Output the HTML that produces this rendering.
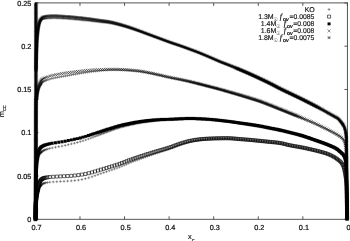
<!DOCTYPE html>
<html><head><meta charset="utf-8"><title>m_cc vs x_c</title>
<style>html,body{margin:0;padding:0;background:#fff}svg{display:block}</style></head>
<body>
<svg width="350" height="241" viewBox="0 0 350 241">
<rect width="350" height="241" fill="#fff"/>
<g stroke="#444" stroke-width="0.9" fill="none">
<rect x="35.4" y="2.9" width="312.00" height="216.40"/>
<path d="M35.40 219.3v-3M35.40 2.9v3M79.97 219.3v-3M79.97 2.9v3M124.54 219.3v-3M124.54 2.9v3M169.11 219.3v-3M169.11 2.9v3M213.69 219.3v-3M213.69 2.9v3M258.26 219.3v-3M258.26 2.9v3M302.83 219.3v-3M302.83 2.9v3M347.40 219.3v-3M347.40 2.9v3M35.4 219.30h3M347.4 219.30h-3M35.4 176.02h3M347.4 176.02h-3M35.4 132.74h3M347.4 132.74h-3M35.4 89.46h3M347.4 89.46h-3M35.4 46.18h3M347.4 46.18h-3M35.4 2.90h3M347.4 2.90h-3"/>
</g>
<path d="M35.15 70.5H37.85M36.5 69.15V71.85M35.16 69.8H37.86M36.51 68.45V71.15M35.18 69.1H37.88M36.53 67.75V70.45M35.19 68.4H37.89M36.54 67.05V69.75M35.2 67.7H37.9M36.55 66.35V69.05M35.22 67H37.92M36.57 65.65V68.35M35.23 66.3H37.93M36.58 64.95V67.65M35.24 65.6H37.94M36.59 64.25V66.95M35.26 64.9H37.96M36.61 63.55V66.25M35.27 64.2H37.97M36.62 62.85V65.55M35.28 63.51H37.98M36.63 62.16V64.86M35.3 62.81H38M36.65 61.46V64.16M35.31 62.11H38.01M36.66 60.76V63.46M35.32 61.41H38.02M36.67 60.06V62.76M35.34 60.71H38.04M36.69 59.36V62.06M35.35 60.01H38.05M36.7 58.66V61.36M35.37 59.32H38.07M36.72 57.97V60.67M35.38 58.62H38.08M36.73 57.27V59.97M35.4 57.92H38.1M36.75 56.57V59.27M35.41 57.22H38.11M36.76 55.87V58.57M35.43 56.52H38.13M36.78 55.17V57.87M35.44 55.82H38.14M36.79 54.47V57.17M35.46 55.12H38.16M36.81 53.77V56.47M35.48 54.42H38.18M36.83 53.07V55.77M35.5 53.72H38.2M36.85 52.37V55.07M35.52 53.02H38.22M36.87 51.67V54.37M35.54 52.32H38.24M36.89 50.97V53.67M35.56 51.62H38.26M36.91 50.27V52.97M35.58 50.92H38.28M36.93 49.57V52.27M35.61 50.21H38.31M36.96 48.86V51.56M35.63 49.51H38.33M36.98 48.16V50.86M35.66 48.81H38.36M37.01 47.46V50.16M35.69 48.11H38.39M37.04 46.76V49.46M35.71 47.41H38.41M37.06 46.06V48.76M35.74 46.71H38.44M37.09 45.36V48.06M35.78 46.01H38.48M37.13 44.66V47.36M35.81 45.3H38.51M37.16 43.95V46.65M35.85 44.6H38.55M37.2 43.25V45.95M35.88 43.9H38.58M37.23 42.55V45.25M35.92 43.2H38.62M37.27 41.85V44.55M35.96 42.49H38.66M37.31 41.14V43.84M36.01 41.79H38.71M37.36 40.44V43.14M36.05 41.09H38.75M37.4 39.74V42.44M36.1 40.39H38.8M37.45 39.04V41.74M36.15 39.68H38.85M37.5 38.33V41.03M36.2 38.98H38.9M37.55 37.63V40.33M36.25 38.27H38.95M37.6 36.92V39.62M36.31 37.57H39.01M37.66 36.22V38.92M36.36 36.86H39.06M37.71 35.51V38.21M36.42 36.16H39.12M37.77 34.81V37.51M36.49 35.45H39.19M37.84 34.1V36.8M36.55 34.75H39.25M37.9 33.4V36.1M36.62 34.04H39.32M37.97 32.69V35.39M36.69 33.33H39.39M38.04 31.98V34.68M36.77 32.63H39.47M38.12 31.28V33.98M36.85 31.92H39.55M38.2 30.57V33.27M36.93 31.21H39.63M38.28 29.86V32.56M37.02 30.51H39.72M38.37 29.16V31.86M37.12 29.8H39.82M38.47 28.45V31.15M37.22 29.09H39.92M38.57 27.74V30.44M37.32 28.39H40.02M38.67 27.04V29.74M37.44 27.68H40.14M38.79 26.33V29.03M37.58 26.98H40.28M38.93 25.63V28.33M37.73 26.29H40.43M39.08 24.94V27.64M37.89 25.59H40.59M39.24 24.24V26.94M38.05 24.9H40.75M39.4 23.55V26.25M38.22 24.2H40.92M39.57 22.85V25.55M38.4 23.5H41.1M39.75 22.15V24.85M38.6 22.81H41.3M39.95 21.46V24.16M38.84 22.14H41.54M40.19 20.79V23.49M39.11 21.47H41.81M40.46 20.12V22.82M39.48 20.87H42.18M40.83 19.52V22.22M39.95 20.35H42.65M41.3 19V21.7M39.88 19.88H42.58M41.23 18.53V21.23M40.45 19.44H43.15M41.8 18.09V20.79M41.07 19.05H43.77M42.42 17.7V20.4M41.78 18.75H44.48M43.13 17.4V20.1M42.62 18.65H45.32M43.97 17.3V20M43.54 18.65H46.24M44.89 17.3V20M44.5 18.45H47.2M45.85 17.1V19.8M45.55 18.29H48.25M46.9 16.94V19.64M46.67 18.19H49.37M48.02 16.84V19.54M47.87 18.11H50.57M49.22 16.76V19.46M49.07 18.03H51.77M50.42 16.68V19.38M50.27 17.97H52.97M51.62 16.62V19.32M51.46 17.94H54.16M52.81 16.59V19.29M52.66 17.92H55.36M54.01 16.57V19.27M53.86 17.94H56.56M55.21 16.59V19.29M55.06 17.98H57.76M56.41 16.63V19.33M56.26 18.04H58.96M57.61 16.69V19.39M57.46 18.1H60.16M58.81 16.75V19.45M58.66 18.16H61.36M60.01 16.81V19.51M59.86 18.23H62.56M61.21 16.88V19.58M61.05 18.3H63.75M62.4 16.95V19.65M62.25 18.37H64.95M63.6 17.02V19.72M63.45 18.45H66.15M64.8 17.1V19.8M64.65 18.53H67.35M66 17.18V19.88M65.84 18.61H68.54M67.19 17.26V19.96M67.04 18.7H69.74M68.39 17.35V20.05M68.24 18.79H70.94M69.59 17.44V20.14M69.43 18.88H72.13M70.78 17.53V20.23M70.62 18.98H73.32M71.97 17.63V20.33M71.81 19.09H74.51M73.16 17.74V20.44M72.99 19.19H75.69M74.34 17.84V20.54M74.17 19.3H76.87M75.52 17.95V20.65M75.34 19.42H78.04M76.69 18.07V20.77M76.51 19.53H79.21M77.86 18.18V20.88M77.67 19.65H80.37M79.02 18.3V21M78.83 19.77H81.53M80.18 18.42V21.12M79.98 19.86H82.68M81.33 18.51V21.21M81.13 19.97H83.83M82.48 18.62V21.32M82.27 20.07H84.97M83.62 18.72V21.42M83.41 20.18H86.11M84.76 18.83V21.53M84.54 20.29H87.24M85.89 18.94V21.64M85.67 20.4H88.37M87.02 19.05V21.75M86.79 20.52H89.49M88.14 19.17V21.87M87.91 20.64H90.61M89.26 19.29V21.99M89.02 20.76H91.72M90.37 19.41V22.11M90.13 20.88H92.83M91.48 19.53V22.23M91.24 21.01H93.94M92.59 19.66V22.36M92.33 21.15H95.03M93.68 19.8V22.5M93.43 21.28H96.13M94.78 19.93V22.63M94.52 21.42H97.22M95.87 20.07V22.77M95.6 21.56H98.3M96.95 20.21V22.91M96.68 21.69H99.38M98.03 20.34V23.04M97.76 21.83H100.46M99.11 20.48V23.18M98.83 21.95H101.53M100.18 20.6V23.3M99.9 22.07H102.6M101.25 20.72V23.42M100.97 22.18H103.67M102.32 20.83V23.53M102.03 22.29H104.73M103.38 20.94V23.64M103.09 22.39H105.79M104.44 21.04V23.74M104.14 22.5H106.84M105.49 21.15V23.85M105.19 22.62H107.89M106.54 21.27V23.97M106.23 22.74H108.93M107.58 21.39V24.09M107.27 22.88H109.97M108.62 21.53V24.23M108.3 23.04H111M109.65 21.69V24.39M109.32 23.22H112.02M110.67 21.87V24.57M110.34 23.41H113.04M111.69 22.06V24.76M111.34 23.61H114.04M112.69 22.26V24.96M112.35 23.83H115.05M113.7 22.48V25.18M113.34 24.05H116.04M114.69 22.7V25.4M114.33 24.28H117.03M115.68 22.93V25.63M115.31 24.51H118.01M116.66 23.16V25.86M116.29 24.75H118.99M117.64 23.4V26.1M117.26 25H119.96M118.61 23.65V26.35M118.23 25.24H120.93M119.58 23.89V26.59M119.2 25.49H121.9M120.55 24.14V26.84M120.16 25.74H122.86M121.51 24.39V27.09M121.12 26H123.82M122.47 24.65V27.35M122.08 26.26H124.78M123.43 24.91V27.61M123.03 26.53H125.73M124.38 25.18V27.88M123.99 26.8H126.69M125.34 25.45V28.15M124.94 27.08H127.64M126.29 25.73V28.43M125.89 27.36H128.59M127.24 26.01V28.71M126.84 27.65H129.54M128.19 26.3V29M127.79 27.94H130.49M129.14 26.59V29.29M128.74 28.23H131.44M130.09 26.88V29.58M129.69 28.53H132.39M131.04 27.18V29.88M130.63 28.83H133.33M131.98 27.48V30.18M131.58 29.14H134.28M132.93 27.79V30.49M132.52 29.45H135.22M133.87 28.1V30.8M133.46 29.77H136.16M134.81 28.42V31.12M134.4 30.09H137.1M135.75 28.74V31.44M135.34 30.41H138.04M136.69 29.06V31.76M136.28 30.73H138.98M137.63 29.38V32.08M137.21 31.05H139.91M138.56 29.7V32.4M138.15 31.38H140.85M139.5 30.03V32.73M139.09 31.7H141.79M140.44 30.35V33.05M140.03 32.03H142.73M141.38 30.68V33.38M140.96 32.36H143.66M142.31 31.01V33.71M141.9 32.69H144.6M143.25 31.34V34.04M142.83 33.03H145.53M144.18 31.68V34.38M143.76 33.36H146.46M145.11 32.01V34.71M144.7 33.69H147.4M146.05 32.34V35.04M145.63 34.03H148.33M146.98 32.68V35.38M146.57 34.36H149.27M147.92 33.01V35.71M147.5 34.69H150.2M148.85 33.34V36.04M148.44 35.02H151.14M149.79 33.67V36.37M149.37 35.37H152.07M150.72 34.02V36.72M150.31 35.72H153.01M151.66 34.37V37.07M151.25 36.07H153.95M152.6 34.72V37.42M152.18 36.41H154.88M153.53 35.06V37.76M153.12 36.76H155.82M154.47 35.41V38.11M154.06 37.11H156.76M155.41 35.76V38.46M155 37.45H157.7M156.35 36.1V38.8M155.94 37.8H158.64M157.29 36.45V39.15M156.88 38.14H159.58M158.23 36.79V39.49M157.81 38.49H160.51M159.16 37.14V39.84M158.75 38.84H161.45M160.1 37.49V40.19M159.69 39.19H162.39M161.04 37.84V40.54M160.63 39.54H163.33M161.98 38.19V40.89M161.56 39.89H164.26M162.91 38.54V41.24M162.5 40.24H165.2M163.85 38.89V41.59M163.44 40.59H166.14M164.79 39.24V41.94M164.37 40.94H167.07M165.72 39.59V42.29M165.31 41.29H168.01M166.66 39.94V42.64M166.25 41.63H168.95M167.6 40.28V42.98M167.19 41.97H169.89M168.54 40.62V43.32M168.13 42.31H170.83M169.48 40.96V43.66M169.07 42.65H171.77M170.42 41.3V44M170.01 42.98H172.71M171.36 41.63V44.33M170.96 43.3H173.66M172.31 41.95V44.65M171.91 43.62H174.61M173.26 42.27V44.97M172.86 43.94H175.56M174.21 42.59V45.29M173.8 44.26H176.5M175.15 42.91V45.61M174.75 44.57H177.45M176.1 43.22V45.92M175.7 44.89H178.4M177.05 43.54V46.24M176.65 45.21H179.35M178 43.86V46.56M177.59 45.53H180.29M178.94 44.18V46.88M178.54 45.86H181.24M179.89 44.51V47.21M179.48 46.19H182.18M180.83 44.84V47.54M180.43 46.53H183.13M181.78 45.18V47.88M181.37 46.86H184.07M182.72 45.51V48.21M182.31 47.19H185.01M183.66 45.84V48.54M183.25 47.53H185.95M184.6 46.18V48.88M184.19 47.87H186.89M185.54 46.52V49.22M185.13 48.21H187.83M186.48 46.86V49.56M186.07 48.55H188.77M187.42 47.2V49.9M187.01 48.9H189.71M188.36 47.55V50.25M187.95 49.24H190.65M189.3 47.89V50.59M188.89 49.59H191.59M190.24 48.24V50.94M189.83 49.94H192.53M191.18 48.59V51.29M190.76 50.28H193.46M192.11 48.93V51.63M191.7 50.63H194.4M193.05 49.28V51.98M192.64 50.98H195.34M193.99 49.63V52.33M193.57 51.33H196.27M194.92 49.98V52.68M194.51 51.69H197.21M195.86 50.34V53.04M195.44 52.05H198.14M196.79 50.7V53.4M196.38 52.41H199.08M197.73 51.06V53.76M197.31 52.77H200.01M198.66 51.42V54.12M198.24 53.14H200.94M199.59 51.79V54.49M199.17 53.51H201.87M200.52 52.16V54.86M200.09 53.88H202.79M201.44 52.53V55.23M201.02 54.27H203.72M202.37 52.92V55.62M201.94 54.65H204.64M203.29 53.3V56M202.86 55.04H205.56M204.21 53.69V56.39M203.78 55.43H206.48M205.13 54.08V56.78M204.7 55.82H207.4M206.05 54.47V57.17M205.62 56.21H208.32M206.97 54.86V57.56M206.54 56.6H209.24M207.89 55.25V57.95M207.46 56.99H210.16M208.81 55.64V58.34M208.38 57.39H211.08M209.73 56.04V58.74M209.3 57.78H212M210.65 56.43V59.13M210.22 58.18H212.92M211.57 56.83V59.53M211.14 58.57H213.84M212.49 57.22V59.92M212.05 58.98H214.75M213.4 57.63V60.33M212.97 59.38H215.67M214.32 58.03V60.73M213.89 59.78H216.59M215.24 58.43V61.13M214.8 60.21H217.5M216.15 58.86V61.56M215.72 60.63H218.42M217.07 59.28V61.98M216.64 61.05H219.34M217.99 59.7V62.4M217.56 61.46H220.26M218.91 60.11V62.81M218.49 61.86H221.19M219.84 60.51V63.21M219.42 62.26H222.12M220.77 60.91V63.61M220.35 62.65H223.05M221.7 61.3V64M221.28 63.03H223.98M222.63 61.68V64.38M222.22 63.41H224.92M223.57 62.06V64.76M223.15 63.79H225.85M224.5 62.44V65.14M224.09 64.16H226.79M225.44 62.81V65.51M225.03 64.53H227.73M226.38 63.18V65.88M225.96 64.91H228.66M227.31 63.56V66.26M226.9 65.28H229.6M228.25 63.93V66.63M227.84 65.66H230.54M229.19 64.31V67.01M228.77 66.05H231.47M230.12 64.7V67.4M229.7 66.44H232.4M231.05 65.09V67.79M230.63 66.83H233.33M231.98 65.48V68.18M231.56 67.22H234.26M232.91 65.87V68.57M232.49 67.61H235.19M233.84 66.26V68.96M233.42 68H236.12M234.77 66.65V69.35M234.35 68.4H237.05M235.7 67.05V69.75M235.28 68.8H237.98M236.63 67.45V70.15M236.2 69.2H238.9M237.55 67.85V70.55M237.13 69.6H239.83M238.48 68.25V70.95M238.05 70.01H240.75M239.4 68.66V71.36M238.98 70.41H241.68M240.33 69.06V71.76M239.9 70.82H242.6M241.25 69.47V72.17M240.82 71.23H243.52M242.17 69.88V72.58M241.74 71.65H244.44M243.09 70.3V73M242.66 72.06H245.36M244.01 70.71V73.41M243.58 72.48H246.28M244.93 71.13V73.83M244.5 72.88H247.2M245.85 71.53V74.23M245.42 73.28H248.12M246.77 71.93V74.63M246.34 73.68H249.04M247.69 72.33V75.03M247.25 74.08H249.95M248.6 72.73V75.43M248.17 74.49H250.87M249.52 73.14V75.84M249.08 74.89H251.78M250.43 73.54V76.24M249.99 75.3H252.69M251.34 73.95V76.65M250.9 75.71H253.6M252.25 74.36V77.06M251.81 76.13H254.51M253.16 74.78V77.48M252.72 76.54H255.42M254.07 75.19V77.89M253.63 76.96H256.33M254.98 75.61V78.31M254.54 77.38H257.24M255.89 76.03V78.73M255.45 77.8H258.15M256.8 76.45V79.15M256.35 78.22H259.05M257.7 76.87V79.57M257.26 78.65H259.96M258.61 77.3V80M258.16 79.07H260.86M259.51 77.72V80.42M259.07 79.5H261.77M260.42 78.15V80.85M259.97 79.92H262.67M261.32 78.57V81.27M260.88 80.35H263.58M262.23 79V81.7M261.78 80.78H264.48M263.13 79.43V82.13M262.69 81.2H265.39M264.04 79.85V82.55M263.59 81.63H266.29M264.94 80.28V82.98M264.49 82.07H267.19M265.84 80.72V83.42M265.39 82.5H268.09M266.74 81.15V83.85M266.29 82.94H268.99M267.64 81.59V84.29M267.19 83.38H269.89M268.54 82.03V84.73M268.09 83.82H270.79M269.44 82.47V85.17M268.98 84.27H271.68M270.33 82.92V85.62M269.87 84.72H272.57M271.22 83.37V86.07M270.76 85.18H273.46M272.11 83.83V86.53M271.65 85.64H274.35M273 84.29V86.99M272.53 86.11H275.23M273.88 84.76V87.46M273.42 86.58H276.12M274.77 85.23V87.93M274.3 87.04H277M275.65 85.69V88.39M275.18 87.51H277.88M276.53 86.16V88.86M276.07 87.98H278.77M277.42 86.63V89.33M276.96 88.44H279.66M278.31 87.09V89.79M277.85 88.89H280.55M279.2 87.54V90.24M278.74 89.34H281.44M280.09 87.99V90.69M279.63 89.79H282.33M280.98 88.44V91.14M280.53 90.23H283.23M281.88 88.88V91.58M281.43 90.66H284.13M282.78 89.31V92.01M282.33 91.1H285.03M283.68 89.75V92.45M283.24 91.53H285.94M284.59 90.18V92.88M284.14 91.96H286.84M285.49 90.61V93.31M285.04 92.39H287.74M286.39 91.04V93.74M285.95 92.81H288.65M287.3 91.46V94.16M286.85 93.24H289.55M288.2 91.89V94.59M287.75 93.67H290.45M289.1 92.32V95.02M288.66 94.1H291.36M290.01 92.75V95.45M289.56 94.53H292.26M290.91 93.18V95.88M290.46 94.97H293.16M291.81 93.62V96.32M291.36 95.4H294.06M292.71 94.05V96.75M292.27 95.83H294.97M293.62 94.48V97.18M293.17 96.26H295.87M294.52 94.91V97.61M294.07 96.69H296.77M295.42 95.34V98.04M294.97 97.12H297.67M296.32 95.77V98.47M295.87 97.55H298.57M297.22 96.2V98.9M296.77 97.99H299.47M298.12 96.64V99.34M297.67 98.42H300.37M299.02 97.07V99.77M298.57 98.86H301.27M299.92 97.51V100.21M299.47 99.3H302.17M300.82 97.95V100.65M300.37 99.74H303.07M301.72 98.39V101.09M301.26 100.19H303.96M302.61 98.84V101.54M302.16 100.63H304.86M303.51 99.28V101.98M303.06 101.08H305.76M304.41 99.73V102.43M303.95 101.53H306.65M305.3 100.18V102.88M304.84 101.97H307.54M306.19 100.62V103.32M305.74 102.42H308.44M307.09 101.07V103.77M306.63 102.87H309.33M307.98 101.52V104.22M307.52 103.33H310.22M308.87 101.98V104.68M308.41 103.78H311.11M309.76 102.43V105.13M309.3 104.23H312M310.65 102.88V105.58M310.19 104.69H312.89M311.54 103.34V106.04M311.08 105.14H313.78M312.43 103.79V106.49M311.97 105.6H314.67M313.32 104.25V106.95M312.86 106.06H315.56M314.21 104.71V107.41M313.75 106.52H316.45M315.1 105.17V107.87M314.65 106.98H317.35M316 105.63V108.33M315.62 107.49H318.32M316.97 106.14V108.84M316.68 108.05H319.38M318.03 106.7V109.4M317.83 108.66H320.53M319.18 107.31V110.01M319.08 109.34H321.78M320.43 107.99V110.69M320.43 110.08H323.13M321.78 108.73V111.43M321.9 110.89H324.6M323.25 109.54V112.24M323.37 111.72H326.07M324.72 110.37V113.07M324.82 112.54H327.52M326.17 111.19V113.89M326.26 113.35H328.96M327.61 112V114.7M327.67 114.15H330.37M329.02 112.8V115.5M329.08 114.94H331.78M330.43 113.59V116.29M330.47 115.72H333.17M331.82 114.37V117.07M331.85 116.48H334.55M333.2 115.13V117.83M333.21 117.25H335.91M334.56 115.9V118.6M334.57 117.99H337.27M335.92 116.64V119.34M335.91 118.71H338.61M337.26 117.36V120.06M337.05 119.69H339.75M338.4 118.34V121.04M338.02 120.77H340.72M339.37 119.42V122.12M338.87 121.79H341.57M340.22 120.44V123.14M339.64 122.7H342.34M340.99 121.35V124.05M340.35 123.55H343.05M341.7 122.2V124.9M340.98 124.36H343.68M342.33 123.01V125.71M341.53 125.15H344.23M342.88 123.8V126.5M342.01 125.9H344.71M343.36 124.55V127.25M342.44 126.63H345.14M343.79 125.28V127.98M342.8 127.34H345.5M344.15 125.99V128.69M343.09 128.07H345.79M344.44 126.72V129.42M343.36 128.8H346.06M344.71 127.45V130.15M343.6 129.54H346.3M344.95 128.19V130.89M343.82 130.3H346.52M345.17 128.95V131.65M344.01 131.06H346.71M345.36 129.71V132.41M344.18 131.82H346.88M345.53 130.47V133.17M344.32 132.6H347.02M345.67 131.25V133.95M344.44 133.38H347.14M345.79 132.03V134.73M344.54 134.17H347.24M345.89 132.82V135.52M344.63 134.95H347.33M345.98 133.6V136.3M344.72 135.74H347.42M346.07 134.39V137.09M344.84 136.52H347.54M346.19 135.17V137.87M344.98 137.29H347.68M346.33 135.94V138.64M345.01 138.09H347.71M346.36 136.74V139.44M345.03 138.89H347.73M346.38 137.54V140.24M345.05 139.69H347.75M346.4 138.34V141.04M345.07 140.49H347.77M346.42 139.14V141.84M345.08 141.28H347.78M346.43 139.93V142.63M345.09 142.08H347.79M346.44 140.73V143.43M345.1 142.88H347.8M346.45 141.53V144.23M345.11 143.68H347.81M346.46 142.33V145.03M345.12 144.48H347.82M346.47 143.13V145.83M345.12 145.28H347.82M346.47 143.93V146.63M345.13 146.08H347.83M346.48 144.73V147.43M345.14 146.88H347.84M346.49 145.53V148.23M345.14 147.68H347.84M346.49 146.33V149.03M345.15 148.48H347.85M346.5 147.13V149.83M345.16 149.28H347.86M346.51 147.93V150.63M345.16 150.08H347.86M346.51 148.73V151.43M345.17 150.88H347.87M346.52 149.53V152.23M345.18 151.68H347.88M346.53 150.33V153.03M345.18 152.48H347.88M346.53 151.13V153.83M345.19 153.28H347.89M346.54 151.93V154.63M345.19 154.07H347.89M346.54 152.72V155.42M345.2 154.87H347.9M346.55 153.52V156.22M345.21 155.67H347.91M346.56 154.32V157.02M345.21 156.47H347.91M346.56 155.12V157.82M345.22 157.27H347.92M346.57 155.92V158.62M345.23 158.07H347.93M346.58 156.72V159.42M345.23 158.87H347.93M346.58 157.52V160.22M345.24 159.67H347.94M346.59 158.32V161.02M345.25 160.47H347.95M346.6 159.12V161.82M345.26 161.27H347.96M346.61 159.92V162.62M345.27 162.07H347.97M346.62 160.72V163.42M345.27 162.87H347.97M346.62 161.52V164.22M345.28 163.67H347.98M346.63 162.32V165.02M345.29 164.47H347.99M346.64 163.12V165.82M345.3 165.27H348M346.65 163.92V166.62M345.31 166.07H348.01M346.66 164.72V167.42M345.31 166.86H348.01M346.66 165.51V168.21M345.32 167.66H348.02M346.67 166.31V169.01M345.33 168.46H348.03M346.68 167.11V169.81M345.34 169.26H348.04M346.69 167.91V170.61M345.35 170.06H348.05M346.7 168.71V171.41M345.36 170.86H348.06M346.71 169.51V172.21M345.36 171.66H348.06M346.71 170.31V173.01M345.37 172.46H348.07M346.72 171.11V173.81M345.38 173.26H348.08M346.73 171.91V174.61M345.39 174.06H348.09M346.74 172.71V175.41M345.4 174.86H348.1M346.75 173.51V176.21M345.41 175.66H348.11M346.76 174.31V177.01M345.41 176.46H348.11M346.76 175.11V177.81M345.42 177.26H348.12M346.77 175.91V178.61M345.43 178.05H348.13M346.78 176.7V179.4M345.44 178.85H348.14M346.79 177.5V180.2M345.45 179.65H348.15M346.8 178.3V181M345.46 180.45H348.16M346.81 179.1V181.8M345.46 181.25H348.16M346.81 179.9V182.6M345.47 182.05H348.17M346.82 180.7V183.4M345.48 182.85H348.18M346.83 181.5V184.2M345.49 183.65H348.19M346.84 182.3V185M345.49 184.45H348.19M346.84 183.1V185.8M345.5 185.25H348.2M346.85 183.9V186.6M345.51 186.05H348.21M346.86 184.7V187.4M345.52 186.85H348.22M346.87 185.5V188.2M345.52 187.65H348.22M346.87 186.3V189M345.53 188.45H348.23M346.88 187.1V189.8M345.54 189.25H348.24M346.89 187.9V190.6M345.55 190.05H348.25M346.9 188.7V191.4M345.55 190.84H348.25M346.9 189.49V192.19M345.56 191.64H348.26M346.91 190.29V192.99M345.57 192.44H348.27M346.92 191.09V193.79M345.57 193.24H348.27M346.92 191.89V194.59M345.58 194.04H348.28M346.93 192.69V195.39M345.58 194.84H348.28M346.93 193.49V196.19M345.59 195.64H348.29M346.94 194.29V196.99M345.6 196.44H348.3M346.95 195.09V197.79M345.6 197.24H348.3M346.95 195.89V198.59M345.61 198.04H348.31M346.96 196.69V199.39M345.61 198.84H348.31M346.96 197.49V200.19M345.62 199.64H348.32M346.97 198.29V200.99M345.62 200.44H348.32M346.97 199.09V201.79M345.63 201.24H348.33M346.98 199.89V202.59M345.64 202.04H348.34M346.99 200.69V203.39M345.64 202.84H348.34M346.99 201.49V204.19M345.65 203.64H348.35M347 202.29V204.99M345.65 204.44H348.35M347 203.09V205.79M345.66 205.24H348.36M347.01 203.89V206.59M345.66 206.04H348.36M347.01 204.69V207.39M345.67 206.83H348.37M347.02 205.48V208.18M345.67 207.63H348.37M347.02 206.28V208.98M345.68 208.43H348.38M347.03 207.08V209.78M345.68 209.23H348.38M347.03 207.88V210.58M345.69 210.03H348.39M347.04 208.68V211.38M345.69 210.83H348.39M347.04 209.48V212.18M345.7 211.63H348.4M347.05 210.28V212.98M345.7 212.43H348.4M347.05 211.08V213.78M345.71 213.23H348.41M347.06 211.88V214.58M345.71 214.03H348.41M347.06 212.68V215.38M345.72 214.83H348.42M347.07 213.48V216.18M345.72 215.63H348.42M347.07 214.28V216.98M345.73 216.43H348.43M347.08 215.08V217.78M345.73 217.23H348.43M347.08 215.88V218.58M345.74 218.03H348.44M347.09 216.68V219.38M345.75 218.83H348.45M347.1 217.48V220.18M34.75 219.3H37.45M36.1 217.95V220.65M34.75 219.3H37.45M36.1 217.95V220.65M34.75 218.6H37.45M36.1 217.25V219.95M34.75 217.9H37.45M36.1 216.55V219.25M34.76 217.2H37.46M36.11 215.85V218.55M34.76 216.5H37.46M36.11 215.15V217.85M34.76 215.8H37.46M36.11 214.45V217.15M34.76 215.1H37.46M36.11 213.75V216.45M34.76 214.4H37.46M36.11 213.05V215.75M34.76 213.7H37.46M36.11 212.35V215.05M34.77 213H37.47M36.12 211.65V214.35M34.77 212.3H37.47M36.12 210.95V213.65M34.77 211.6H37.47M36.12 210.25V212.95M34.77 210.9H37.47M36.12 209.55V212.25M34.77 210.2H37.47M36.12 208.85V211.55M34.77 209.5H37.47M36.12 208.15V210.85M34.77 208.8H37.47M36.12 207.45V210.15M34.78 208.1H37.48M36.13 206.75V209.45M34.78 207.4H37.48M36.13 206.05V208.75M34.78 206.7H37.48M36.13 205.35V208.05M34.78 206H37.48M36.13 204.65V207.35M34.78 205.3H37.48M36.13 203.95V206.65M34.78 204.6H37.48M36.13 203.25V205.95M34.78 203.9H37.48M36.13 202.55V205.25M34.78 203.2H37.48M36.13 201.85V204.55M34.79 202.5H37.49M36.14 201.15V203.85M34.79 201.8H37.49M36.14 200.45V203.15M34.79 201.1H37.49M36.14 199.75V202.45M34.79 200.4H37.49M36.14 199.05V201.75M34.79 199.7H37.49M36.14 198.35V201.05M34.79 199H37.49M36.14 197.65V200.35M34.79 198.3H37.49M36.14 196.95V199.65M34.8 197.6H37.5M36.15 196.25V198.95M34.8 196.9H37.5M36.15 195.55V198.25M34.8 196.2H37.5M36.15 194.85V197.55M34.8 195.5H37.5M36.15 194.15V196.85M34.8 194.8H37.5M36.15 193.45V196.15M34.8 194.1H37.5M36.15 192.75V195.45M34.8 193.4H37.5M36.15 192.05V194.75M34.8 192.7H37.5M36.15 191.35V194.05M34.81 192H37.51M36.16 190.65V193.35M34.81 191.3H37.51M36.16 189.95V192.65M34.81 190.6H37.51M36.16 189.25V191.95M34.81 189.9H37.51M36.16 188.55V191.25M34.81 189.2H37.51M36.16 187.85V190.55M34.81 188.5H37.51M36.16 187.15V189.85M34.81 187.8H37.51M36.16 186.45V189.15M34.82 187.1H37.52M36.17 185.75V188.45M34.82 186.4H37.52M36.17 185.05V187.75M34.82 185.7H37.52M36.17 184.35V187.05M34.82 185H37.52M36.17 183.65V186.35M34.82 184.3H37.52M36.17 182.95V185.65M34.82 183.6H37.52M36.17 182.25V184.95M34.82 182.9H37.52M36.17 181.55V184.25M34.82 182.2H37.52M36.17 180.85V183.55M34.83 181.5H37.53M36.18 180.15V182.85M34.83 180.8H37.53M36.18 179.45V182.15M34.83 180.1H37.53M36.18 178.75V181.45M34.83 179.4H37.53M36.18 178.05V180.75M34.83 178.7H37.53M36.18 177.35V180.05M34.83 178H37.53M36.18 176.65V179.35M34.83 177.3H37.53M36.18 175.95V178.65M34.84 176.6H37.54M36.19 175.25V177.95M34.84 175.9H37.54M36.19 174.55V177.25M34.84 175.2H37.54M36.19 173.85V176.55M34.84 174.5H37.54M36.19 173.15V175.85M34.84 173.8H37.54M36.19 172.45V175.15M34.84 173.1H37.54M36.19 171.75V174.45M34.84 172.4H37.54M36.19 171.05V173.75M34.85 171.7H37.55M36.2 170.35V173.05M34.85 171H37.55M36.2 169.65V172.35M34.85 170.3H37.55M36.2 168.95V171.65M34.85 169.6H37.55M36.2 168.25V170.95M34.85 168.9H37.55M36.2 167.55V170.25M34.85 168.2H37.55M36.2 166.85V169.55M34.85 167.5H37.55M36.2 166.15V168.85M34.86 166.8H37.56M36.21 165.45V168.15M34.86 166.1H37.56M36.21 164.75V167.45M34.86 165.4H37.56M36.21 164.05V166.75M34.86 164.7H37.56M36.21 163.35V166.05M34.86 164H37.56M36.21 162.65V165.35M34.86 163.3H37.56M36.21 161.95V164.65M34.86 162.6H37.56M36.21 161.25V163.95M34.87 161.9H37.57M36.22 160.55V163.25M34.87 161.2H37.57M36.22 159.85V162.55M34.87 160.5H37.57M36.22 159.15V161.85M34.87 159.8H37.57M36.22 158.45V161.15M34.87 159.1H37.57M36.22 157.75V160.45M34.87 158.4H37.57M36.22 157.05V159.75M34.88 157.7H37.58M36.23 156.35V159.05M34.88 157H37.58M36.23 155.65V158.35M34.88 156.3H37.58M36.23 154.95V157.65M34.88 155.6H37.58M36.23 154.25V156.95M34.88 154.9H37.58M36.23 153.55V156.25M34.88 154.2H37.58M36.23 152.85V155.55M34.89 153.5H37.59M36.24 152.15V154.85M34.89 152.8H37.59M36.24 151.45V154.15M34.89 152.1H37.59M36.24 150.75V153.45M34.89 151.4H37.59M36.24 150.05V152.75M34.89 150.7H37.59M36.24 149.35V152.05M34.89 150H37.59M36.24 148.65V151.35M34.9 149.3H37.6M36.25 147.95V150.65M34.9 148.6H37.6M36.25 147.25V149.95M34.9 147.9H37.6M36.25 146.55V149.25M34.9 147.2H37.6M36.25 145.85V148.55M34.9 146.5H37.6M36.25 145.15V147.85M34.91 145.8H37.61M36.26 144.45V147.15M34.91 145.1H37.61M36.26 143.75V146.45M34.91 144.4H37.61M36.26 143.05V145.75M34.91 143.7H37.61M36.26 142.35V145.05M34.91 143H37.61M36.26 141.65V144.35M34.92 142.3H37.62M36.27 140.95V143.65M34.92 141.6H37.62M36.27 140.25V142.95M34.92 140.9H37.62M36.27 139.55V142.25M34.92 140.2H37.62M36.27 138.85V141.55M34.92 139.5H37.62M36.27 138.15V140.85M34.93 138.8H37.63M36.28 137.45V140.15M34.93 138.1H37.63M36.28 136.75V139.45M34.93 137.4H37.63M36.28 136.05V138.75M34.93 136.7H37.63M36.28 135.35V138.05M34.93 136H37.63M36.28 134.65V137.35M34.94 135.3H37.64M36.29 133.95V136.65M34.94 134.6H37.64M36.29 133.25V135.95M34.94 133.9H37.64M36.29 132.55V135.25M34.94 133.2H37.64M36.29 131.85V134.55M34.95 132.5H37.65M36.3 131.15V133.85M34.95 131.8H37.65M36.3 130.45V133.15M34.95 131.1H37.65M36.3 129.75V132.45M34.95 130.4H37.65M36.3 129.05V131.75M34.96 129.7H37.66M36.31 128.35V131.05M34.96 129H37.66M36.31 127.65V130.35M34.96 128.3H37.66M36.31 126.95V129.65M34.96 127.6H37.66M36.31 126.25V128.95M34.97 126.9H37.67M36.32 125.55V128.25M34.97 126.2H37.67M36.32 124.85V127.55M34.97 125.5H37.67M36.32 124.15V126.85M34.98 124.8H37.68M36.33 123.45V126.15M34.98 124.1H37.68M36.33 122.75V125.45M34.98 123.4H37.68M36.33 122.05V124.75M34.98 122.7H37.68M36.33 121.35V124.05M34.99 122H37.69M36.34 120.65V123.35M34.99 121.3H37.69M36.34 119.95V122.65M34.99 120.6H37.69M36.34 119.25V121.95M35 119.9H37.7M36.35 118.55V121.25M35 119.2H37.7M36.35 117.85V120.55M35 118.5H37.7M36.35 117.15V119.85M35.01 117.8H37.71M36.36 116.45V119.15M35.01 117.1H37.71M36.36 115.75V118.45M35.02 116.4H37.72M36.37 115.05V117.75M35.02 115.7H37.72M36.37 114.35V117.05M35.03 115H37.73M36.38 113.65V116.35M35.03 114.3H37.73M36.38 112.95V115.65M35.03 113.6H37.73M36.38 112.25V114.95M35.04 112.9H37.74M36.39 111.55V114.25M35.04 112.2H37.74M36.39 110.85V113.55M35.05 111.5H37.75M36.4 110.15V112.85M35.05 110.8H37.75M36.4 109.45V112.15M35.06 110.1H37.76M36.41 108.75V111.45M35.07 109.4H37.77M36.42 108.05V110.75M35.08 108.7H37.78M36.43 107.35V110.05M35.08 108H37.78M36.43 106.65V109.35M35.09 107.3H37.79M36.44 105.95V108.65M35.1 106.6H37.8M36.45 105.25V107.95M35.11 105.9H37.81M36.46 104.55V107.25M35.11 105.2H37.81M36.46 103.85V106.55M35.12 104.5H37.82M36.47 103.15V105.85M35.14 103.8H37.84M36.49 102.45V105.15M35.15 103.1H37.85M36.5 101.75V104.45M35.17 102.4H37.87M36.52 101.05V103.75M35.18 101.7H37.88M36.53 100.35V103.05M35.2 101H37.9M36.55 99.65V102.35M35.23 100.3H37.93M36.58 98.95V101.65M35.26 99.61H37.96M36.61 98.26V100.96M35.32 98.94H38.02M36.67 97.59V100.29M35.49 99.12H38.19M36.84 97.77V100.47M35.67 99.67H38.37M37.02 98.32V101.02M35.77 99H38.47M37.12 97.65V100.35M35.83 98.32H38.53M37.18 96.97V99.67M35.89 97.64H38.59M37.24 96.29V98.99M35.96 96.96H38.66M37.31 95.61V98.31M36.03 96.28H38.73M37.38 94.93V97.63M36.11 95.6H38.81M37.46 94.25V96.95M36.19 94.93H38.89M37.54 93.58V96.28M36.28 94.26H38.98M37.63 92.91V95.61M36.38 93.58H39.08M37.73 92.23V94.93M36.49 92.91H39.19M37.84 91.56V94.26M36.6 92.25H39.3M37.95 90.9V93.6M36.72 91.59H39.42M38.07 90.24V92.94M36.87 90.93H39.57M38.22 89.58V92.28M37.03 90.29H39.73M38.38 88.94V91.64M37.21 89.66H39.91M38.56 88.31V91.01M37.4 89.03H40.1M38.75 87.68V90.38M37.6 88.4H40.3M38.95 87.05V89.75M37.81 87.77H40.51M39.16 86.42V89.12M38.05 87.16H40.75M39.4 85.81V88.51M38.31 86.57H41.01M39.66 85.22V87.92M38.6 85.99H41.3M39.95 84.64V87.34M38.92 85.44H41.62M40.27 84.09V86.79M39.28 84.91H41.98M40.63 83.56V86.26M39.67 84.4H42.37M41.02 83.05V85.75M40.07 83.9H42.77M41.42 82.55V85.25M39.89 83.32H42.59M41.24 81.97V84.67M40.4 82.72H43.1M41.75 81.37V84.07M41.02 82.21H43.72M42.37 80.86V83.56M41.74 81.72H44.44M43.09 80.37V83.07M42.64 81.24H45.34M43.99 79.89V82.59M43.73 80.77H46.43M45.08 79.42V82.12M45.06 80.27H47.76M46.41 78.92V81.62M46.65 79.73H49.35M48 78.38V81.08M48.56 79.12H51.26M49.91 77.77V80.47M50.48 78.55H53.18M51.83 77.2V79.9M52.43 78.13H55.13M53.78 76.78V79.48M54.39 77.75H57.09M55.74 76.4V79.1M56.36 77.36H59.06M57.71 76.01V78.71M58.32 76.98H61.02M59.67 75.63V78.33M60.29 76.62H62.99M61.64 75.27V77.97M62.26 76.28H64.96M63.61 74.93V77.63M64.23 75.95H66.93M65.58 74.6V77.3M66.22 75.58H68.92M67.57 74.23V76.93M68.2 75.22H70.9M69.55 73.87V76.57M70.18 74.86H72.88M71.53 73.51V76.21M72.17 74.5H74.87M73.52 73.15V75.85M74.15 74.16H76.85M75.5 72.81V75.51M76.14 73.82H78.84M77.49 72.47V75.17M78.13 73.49H80.83M79.48 72.14V74.84M80.12 73.16H82.82M81.47 71.81V74.51M82.1 72.84H84.8M83.45 71.49V74.19M84.09 72.53H86.79M85.44 71.18V73.88M86.08 72.23H88.78M87.43 70.88V73.58M88.08 71.95H90.78M89.43 70.6V73.3M90.07 71.68H92.77M91.42 70.33V73.03M92.07 71.44H94.77M93.42 70.09V72.79M94.06 71.21H96.76M95.41 69.86V72.56M96.06 71H98.76M97.41 69.65V72.35M98.06 70.79H100.76M99.41 69.44V72.14M100.05 70.6H102.75M101.4 69.25V71.95M102.04 70.41H104.74M103.39 69.06V71.76M104.02 70.24H106.72M105.37 68.89V71.59M105.98 70.09H108.68M107.33 68.74V71.44M107.93 69.95H110.63M109.28 68.6V71.3M109.86 69.89H112.56M111.21 68.54V71.24M111.78 69.88H114.48M113.13 68.53V71.23M113.69 69.88H116.39M115.04 68.53V71.23M115.58 69.9H118.28M116.93 68.55V71.25M117.46 69.94H120.16M118.81 68.59V71.29M119.32 70H122.02M120.67 68.65V71.35M121.17 70.07H123.87M122.52 68.72V71.42M123.01 70.17H125.71M124.36 68.82V71.52M124.83 70.27H127.53M126.18 68.92V71.62M126.64 70.39H129.34M127.99 69.04V71.74M128.43 70.53H131.13M129.78 69.18V71.88M130.22 70.66H132.92M131.57 69.31V72.01M131.98 70.81H134.68M133.33 69.46V72.16M133.74 70.96H136.44M135.09 69.61V72.31M135.48 71.13H138.18M136.83 69.78V72.48M137.2 71.33H139.9M138.55 69.98V72.68M138.91 71.55H141.61M140.26 70.2V72.9M140.61 71.81H143.31M141.96 70.46V73.16M142.28 72.08H144.98M143.63 70.73V73.43M143.94 72.38H146.64M145.29 71.03V73.73M145.59 72.69H148.29M146.94 71.34V74.04M147.22 73.01H149.92M148.57 71.66V74.36M148.85 73.33H151.55M150.2 71.98V74.68M150.45 73.65H153.15M151.8 72.3V75M152.05 73.99H154.75M153.4 72.64V75.34M153.63 74.34H156.33M154.98 72.99V75.69M155.2 74.68H157.9M156.55 73.33V76.03M156.75 75.03H159.45M158.1 73.68V76.38M158.3 75.38H161M159.65 74.03V76.73M159.83 75.72H162.53M161.18 74.37V77.07M161.35 76.07H164.05M162.7 74.72V77.42M162.87 76.42H165.57M164.22 75.07V77.77M164.37 76.77H167.07M165.72 75.42V78.12M165.86 77.11H168.56M167.21 75.76V78.46M167.34 77.44H170.04M168.69 76.09V78.79M168.81 77.76H171.51M170.16 76.41V79.11M170.28 78.06H172.98M171.63 76.71V79.41M171.72 78.35H174.42M173.07 77V79.7M173.13 78.62H175.83M174.48 77.27V79.97M174.51 78.89H177.21M175.86 77.54V80.24M175.87 79.15H178.57M177.22 77.8V80.5M177.2 79.41H179.9M178.55 78.06V80.76M178.5 79.67H181.2M179.85 78.32V81.02M179.78 79.93H182.48M181.13 78.58V81.28M181.03 80.2H183.73M182.38 78.85V81.55M182.25 80.46H184.95M183.6 79.11V81.81M183.45 80.71H186.15M184.8 79.36V82.06M184.63 80.97H187.33M185.98 79.62V82.32M185.78 81.22H188.48M187.13 79.87V82.57M186.91 81.47H189.61M188.26 80.12V82.82M188.01 81.73H190.71M189.36 80.38V83.08M189.1 81.98H191.8M190.45 80.63V83.33M190.16 82.23H192.86M191.51 80.88V83.58M191.2 82.48H193.9M192.55 81.13V83.83M192.22 82.73H194.92M193.57 81.38V84.08M193.21 82.97H195.91M194.56 81.62V84.32M194.19 83.22H196.89M195.54 81.87V84.57M195.15 83.46H197.85M196.5 82.11V84.81M196.09 83.7H198.79M197.44 82.35V85.05M197.01 83.93H199.71M198.36 82.58V85.28M197.92 84.16H200.62M199.27 82.81V85.51M198.8 84.38H201.5M200.15 83.03V85.73M199.67 84.6H202.37M201.02 83.25V85.95M200.55 84.82H203.25M201.9 83.47V86.17M201.42 85.05H204.12M202.77 83.7V86.4M202.29 85.27H204.99M203.64 83.92V86.62M203.16 85.5H205.86M204.51 84.15V86.85M204.03 85.72H206.73M205.38 84.37V87.07M204.9 85.95H207.6M206.25 84.6V87.3M205.77 86.17H208.47M207.12 84.82V87.52M206.64 86.4H209.34M207.99 85.05V87.75M207.51 86.62H210.21M208.86 85.27V87.97M208.38 86.85H211.08M209.73 85.5V88.2M209.26 87.07H211.96M210.61 85.72V88.42M210.13 87.29H212.83M211.48 85.94V88.64M211 87.51H213.7M212.35 86.16V88.86M211.87 87.74H214.57M213.22 86.39V89.09M212.74 87.96H215.44M214.09 86.61V89.31M213.61 88.18H216.31M214.96 86.83V89.53M214.48 88.42H217.18M215.83 87.07V89.77M215.36 88.66H218.06M216.71 87.31V90.01M216.23 88.91H218.93M217.58 87.56V90.26M217.1 89.15H219.8M218.45 87.8V90.5M217.97 89.4H220.67M219.32 88.05V90.75M218.84 89.65H221.54M220.19 88.3V91M219.7 89.91H222.4M221.05 88.56V91.26M220.57 90.16H223.27M221.92 88.81V91.51M221.44 90.42H224.14M222.79 89.07V91.77M222.31 90.68H225.01M223.66 89.33V92.03M223.17 90.94H225.87M224.52 89.59V92.29M224.04 91.21H226.74M225.39 89.86V92.56M224.9 91.47H227.6M226.25 90.12V92.82M225.77 91.73H228.47M227.12 90.38V93.08M226.64 91.99H229.34M227.99 90.64V93.34M227.5 92.25H230.2M228.85 90.9V93.6M228.37 92.52H231.07M229.72 91.17V93.87M229.24 92.78H231.94M230.59 91.43V94.13M230.1 93.03H232.8M231.45 91.68V94.38M230.97 93.29H233.67M232.32 91.94V94.64M231.84 93.55H234.54M233.19 92.2V94.9M232.7 93.81H235.4M234.05 92.46V95.16M233.57 94.06H236.27M234.92 92.71V95.41M234.44 94.32H237.14M235.79 92.97V95.67M235.31 94.58H238.01M236.66 93.23V95.93M236.17 94.84H238.87M237.52 93.49V96.19M237.04 95.11H239.74M238.39 93.76V96.46M237.9 95.37H240.6M239.25 94.02V96.72M238.77 95.64H241.47M240.12 94.29V96.99M239.63 95.91H242.33M240.98 94.56V97.26M240.5 96.18H243.2M241.85 94.83V97.53M241.36 96.45H244.06M242.71 95.1V97.8M242.22 96.72H244.92M243.57 95.37V98.07M243.08 96.99H245.78M244.43 95.64V98.34M243.95 97.26H246.65M245.3 95.91V98.61M244.81 97.52H247.51M246.16 96.17V98.87M245.67 97.79H248.37M247.02 96.44V99.14M246.53 98.05H249.23M247.88 96.7V99.4M247.39 98.31H250.09M248.74 96.96V99.66M248.25 98.58H250.95M249.6 97.23V99.93M249.11 98.84H251.81M250.46 97.49V100.19M249.97 99.11H252.67M251.32 97.76V100.46M250.83 99.37H253.53M252.18 98.02V100.72M251.69 99.64H254.39M253.04 98.29V100.99M252.55 99.91H255.25M253.9 98.56V101.26M253.41 100.17H256.11M254.76 98.82V101.52M254.27 100.45H256.97M255.62 99.1V101.8M255.12 100.72H257.82M256.47 99.37V102.07M255.98 101H258.68M257.33 99.65V102.35M256.84 101.28H259.54M258.19 99.93V102.63M257.69 101.57H260.39M259.04 100.22V102.92M258.54 101.86H261.24M259.89 100.51V103.21M259.39 102.16H262.09M260.74 100.81V103.51M260.23 102.47H262.93M261.58 101.12V103.82M261.08 102.78H263.78M262.43 101.43V104.13M261.92 103.09H264.62M263.27 101.74V104.44M262.76 103.41H265.46M264.11 102.06V104.76M263.6 103.73H266.3M264.95 102.38V105.08M264.44 104.06H267.14M265.79 102.71V105.41M265.28 104.38H267.98M266.63 103.03V105.73M266.12 104.71H268.82M267.47 103.36V106.06M266.96 105.04H269.66M268.31 103.69V106.39M267.8 105.37H270.5M269.15 104.02V106.72M268.64 105.69H271.34M269.99 104.34V107.04M269.47 106.02H272.17M270.82 104.67V107.37M270.31 106.35H273.01M271.66 105V107.7M271.15 106.68H273.85M272.5 105.33V108.03M271.98 107.02H274.68M273.33 105.67V108.37M272.82 107.35H275.52M274.17 106V108.7M273.65 107.69H276.35M275 106.34V109.04M274.49 108.03H277.19M275.84 106.68V109.38M275.32 108.36H278.02M276.67 107.01V109.71M276.16 108.7H278.86M277.51 107.35V110.05M276.99 109.03H279.69M278.34 107.68V110.38M277.83 109.37H280.53M279.18 108.02V110.72M278.66 109.71H281.36M280.01 108.36V111.06M279.5 110.04H282.2M280.85 108.69V111.39M280.33 110.37H283.03M281.68 109.02V111.72M281.17 110.71H283.87M282.52 109.36V112.06M282.01 111.04H284.71M283.36 109.69V112.39M282.84 111.38H285.54M284.19 110.03V112.73M283.68 111.71H286.38M285.03 110.36V113.06M284.51 112.04H287.21M285.86 110.69V113.39M285.35 112.38H288.05M286.7 111.03V113.73M286.18 112.71H288.88M287.53 111.36V114.06M287.02 113.05H289.72M288.37 111.7V114.4M287.85 113.38H290.55M289.2 112.03V114.73M288.69 113.72H291.39M290.04 112.37V115.07M289.53 114.05H292.23M290.88 112.7V115.4M290.36 114.38H293.06M291.71 113.03V115.73M291.2 114.72H293.9M292.55 113.37V116.07M292.03 115.05H294.73M293.38 113.7V116.4M292.87 115.38H295.57M294.22 114.03V116.73M293.71 115.72H296.41M295.06 114.37V117.07M294.55 116.05H297.25M295.9 114.7V117.4M295.47 116.42H298.17M296.82 115.07V117.77M296.47 116.82H299.17M297.82 115.47V118.17M297.57 117.26H300.27M298.92 115.91V118.61M298.77 117.75H301.47M300.12 116.4V119.1M300.07 118.28H302.77M301.42 116.93V119.63M301.5 118.87H304.2M302.85 117.52V120.22M303.05 119.51H305.75M304.4 118.16V120.86M304.75 120.22H307.45M306.1 118.87V121.57M306.5 120.96H309.2M307.85 119.61V122.31M308.26 121.69H310.96M309.61 120.34V123.04M310.01 122.42H312.71M311.36 121.07V123.77M311.76 123.16H314.46M313.11 121.81V124.51M313.5 123.93H316.2M314.85 122.58V125.28M315.22 124.73H317.92M316.57 123.38V126.08M316.94 125.54H319.64M318.29 124.19V126.89M318.66 126.36H321.36M320.01 125.01V127.71M320.37 127.19H323.07M321.72 125.84V128.54M322.07 128.02H324.77M323.42 126.67V129.37M323.78 128.85H326.48M325.13 127.5V130.2M325.48 129.69H328.18M326.83 128.34V131.04M327.18 130.55H329.88M328.53 129.2V131.9M328.87 131.41H331.57M330.22 130.06V132.76M330.56 132.29H333.26M331.91 130.94V133.64M332.24 133.18H334.94M333.59 131.83V134.53M333.91 134.08H336.61M335.26 132.73V135.43M335.56 135.02H338.26M336.91 133.67V136.37M337.19 136.01H339.89M338.54 134.66V137.36M338.76 137.07H341.46M340.11 135.72V138.42M340.26 138.14H342.96M341.61 136.79V139.49M341.62 139.38H344.32M342.97 138.03V140.73M342.63 140.93H345.33M343.98 139.58V142.28M343.33 142.65H346.03M344.68 141.3V144M343.84 144.45H346.54M345.19 143.1V145.8M344.2 146.29H346.9M345.55 144.94V147.64M344.51 148.14H347.21M345.86 146.79V149.49M344.71 150.02H347.41M346.06 148.67V151.37M344.82 151.91H347.52M346.17 150.56V153.26M344.9 153.81H347.6M346.25 152.46V155.16M344.97 155.7H347.67M346.32 154.35V157.05M345.02 157.6H347.72M346.37 156.25V158.95M345.07 159.49H347.77M346.42 158.14V160.84M345.11 161.39H347.81M346.46 160.04V162.74M345.14 163.29H347.84M346.49 161.94V164.64M345.17 165.19H347.87M346.52 163.84V166.54M345.2 167.08H347.9M346.55 165.73V168.43M345.23 168.98H347.93M346.58 167.63V170.33M345.25 170.88H347.95M346.6 169.53V172.23M345.28 172.78H347.98M346.63 171.43V174.13M345.3 174.68H348M346.65 173.33V176.03M345.32 176.58H348.02M346.67 175.23V177.93M345.34 178.47H348.04M346.69 177.12V179.82M345.36 180.37H348.06M346.71 179.02V181.72M345.39 182.27H348.09M346.74 180.92V183.62M345.4 184.17H348.1M346.75 182.82V185.52M345.42 186.07H348.12M346.77 184.72V187.42M345.44 187.97H348.14M346.79 186.62V189.32M345.46 189.87H348.16M346.81 188.52V191.22M345.48 191.77H348.18M346.83 190.42V193.12M345.5 193.66H348.2M346.85 192.31V195.01M345.52 195.56H348.22M346.87 194.21V196.91M345.54 197.46H348.24M346.89 196.11V198.81M345.56 199.36H348.26M346.91 198.01V200.71M345.57 201.26H348.27M346.92 199.91V202.61M345.59 203.16H348.29M346.94 201.81V204.51M345.61 205.06H348.31M346.96 203.71V206.41M345.63 206.96H348.33M346.98 205.61V208.31M345.65 208.85H348.35M347 207.5V210.2M345.67 210.75H348.37M347.02 209.4V212.1M345.68 212.65H348.38M347.03 211.3V214M345.7 214.55H348.4M347.05 213.2V215.9M345.72 216.45H348.42M347.07 215.1V217.8M345.74 218.35H348.44M347.09 217V219.7M34.65 219.3H37.35M36 217.95V220.65M34.66 219.3H37.36M36.01 217.95V220.65M34.66 219.1H37.36M36.01 217.75V220.45M34.67 218.4H37.37M36.02 217.05V219.75M34.68 217.7H37.38M36.03 216.35V219.05M34.69 217H37.39M36.04 215.65V218.35M34.69 216.3H37.39M36.04 214.95V217.65M34.7 215.6H37.4M36.05 214.25V216.95M34.71 214.9H37.41M36.06 213.55V216.25M34.71 214.2H37.41M36.06 212.85V215.55M34.72 213.5H37.42M36.07 212.15V214.85M34.73 212.8H37.43M36.08 211.45V214.15M34.73 212.1H37.43M36.08 210.75V213.45M34.74 211.4H37.44M36.09 210.05V212.75M34.75 210.7H37.45M36.1 209.35V212.05M34.75 210H37.45M36.1 208.65V211.35M34.76 209.3H37.46M36.11 207.95V210.65M34.77 208.6H37.47M36.12 207.25V209.95M34.77 207.9H37.47M36.12 206.55V209.25M34.78 207.2H37.48M36.13 205.85V208.55M34.79 206.5H37.49M36.14 205.15V207.85M34.79 205.8H37.49M36.14 204.45V207.15M34.8 205.1H37.5M36.15 203.75V206.45M34.81 204.4H37.51M36.16 203.05V205.75M34.81 203.7H37.51M36.16 202.35V205.05M34.82 203H37.52M36.17 201.65V204.35M34.83 202.3H37.53M36.18 200.95V203.65M34.83 201.6H37.53M36.18 200.25V202.95M34.84 200.9H37.54M36.19 199.55V202.25M34.85 200.2H37.55M36.2 198.85V201.55M34.85 199.5H37.55M36.2 198.15V200.85M34.86 198.8H37.56M36.21 197.45V200.15M34.87 198.1H37.57M36.22 196.75V199.45M34.88 197.4H37.58M36.23 196.05V198.75M34.88 196.7H37.58M36.23 195.35V198.05M34.89 196H37.59M36.24 194.65V197.35M34.9 195.3H37.6M36.25 193.95V196.65M34.9 194.6H37.6M36.25 193.25V195.95M34.91 193.9H37.61M36.26 192.55V195.25M34.92 193.2H37.62M36.27 191.85V194.55M34.93 192.5H37.63M36.28 191.15V193.85M34.94 191.8H37.64M36.29 190.45V193.15M34.94 191.1H37.64M36.29 189.75V192.45M34.95 190.4H37.65M36.3 189.05V191.75M34.96 189.7H37.66M36.31 188.35V191.05M34.97 189H37.67M36.32 187.65V190.35M34.98 188.3H37.68M36.33 186.95V189.65M34.98 187.6H37.68M36.33 186.25V188.95M34.99 186.9H37.69M36.34 185.55V188.25M35 186.2H37.7M36.35 184.85V187.55M35.01 185.5H37.71M36.36 184.15V186.85M35.02 184.8H37.72M36.37 183.45V186.15M35.03 184.1H37.73M36.38 182.75V185.45M35.04 183.4H37.74M36.39 182.05V184.75M35.05 182.7H37.75M36.4 181.35V184.05M35.06 182H37.76M36.41 180.65V183.35M35.07 181.3H37.77M36.42 179.95V182.65M35.08 180.6H37.78M36.43 179.25V181.95M35.09 179.9H37.79M36.44 178.55V181.25M35.1 179.2H37.8M36.45 177.85V180.55M35.11 178.5H37.81M36.46 177.15V179.85M35.13 177.8H37.83M36.48 176.45V179.15M35.14 177.1H37.84M36.49 175.75V178.45M35.15 176.4H37.85M36.5 175.05V177.75M35.17 175.7H37.87M36.52 174.35V177.05M35.19 175H37.89M36.54 173.65V176.35M35.2 174.3H37.9M36.55 172.95V175.65M35.22 173.6H37.92M36.57 172.25V174.95M35.24 172.9H37.94M36.59 171.55V174.25M35.27 172.22H37.97M36.62 170.87V173.57M35.29 171.54H37.99M36.64 170.19V172.89M35.32 170.86H38.02M36.67 169.51V172.21M35.36 170.18H38.06M36.71 168.83V171.53M35.39 169.5H38.09M36.74 168.15V170.85M35.44 168.84H38.14M36.79 167.49V170.19M35.49 168.17H38.19M36.84 166.82V169.52M35.56 167.52H38.26M36.91 166.17V168.87M35.63 166.87H38.33M36.98 165.52V168.22M35.71 166.23H38.41M37.06 164.88V167.58M35.78 165.58H38.48M37.13 164.23V166.93M35.85 164.92H38.55M37.2 163.57V166.27M35.91 164.26H38.61M37.26 162.91V165.61M35.98 163.6H38.68M37.33 162.25V164.95M36.06 162.95H38.76M37.41 161.6V164.3M36.14 162.3H38.84M37.49 160.95V163.65M36.23 161.66H38.93M37.58 160.31V163.01M36.32 161.02H39.02M37.67 159.67V162.37M36.42 160.38H39.12M37.77 159.03V161.73M36.53 159.75H39.23M37.88 158.4V161.1M36.64 159.12H39.34M37.99 157.77V160.47M36.76 158.5H39.46M38.11 157.15V159.85M36.88 157.87H39.58M38.23 156.52V159.22M37.02 157.26H39.72M38.37 155.91V158.61M37.17 156.66H39.87M38.52 155.31V158.01M37.34 156.08H40.04M38.69 154.73V157.43M37.53 155.51H40.23M38.88 154.16V156.86M37.74 154.95H40.44M39.09 153.6V156.3M37.96 154.41H40.66M39.31 153.06V155.76M38.22 153.91H40.92M39.57 152.56V155.26M38.52 153.45H41.22M39.87 152.1V154.8M38.87 153.04H41.57M40.22 151.69V154.39M39.26 152.68H41.96M40.61 151.33V154.03M39.72 152.4H42.42M41.07 151.05V153.75M40.23 152.21H42.93M41.58 150.86V153.56M40.22 151.73H42.92M41.57 150.38V153.08M40.88 151.31H43.58M42.23 149.96V152.66M41.56 150.91H44.26M42.91 149.56V152.26M42.26 150.52H44.96M43.61 149.17V151.87M42.99 150.17H45.69M44.34 148.82V151.52M43.84 149.83H46.54M45.19 148.48V151.18M44.95 149.44H47.65M46.3 148.09V150.79M46.41 148.97H49.11M47.76 147.62V150.32M48.33 148.44H51.03M49.68 147.09V149.79M50.86 147.87H53.56M52.21 146.52V149.22M54.12 147.24H56.82M55.47 145.89V148.59M57.38 146.65H60.08M58.73 145.3V148M60.64 146.05H63.34M61.99 144.7V147.4M63.85 145.38H66.55M65.2 144.03V146.73M66.99 144.65H69.69M68.34 143.3V146M70.05 143.92H72.75M71.4 142.57V145.27M73.06 143.2H75.76M74.41 141.85V144.55M76 142.47H78.7M77.35 141.12V143.82M78.87 141.68H81.57M80.22 140.33V143.03M81.66 140.82H84.36M83.01 139.47V142.17M84.38 139.9H87.08M85.73 138.55V141.25M86.99 138.94H89.69M88.34 137.59V140.29M89.41 138.05H92.11M90.76 136.7V139.4M91.64 137.23H94.34M92.99 135.88V138.58M93.7 136.46H96.4M95.05 135.11V137.81M95.6 135.75H98.3M96.95 134.4V137.1M97.35 135.09H100.05M98.7 133.74V136.44M98.98 134.48H101.68M100.33 133.13V135.83M100.49 133.91H103.19M101.84 132.56V135.26M101.99 133.35H104.69M103.34 132V134.7M103.47 132.79H106.17M104.82 131.44V134.14M104.92 132.24H107.62M106.27 130.89V133.59M106.35 131.71H109.05M107.7 130.36V133.06M107.77 131.19H110.47M109.12 129.84V132.54M109.17 130.68H111.87M110.52 129.33V132.03M110.54 130.17H113.24M111.89 128.82V131.52M111.9 129.68H114.6M113.25 128.33V131.03M113.24 129.19H115.94M114.59 127.84V130.54M114.56 128.74H117.26M115.91 127.39V130.09M115.86 128.31H118.56M117.21 126.96V129.66M117.15 127.91H119.85M118.5 126.56V129.26M118.43 127.52H121.13M119.78 126.17V128.87M119.69 127.16H122.39M121.04 125.81V128.51M120.95 126.82H123.65M122.3 125.47V128.17M122.2 126.5H124.9M123.55 125.15V127.85M123.45 126.19H126.15M124.8 124.84V127.54M124.69 125.89H127.39M126.04 124.54V127.24M125.92 125.6H128.62M127.27 124.25V126.95M127.15 125.32H129.85M128.5 123.97V126.67M128.37 125.04H131.07M129.72 123.69V126.39M129.58 124.76H132.28M130.93 123.41V126.11M130.78 124.49H133.48M132.13 123.14V125.84M131.98 124.23H134.68M133.33 122.88V125.58M133.17 123.97H135.87M134.52 122.62V125.32M134.35 123.72H137.05M135.7 122.37V125.07M135.53 123.48H138.23M136.88 122.13V124.83M136.7 123.25H139.4M138.05 121.9V124.6M137.87 123.03H140.57M139.22 121.68V124.38M139.03 122.82H141.73M140.38 121.47V124.17M140.18 122.62H142.88M141.53 121.27V123.97M141.32 122.44H144.02M142.67 121.09V123.79M142.46 122.26H145.16M143.81 120.91V123.61M143.6 122.09H146.3M144.95 120.74V123.44M144.72 121.93H147.42M146.07 120.58V123.28M145.84 121.77H148.54M147.19 120.42V123.12M146.95 121.62H149.65M148.3 120.27V122.97M148.06 121.48H150.76M149.41 120.13V122.83M149.16 121.33H151.86M150.51 119.98V122.68M150.25 121.17H152.95M151.6 119.82V122.52M151.35 121.02H154.05M152.7 119.67V122.37M152.44 120.87H155.14M153.79 119.52V122.22M153.54 120.73H156.24M154.89 119.38V122.08M154.63 120.6H157.33M155.98 119.25V121.95M155.72 120.47H158.42M157.07 119.12V121.82M156.82 120.34H159.52M158.17 118.99V121.69M157.91 120.23H160.61M159.26 118.88V121.58M159.01 120.12H161.71M160.36 118.77V121.47M160.1 120.02H162.8M161.45 118.67V121.37M161.19 119.93H163.89M162.54 118.58V121.28M162.29 119.85H164.99M163.64 118.5V121.2M163.38 119.77H166.08M164.73 118.42V121.12M164.47 119.7H167.17M165.82 118.35V121.05M165.56 119.63H168.26M166.91 118.28V120.98M166.65 119.55H169.35M168 118.2V120.9M167.75 119.47H170.45M169.1 118.12V120.82M168.84 119.39H171.54M170.19 118.04V120.74M169.92 119.34H172.62M171.27 117.99V120.69M171.01 119.29H173.71M172.36 117.94V120.64M172.1 119.23H174.8M173.45 117.88V120.58M173.19 119.18H175.89M174.54 117.83V120.53M174.27 119.12H176.97M175.62 117.77V120.47M175.36 119.06H178.06M176.71 117.71V120.41M176.44 119H179.14M177.79 117.65V120.35M177.53 118.95H180.23M178.88 117.6V120.3M178.61 118.9H181.31M179.96 117.55V120.25M179.7 118.86H182.4M181.05 117.51V120.21M180.78 118.81H183.48M182.13 117.46V120.16M181.86 118.77H184.56M183.21 117.42V120.12M182.95 118.73H185.65M184.3 117.38V120.08M184.03 118.69H186.73M185.38 117.34V120.04M185.11 118.65H187.81M186.46 117.3V120M186.19 118.63H188.89M187.54 117.28V119.98M187.27 118.61H189.97M188.62 117.26V119.96M188.35 118.6H191.05M189.7 117.25V119.95M189.43 118.6H192.13M190.78 117.25V119.95M190.51 118.62H193.21M191.86 117.27V119.97M191.59 118.64H194.29M192.94 117.29V119.99M192.67 118.66H195.37M194.02 117.31V120.01M193.75 118.7H196.45M195.1 117.35V120.05M194.82 118.74H197.52M196.17 117.39V120.09M195.9 118.78H198.6M197.25 117.43V120.13M196.98 118.83H199.68M198.33 117.48V120.18M198.05 118.87H200.75M199.4 117.52V120.22M199.12 118.92H201.82M200.47 117.57V120.27M200.2 118.97H202.9M201.55 117.62V120.32M201.27 119.03H203.97M202.62 117.68V120.38M202.34 119.08H205.04M203.69 117.73V120.43M203.41 119.14H206.11M204.76 117.79V120.49M204.48 119.21H207.18M205.83 117.86V120.56M205.55 119.28H208.25M206.9 117.93V120.63M206.62 119.35H209.32M207.97 118V120.7M207.69 119.43H210.39M209.04 118.08V120.78M208.76 119.51H211.46M210.11 118.16V120.86M209.83 119.6H212.53M211.18 118.25V120.95M210.89 119.69H213.59M212.24 118.34V121.04M211.95 119.79H214.65M213.3 118.44V121.14M213.02 119.9H215.72M214.37 118.55V121.25M214.08 120.01H216.78M215.43 118.66V121.36M215.14 120.12H217.84M216.49 118.77V121.47M216.2 120.23H218.9M217.55 118.88V121.58M217.26 120.35H219.96M218.61 119V121.7M218.32 120.46H221.02M219.67 119.11V121.81M219.38 120.58H222.08M220.73 119.23V121.93M220.44 120.7H223.14M221.79 119.35V122.05M221.5 120.82H224.2M222.85 119.47V122.17M222.55 120.94H225.25M223.9 119.59V122.29M223.61 121.07H226.31M224.96 119.72V122.42M224.66 121.2H227.36M226.01 119.85V122.55M225.72 121.33H228.42M227.07 119.98V122.68M226.77 121.46H229.47M228.12 120.11V122.81M227.82 121.59H230.52M229.17 120.24V122.94M228.87 121.74H231.57M230.22 120.39V123.09M229.92 121.91H232.62M231.27 120.56V123.26M230.97 122.09H233.67M232.32 120.74V123.44M232.02 122.28H234.72M233.37 120.93V123.63M233.07 122.46H235.77M234.42 121.11V123.81M234.12 122.65H236.82M235.47 121.3V124M235.16 122.83H237.86M236.51 121.48V124.18M236.21 123.02H238.91M237.56 121.67V124.37M237.26 123.2H239.96M238.61 121.85V124.55M238.3 123.39H241M239.65 122.04V124.74M239.35 123.57H242.05M240.7 122.22V124.92M240.39 123.75H243.09M241.74 122.4V125.1M241.44 123.93H244.14M242.79 122.58V125.28M242.48 124.11H245.18M243.83 122.76V125.46M243.52 124.29H246.22M244.87 122.94V125.64M244.57 124.47H247.27M245.92 123.12V125.82M245.61 124.65H248.31M246.96 123.3V126M246.65 124.84H249.35M248 123.49V126.19M247.69 125.02H250.39M249.04 123.67V126.37M248.73 125.21H251.43M250.08 123.86V126.56M249.77 125.37H252.47M251.12 124.02V126.72M250.8 125.52H253.5M252.15 124.17V126.87M251.84 125.68H254.54M253.19 124.33V127.03M252.88 125.84H255.58M254.23 124.49V127.19M253.91 126H256.61M255.26 124.65V127.35M254.95 126.17H257.65M256.3 124.82V127.52M255.98 126.34H258.68M257.33 124.99V127.69M257.01 126.51H259.71M258.36 125.16V127.86M258.04 126.69H260.74M259.39 125.34V128.04M259.07 126.88H261.77M260.42 125.53V128.23M260.1 127.07H262.8M261.45 125.72V128.42M261.12 127.27H263.82M262.47 125.92V128.62M262.15 127.47H264.85M263.5 126.12V128.82M263.17 127.68H265.87M264.52 126.33V129.03M264.19 127.89H266.89M265.54 126.54V129.24M265.21 128.1H267.91M266.56 126.75V129.45M266.23 128.31H268.93M267.58 126.96V129.66M267.25 128.52H269.95M268.6 127.17V129.87M268.27 128.72H270.97M269.62 127.37V130.07M269.29 128.93H271.99M270.64 127.58V130.28M270.31 129.13H273.01M271.66 127.78V130.48M271.33 129.33H274.03M272.68 127.98V130.68M272.35 129.52H275.05M273.7 128.17V130.87M273.37 129.72H276.07M274.72 128.37V131.07M274.39 129.92H277.09M275.74 128.57V131.27M275.41 130.12H278.11M276.76 128.77V131.47M276.42 130.33H279.12M277.77 128.98V131.68M277.44 130.54H280.14M278.79 129.19V131.89M278.45 130.76H281.15M279.8 129.41V132.11M279.46 130.98H282.16M280.81 129.63V132.33M280.47 131.21H283.17M281.82 129.86V132.56M281.48 131.44H284.18M282.83 130.09V132.79M282.48 131.68H285.18M283.83 130.33V133.03M283.49 131.92H286.19M284.84 130.57V133.27M284.49 132.17H287.19M285.84 130.82V133.52M285.49 132.41H288.19M286.84 131.06V133.76M286.49 132.66H289.19M287.84 131.31V134.01M287.49 132.91H290.19M288.84 131.56V134.26M288.49 133.16H291.19M289.84 131.81V134.51M289.49 133.41H292.19M290.84 132.06V134.76M290.49 133.66H293.19M291.84 132.31V135.01M291.49 133.91H294.19M292.84 132.56V135.26M292.49 134.17H295.19M293.84 132.82V135.52M293.48 134.42H296.18M294.83 133.07V135.77M294.48 134.68H297.18M295.83 133.33V136.03M295.47 134.94H298.17M296.82 133.59V136.29M296.46 135.2H299.16M297.81 133.85V136.55M297.45 135.47H300.15M298.8 134.12V136.82M298.44 135.74H301.14M299.79 134.39V137.09M299.43 136.02H302.13M300.78 134.67V137.37M300.41 136.31H303.11M301.76 134.96V137.66M301.39 136.61H304.09M302.74 135.26V137.96M302.37 136.92H305.07M303.72 135.57V138.27M303.34 137.23H306.04M304.69 135.88V138.58M304.31 137.55H307.01M305.66 136.2V138.9M305.28 137.88H307.98M306.63 136.53V139.23M306.25 138.2H308.95M307.6 136.85V139.55M307.22 138.53H309.92M308.57 137.18V139.88M308.18 138.87H310.88M309.53 137.52V140.22M309.14 139.2H311.84M310.49 137.85V140.55M310.11 139.54H312.81M311.46 138.19V140.89M311.07 139.88H313.77M312.42 138.53V141.23M312.03 140.22H314.73M313.38 138.87V141.57M312.99 140.56H315.69M314.34 139.21V141.91M313.95 140.9H316.65M315.3 139.55V142.25M314.91 141.24H317.61M316.26 139.89V142.59M315.86 141.58H318.56M317.21 140.23V142.93M316.82 141.91H319.52M318.17 140.56V143.26M317.78 142.25H320.48M319.13 140.9V143.6M318.74 142.59H321.44M320.09 141.24V143.94M319.7 142.93H322.4M321.05 141.58V144.28M320.65 143.27H323.35M322 141.92V144.62M321.61 143.62H324.31M322.96 142.27V144.97M322.56 143.97H325.26M323.91 142.62V145.32M323.5 144.32H326.2M324.85 142.97V145.67M324.45 144.68H327.15M325.8 143.33V146.03M325.39 145.05H328.09M326.74 143.7V146.4M326.33 145.43H329.03M327.68 144.08V146.78M327.27 145.81H329.97M328.62 144.46V147.16M328.2 146.21H330.9M329.55 144.86V147.56M329.13 146.6H331.83M330.48 145.25V147.95M330.06 146.99H332.76M331.41 145.64V148.34M330.99 147.38H333.69M332.34 146.03V148.73M331.92 147.78H334.62M333.27 146.43V149.13M332.83 148.2H335.53M334.18 146.85V149.55M333.73 148.66H336.43M335.08 147.31V150.01M334.6 149.17H337.3M335.95 147.82V150.52M335.43 149.73H338.13M336.78 148.38V151.08M336.24 150.34H338.94M337.59 148.99V151.69M337.02 150.97H339.72M338.37 149.62V152.32M337.79 151.62H340.49M339.14 150.27V152.97M338.55 152.28H341.25M339.9 150.93V153.63M339.3 152.94H342M340.65 151.59V154.29M340.05 153.61H342.75M341.4 152.26V154.96M340.8 154.28H343.5M342.15 152.93V155.63M341.53 154.97H344.23M342.88 153.62V156.32M342.13 155.77H344.83M343.48 154.42V157.12M342.66 156.63H345.36M344.01 155.28V157.98M343.1 157.52H345.8M344.45 156.17V158.87M343.45 158.47H346.15M344.8 157.12V159.82M343.73 159.43H346.43M345.08 158.08V160.78M343.98 160.4H346.68M345.33 159.05V161.75M344.17 161.38H346.87M345.52 160.03V162.73M344.3 162.38H347M345.65 161.03V163.73M344.41 163.37H347.11M345.76 162.02V164.72M344.5 164.37H347.2M345.85 163.02V165.72M344.6 165.37H347.3M345.95 164.02V166.72M344.69 166.37H347.39M346.04 165.02V167.72M344.76 167.36H347.46M346.11 166.01V168.71M344.82 168.37H347.52M346.17 167.02V169.72M344.86 169.37H347.56M346.21 168.02V170.72M344.9 170.37H347.6M346.25 169.02V171.72M344.93 171.37H347.63M346.28 170.02V172.72M344.96 172.37H347.66M346.31 171.02V173.72M344.99 173.37H347.69M346.34 172.02V174.72M345.01 174.37H347.71M346.36 173.02V175.72M345.04 175.37H347.74M346.39 174.02V176.72M345.06 176.38H347.76M346.41 175.03V177.73M345.08 177.38H347.78M346.43 176.03V178.73M345.1 178.38H347.8M346.45 177.03V179.73M345.12 179.38H347.82M346.47 178.03V180.73M345.14 180.38H347.84M346.49 179.03V181.73M345.16 181.38H347.86M346.51 180.03V182.73M345.18 182.39H347.88M346.53 181.04V183.74M345.2 183.39H347.9M346.55 182.04V184.74M345.21 184.39H347.91M346.56 183.04V185.74M345.23 185.39H347.93M346.58 184.04V186.74M345.25 186.39H347.95M346.6 185.04V187.74M345.26 187.39H347.96M346.61 186.04V188.74M345.28 188.4H347.98M346.63 187.05V189.75M345.3 189.4H348M346.65 188.05V190.75M345.31 190.4H348.01M346.66 189.05V191.75M345.33 191.4H348.03M346.68 190.05V192.75M345.34 192.4H348.04M346.69 191.05V193.75M345.36 193.4H348.06M346.71 192.05V194.75M345.37 194.4H348.07M346.72 193.05V195.75M345.39 195.41H348.09M346.74 194.06V196.76M345.4 196.41H348.1M346.75 195.06V197.76M345.42 197.41H348.12M346.77 196.06V198.76M345.44 198.41H348.14M346.79 197.06V199.76M345.45 199.41H348.15M346.8 198.06V200.76M345.46 200.41H348.16M346.81 199.06V201.76M345.48 201.41H348.18M346.83 200.06V202.76M345.49 202.42H348.19M346.84 201.07V203.77M345.51 203.42H348.21M346.86 202.07V204.77M345.52 204.42H348.22M346.87 203.07V205.77M345.54 205.42H348.24M346.89 204.07V206.77M345.55 206.42H348.25M346.9 205.07V207.77M345.57 207.42H348.27M346.92 206.07V208.77M345.58 208.43H348.28M346.93 207.08V209.78M345.6 209.43H348.3M346.95 208.08V210.78M345.61 210.43H348.31M346.96 209.08V211.78M345.63 211.43H348.33M346.98 210.08V212.78M345.64 212.43H348.34M346.99 211.08V213.78M345.66 213.43H348.36M347.01 212.08V214.78M345.67 214.43H348.37M347.02 213.08V215.78M345.68 215.43H348.38M347.03 214.08V216.78M345.7 216.44H348.4M347.05 215.09V217.79M345.71 217.44H348.41M347.06 216.09V218.79M345.73 218.44H348.43M347.08 217.09V219.79M345.74 219.3H348.44M347.09 217.95V220.65M34.65 219.3H37.35M36 217.95V220.65M34.66 219.3H37.36M36.01 217.95V220.65M34.67 219.3H37.37M36.02 217.95V220.65M34.68 218.7H37.38M36.03 217.35V220.05M34.69 218H37.39M36.04 216.65V219.35M34.7 217.3H37.4M36.05 215.95V218.65M34.71 216.6H37.41M36.06 215.25V217.95M34.72 215.9H37.42M36.07 214.55V217.25M34.73 215.2H37.43M36.08 213.85V216.55M34.74 214.5H37.44M36.09 213.15V215.85M34.75 213.8H37.45M36.1 212.45V215.15M34.77 213.1H37.47M36.12 211.75V214.45M34.78 212.4H37.48M36.13 211.05V213.75M34.8 211.7H37.5M36.15 210.35V213.05M34.81 211H37.51M36.16 209.65V212.35M34.83 210.3H37.53M36.18 208.95V211.65M34.85 209.6H37.55M36.2 208.25V210.95M34.87 208.9H37.57M36.22 207.55V210.25M34.89 208.2H37.59M36.24 206.85V209.55M34.92 207.5H37.62M36.27 206.15V208.85M34.95 206.8H37.65M36.3 205.45V208.15M34.99 206.1H37.69M36.34 204.75V207.45M35.03 205.41H37.73M36.38 204.06V206.76M35.07 204.71H37.77M36.42 203.36V206.06M35.12 204.01H37.82M36.47 202.66V205.36M35.17 203.31H37.87M36.52 201.96V204.66M35.23 202.61H37.93M36.58 201.26V203.96M35.29 201.94H37.99M36.64 200.59V203.29M35.35 201.29H38.05M36.7 199.94V202.64M35.42 200.65H38.12M36.77 199.3V202M35.49 200H38.19M36.84 198.65V201.35M35.57 199.36H38.27M36.92 198.01V200.71M35.65 198.72H38.35M37 197.37V200.07M35.73 198.08H38.43M37.08 196.73V199.43M35.82 197.45H38.52M37.17 196.1V198.8M35.92 196.82H38.62M37.27 195.47V198.17M36.03 196.2H38.73M37.38 194.85V197.55M36.15 195.59H38.85M37.5 194.24V196.94M36.28 194.99H38.98M37.63 193.64V196.34M36.43 194.4H39.13M37.78 193.05V195.75M36.59 193.82H39.29M37.94 192.47V195.17M36.76 193.25H39.46M38.11 191.9V194.6M36.92 192.67H39.62M38.27 191.32V194.02M37.06 192.07H39.76M38.41 190.72V193.42M37.2 191.46H39.9M38.55 190.11V192.81M37.33 190.85H40.03M38.68 189.5V192.2M37.47 190.23H40.17M38.82 188.88V191.58M37.61 189.62H40.31M38.96 188.27V190.97M37.76 189.02H40.46M39.11 187.67V190.37M37.94 188.45H40.64M39.29 187.1V189.8M38.14 187.89H40.84M39.49 186.54V189.24M38.36 187.35H41.06M39.71 186V188.7M38.62 186.85H41.32M39.97 185.5V188.2M38.91 186.38H41.61M40.26 185.03V187.73M39.23 185.94H41.93M40.58 184.59V187.29M39.58 185.54H42.28M40.93 184.19V186.89M40 185.22H42.7M41.35 183.87V186.57M39.9 184.84H42.6M41.25 183.49V186.19M40.5 184.36H43.2M41.85 183.01V185.71M41.16 183.96H43.86M42.51 182.61V185.31M41.85 183.58H44.55M43.2 182.23V184.93M42.57 183.26H45.27M43.92 181.91V184.61M43.34 183.05H46.04M44.69 181.7V184.4M44.44 182.81H47.14M45.79 181.46V184.16M46.05 182.5H48.75M47.4 181.15V183.85M48.41 182.18H51.11M49.76 180.83V183.53M51.89 181.9H54.59M53.24 180.55V183.25M55.49 181.69H58.19M56.84 180.34V183.04M59.08 181.48H61.78M60.43 180.13V182.83M62.68 181.3H65.38M64.03 179.95V182.65M66.27 181.11H68.97M67.62 179.76V182.46M69.87 180.85H72.57M71.22 179.5V182.2M73.45 180.54H76.15M74.8 179.19V181.89M77.03 180.13H79.73M78.38 178.78V181.48M80.59 179.49H83.29M81.94 178.14V180.84M84.07 178.67H86.77M85.42 177.32V180.02M87.41 177.77H90.11M88.76 176.42V179.12M90.61 176.78H93.31M91.96 175.43V178.13M93.68 175.7H96.38M95.03 174.35V177.05M96.63 174.62H99.33M97.98 173.27V175.97M99.53 173.6H102.23M100.88 172.25V174.95M102.38 172.64H105.08M103.73 171.29V173.99M105.16 171.7H107.86M106.51 170.35V173.05M107.88 170.77H110.58M109.23 169.42V172.12M110.53 169.84H113.23M111.88 168.49V171.19M113.13 168.93H115.83M114.48 167.58V170.28M115.67 168.02H118.37M117.02 166.67V169.37M118.14 167.1H120.84M119.49 165.75V168.45M120.54 166.14H123.24M121.89 164.79V167.49M122.87 165.15H125.57M124.22 163.8V166.5M125.14 164.17H127.84M126.49 162.82V165.52M127.37 163.22H130.07M128.72 161.87V164.57M129.57 162.34H132.27M130.92 160.99V163.69M131.74 161.52H134.44M133.09 160.17V162.87M133.86 160.72H136.56M135.21 159.37V162.07M135.94 159.96H138.64M137.29 158.61V161.31M138.02 159.2H140.72M139.37 157.85V160.55M140.07 158.46H142.77M141.42 157.11V159.81M142.12 157.73H144.82M143.47 156.38V159.08M144.15 157.01H146.85M145.5 155.66V158.36M146.17 156.3H148.87M147.52 154.95V157.65M148.18 155.61H150.88M149.53 154.26V156.96M150.18 154.93H152.88M151.53 153.58V156.28M152.16 154.27H154.86M153.51 152.92V155.62M154.13 153.62H156.83M155.48 152.27V154.97M156.09 152.97H158.79M157.44 151.62V154.32M158.03 152.33H160.73M159.38 150.98V153.68M159.96 151.69H162.66M161.31 150.34V153.04M161.88 151.07H164.58M163.23 149.72V152.42M163.78 150.46H166.48M165.13 149.11V151.81M165.67 149.83H168.37M167.02 148.48V151.18M167.54 149.2H170.24M168.89 147.85V150.55M169.38 148.53H172.08M170.73 147.18V149.88M171.19 147.83H173.89M172.54 146.48V149.18M172.98 147.11H175.68M174.33 145.76V148.46M174.76 146.39H177.46M176.11 145.04V147.74M176.53 145.69H179.23M177.88 144.34V147.04M178.3 145.03H181M179.65 143.68V146.38M180.07 144.41H182.77M181.42 143.06V145.76M181.83 143.82H184.53M183.18 142.47V145.17M183.58 143.25H186.28M184.93 141.9V144.6M185.33 142.71H188.03M186.68 141.36V144.06M187.08 142.21H189.78M188.43 140.86V143.56M188.82 141.76H191.52M190.17 140.41V143.11M190.56 141.35H193.26M191.91 140V142.7M192.29 140.98H194.99M193.64 139.63V142.33M194.02 140.65H196.72M195.37 139.3V142M195.74 140.35H198.44M197.09 139V141.7M197.45 140.08H200.15M198.8 138.73V141.43M199.15 139.83H201.85M200.5 138.48V141.18M200.84 139.62H203.54M202.19 138.27V140.97M202.53 139.43H205.23M203.88 138.08V140.78M204.23 139.27H206.93M205.58 137.92V140.62M205.93 139.12H208.63M207.28 137.77V140.47M207.62 138.98H210.32M208.97 137.63V140.33M209.32 138.87H212.02M210.67 137.52V140.22M211.02 138.79H213.72M212.37 137.44V140.14M212.72 138.73H215.42M214.07 137.38V140.08M214.42 138.68H217.12M215.77 137.33V140.03M216.12 138.64H218.82M217.47 137.29V139.99M217.82 138.61H220.52M219.17 137.26V139.96M219.52 138.58H222.22M220.87 137.23V139.93M221.22 138.55H223.92M222.57 137.2V139.9M222.92 138.53H225.62M224.27 137.18V139.88M224.62 138.52H227.32M225.97 137.17V139.87M226.32 138.53H229.02M227.67 137.18V139.88M228.02 138.57H230.72M229.37 137.22V139.92M229.71 138.64H232.41M231.06 137.29V139.99M231.41 138.75H234.11M232.76 137.4V140.1M233.1 138.89H235.8M234.45 137.54V140.24M234.8 139.04H237.5M236.15 137.69V140.39M236.49 139.19H239.19M237.84 137.84V140.54M238.18 139.34H240.88M239.53 137.99V140.69M239.88 139.47H242.58M241.23 138.12V140.82M241.57 139.6H244.27M242.92 138.25V140.95M243.27 139.73H245.97M244.62 138.38V141.08M244.96 139.86H247.66M246.31 138.51V141.21M246.66 140H249.36M248.01 138.65V141.35M248.35 140.15H251.05M249.7 138.8V141.5M250.04 140.3H252.74M251.39 138.95V141.65M251.74 140.46H254.44M253.09 139.11V141.81M253.43 140.63H256.13M254.78 139.28V141.98M255.12 140.81H257.82M256.47 139.46V142.16M256.81 140.98H259.51M258.16 139.63V142.33M258.5 141.15H261.2M259.85 139.8V142.5M260.19 141.32H262.89M261.54 139.97V142.67M261.88 141.48H264.58M263.23 140.13V142.83M263.58 141.65H266.28M264.93 140.3V143M265.27 141.81H267.97M266.62 140.46V143.16M266.96 141.98H269.66M268.31 140.63V143.33M268.65 142.16H271.35M270 140.81V143.51M270.34 142.32H273.04M271.69 140.97V143.67M272.04 142.47H274.74M273.39 141.12V143.82M273.73 142.63H276.43M275.08 141.28V143.98M275.42 142.81H278.12M276.77 141.46V144.16M277.11 143.02H279.81M278.46 141.67V144.37M278.79 143.28H281.49M280.14 141.93V144.63M280.45 143.6H283.15M281.8 142.25V144.95M282.11 143.98H284.81M283.46 142.63V145.33M283.76 144.38H286.46M285.11 143.03V145.73M285.41 144.79H288.11M286.76 143.44V146.14M287.06 145.19H289.76M288.41 143.84V146.54M288.72 145.56H291.42M290.07 144.21V146.91M290.39 145.88H293.09M291.74 144.53V147.23M292.06 146.19H294.76M293.41 144.84V147.54M293.74 146.48H296.44M295.09 145.13V147.83M295.41 146.76H298.11M296.76 145.41V148.11M297.09 147.05H299.79M298.44 145.7V148.4M298.76 147.36H301.46M300.11 146.01V148.71M300.43 147.67H303.13M301.78 146.32V149.02M302.1 147.99H304.8M303.45 146.64V149.34M303.77 148.33H306.47M305.12 146.98V149.68M305.43 148.68H308.13M306.78 147.33V150.03M307.09 149.05H309.79M308.44 147.7V150.4M308.75 149.42H311.45M310.1 148.07V150.77M310.4 149.81H313.1M311.75 148.46V151.16M312.06 150.2H314.76M313.41 148.85V151.55M313.71 150.59H316.41M315.06 149.24V151.94M315.36 151H318.06M316.71 149.65V152.35M317.01 151.41H319.71M318.36 150.06V152.76M318.66 151.83H321.36M320.01 150.48V153.18M320.3 152.26H323M321.65 150.91V153.61M321.94 152.72H324.64M323.29 151.37V154.07M323.57 153.21H326.27M324.92 151.86V154.56M325.18 153.75H327.88M326.53 152.4V155.1M326.77 154.34H329.47M328.12 152.99V155.69M328.34 154.98H331.04M329.69 153.63V156.33M329.89 155.69H332.59M331.24 154.34V157.04M331.4 156.46H334.1M332.75 155.11V157.81M332.88 157.29H335.58M334.23 155.94V158.64M334.33 158.19H337.03M335.68 156.84V159.54M335.71 159.18H338.41M337.06 157.83V160.53M337.05 160.22H339.75M338.4 158.87V161.57M338.37 161.29H341.07M339.72 159.94V162.64M339.61 162.46H342.31M340.96 161.11V163.81M340.66 163.79H343.36M342.01 162.44V165.14M341.52 165.25H344.22M342.87 163.9V166.6M342.19 166.81H344.89M343.54 165.46V168.16M342.68 168.44H345.38M344.03 167.09V169.79M343.08 170.09H345.78M344.43 168.74V171.44M343.44 171.75H346.14M344.79 170.4V173.1M343.76 173.42H346.46M345.11 172.07V174.77M344.05 175.1H346.75M345.4 173.75V176.45M344.31 176.78H347.01M345.66 175.43V178.13M344.53 178.46H347.23M345.88 177.11V179.81M344.72 180.15H347.42M346.07 178.8V181.5M344.87 181.85H347.57M346.22 180.5V183.2M344.99 183.54H347.69M346.34 182.19V184.89M345.1 185.24H347.8M346.45 183.89V186.59M345.18 186.94H347.88M346.53 185.59V188.29M345.25 188.63H347.95M346.6 187.28V189.98M345.32 190.33H348.02M346.67 188.98V191.68M345.37 192.03H348.07M346.72 190.68V193.38M345.42 193.73H348.12M346.77 192.38V195.08M345.46 195.43H348.16M346.81 194.08V196.78M345.49 197.13H348.19M346.84 195.78V198.48M345.52 198.83H348.22M346.87 197.48V200.18M345.55 200.53H348.25M346.9 199.18V201.88M345.57 202.23H348.27M346.92 200.88V203.58M345.6 203.93H348.3M346.95 202.58V205.28M345.62 205.63H348.32M346.97 204.28V206.98M345.63 207.33H348.33M346.98 205.98V208.68M345.65 209.03H348.35M347 207.68V210.38M345.67 210.73H348.37M347.02 209.38V212.08M345.68 212.43H348.38M347.03 211.08V213.78M345.7 214.13H348.4M347.05 212.78V215.48M345.72 215.83H348.42M347.07 214.48V217.18M345.73 217.53H348.43M347.08 216.18V218.88M345.75 219.23H348.45M347.1 217.88V220.58M33.9 3.6H36.9M35.4 2.1V5.1M33.9 4.5H36.9M35.4 3V6M33.9 5.4H36.9M35.4 3.9V6.9M33.9 6.3H36.9M35.4 4.8V7.8M33.9 7.2H36.9M35.4 5.7V8.7M33.9 8.1H36.9M35.4 6.6V9.6M33.9 9H36.9M35.4 7.5V10.5M33.9 9.9H36.9M35.4 8.4V11.4M33.9 10.8H36.9M35.4 9.3V12.3M33.9 11.7H36.9M35.4 10.2V13.2M33.9 12.6H36.9M35.4 11.1V14.1M33.9 13.5H36.9M35.4 12V15M33.9 14.4H36.9M35.4 12.9V15.9M33.9 15.3H36.9M35.4 13.8V16.8M33.9 16.2H36.9M35.4 14.7V17.7M33.9 17.1H36.9M35.4 15.6V18.6M33.9 18H36.9M35.4 16.5V19.5M33.9 18.9H36.9M35.4 17.4V20.4M33.9 19.8H36.9M35.4 18.3V21.3M33.9 20.7H36.9M35.4 19.2V22.2M33.9 21.6H36.9M35.4 20.1V23.1M33.9 22.5H36.9M35.4 21V24M33.9 23.4H36.9M35.4 21.9V24.9M33.9 24.3H36.9M35.4 22.8V25.8M33.9 25.2H36.9M35.4 23.7V26.7M33.9 26.1H36.9M35.4 24.6V27.6M33.9 27H36.9M35.4 25.5V28.5M33.9 27.9H36.9M35.4 26.4V29.4M33.9 28.8H36.9M35.4 27.3V30.3M33.9 29.7H36.9M35.4 28.2V31.2M33.9 30.6H36.9M35.4 29.1V32.1M33.9 31.5H36.9M35.4 30V33M33.9 32.4H36.9M35.4 30.9V33.9M33.9 33.3H36.9M35.4 31.8V34.8M33.9 34.2H36.9M35.4 32.7V35.7M33.9 35.1H36.9M35.4 33.6V36.6M33.9 36H36.9M35.4 34.5V37.5M33.9 36.9H36.9M35.4 35.4V38.4M33.9 37.8H36.9M35.4 36.3V39.3M33.9 38.7H36.9M35.4 37.2V40.2M33.9 39.6H36.9M35.4 38.1V41.1M33.9 40.5H36.9M35.4 39V42M33.9 41.4H36.9M35.4 39.9V42.9M33.9 42.3H36.9M35.4 40.8V43.8M33.9 43.2H36.9M35.4 41.7V44.7M33.9 44.1H36.9M35.4 42.6V45.6M33.9 45H36.9M35.4 43.5V46.5M33.9 45.9H36.9M35.4 44.4V47.4M33.9 46.8H36.9M35.4 45.3V48.3M33.9 47.7H36.9M35.4 46.2V49.2M33.9 48.6H36.9M35.4 47.1V50.1M33.9 49.5H36.9M35.4 48V51M33.9 50.4H36.9M35.4 48.9V51.9M33.9 51.3H36.9M35.4 49.8V52.8M33.9 52.2H36.9M35.4 50.7V53.7M33.9 53.1H36.9M35.4 51.6V54.6M33.9 54H36.9M35.4 52.5V55.5M33.9 54.9H36.9M35.4 53.4V56.4M33.9 55.8H36.9M35.4 54.3V57.3M33.9 56.7H36.9M35.4 55.2V58.2M33.9 57.6H36.9M35.4 56.1V59.1M33.9 58.5H36.9M35.4 57V60M33.9 59.4H36.9M35.4 57.9V60.9M33.9 60.3H36.9M35.4 58.8V61.8M33.9 61.2H36.9M35.4 59.7V62.7M33.9 62.1H36.9M35.4 60.6V63.6M33.9 63H36.9M35.4 61.5V64.5M33.9 63.9H36.9M35.4 62.4V65.4M33.9 64.8H36.9M35.4 63.3V66.3M33.9 65.7H36.9M35.4 64.2V67.2M33.9 66.6H36.9M35.4 65.1V68.1M33.9 67.5H36.9M35.4 66V69M33.9 68.4H36.9M35.4 66.9V69.9M33.9 69.3H36.9M35.4 67.8V70.8M33.9 70.2H36.9M35.4 68.7V71.7M33.9 71.1H36.9M35.4 69.6V72.6M33.9 72H36.9M35.4 70.5V73.5M33.9 72.9H36.9M35.4 71.4V74.4M33.9 73.8H36.9M35.4 72.3V75.3M33.9 74.7H36.9M35.4 73.2V76.2M33.9 75.6H36.9M35.4 74.1V77.1M33.9 76.5H36.9M35.4 75V78M33.9 77.4H36.9M35.4 75.9V78.9M33.9 78.3H36.9M35.4 76.8V79.8M33.9 79.2H36.9M35.4 77.7V80.7M33.9 80.1H36.9M35.4 78.6V81.6M33.9 81H36.9M35.4 79.5V82.5M33.9 81.9H36.9M35.4 80.4V83.4M33.9 82.8H36.9M35.4 81.3V84.3M33.9 83.7H36.9M35.4 82.2V85.2M33.9 84.6H36.9M35.4 83.1V86.1M33.9 85.5H36.9M35.4 84V87M33.9 86.4H36.9M35.4 84.9V87.9M33.9 87.3H36.9M35.4 85.8V88.8M33.9 88.2H36.9M35.4 86.7V89.7M33.9 89.1H36.9M35.4 87.6V90.6M33.9 90H36.9M35.4 88.5V91.5M33.9 90.9H36.9M35.4 89.4V92.4M33.9 91.8H36.9M35.4 90.3V93.3M33.9 92.7H36.9M35.4 91.2V94.2M33.9 93.6H36.9M35.4 92.1V95.1M33.9 94.5H36.9M35.4 93V96M33.9 95.4H36.9M35.4 93.9V96.9M33.9 96.3H36.9M35.4 94.8V97.8M33.9 97.2H36.9M35.4 95.7V98.7M33.9 98.1H36.9M35.4 96.6V99.6M33.9 99H36.9M35.4 97.5V100.5M33.9 99.9H36.9M35.4 98.4V101.4M33.9 100.8H36.9M35.4 99.3V102.3M33.9 101.7H36.9M35.4 100.2V103.2M33.9 102.6H36.9M35.4 101.1V104.1M33.9 103.5H36.9M35.4 102V105M33.9 104.4H36.9M35.4 102.9V105.9M33.9 105.3H36.9M35.4 103.8V106.8M33.9 106.2H36.9M35.4 104.7V107.7M33.9 107.1H36.9M35.4 105.6V108.6M33.9 108H36.9M35.4 106.5V109.5M33.9 108.9H36.9M35.4 107.4V110.4M33.9 109.8H36.9M35.4 108.3V111.3M33.9 110.7H36.9M35.4 109.2V112.2M33.9 111.6H36.9M35.4 110.1V113.1M33.9 112.5H36.9M35.4 111V114M33.9 113.4H36.9M35.4 111.9V114.9M33.9 114.3H36.9M35.4 112.8V115.8M33.9 115.2H36.9M35.4 113.7V116.7M33.9 116.1H36.9M35.4 114.6V117.6M33.9 117H36.9M35.4 115.5V118.5M33.9 117.9H36.9M35.4 116.4V119.4M33.9 118.8H36.9M35.4 117.3V120.3M33.9 119.7H36.9M35.4 118.2V121.2M33.9 120.6H36.9M35.4 119.1V122.1M33.9 121.5H36.9M35.4 120V123M33.9 122.4H36.9M35.4 120.9V123.9M33.9 123.3H36.9M35.4 121.8V124.8M33.9 124.2H36.9M35.4 122.7V125.7M33.9 125.1H36.9M35.4 123.6V126.6M33.9 126H36.9M35.4 124.5V127.5M33.9 126.9H36.9M35.4 125.4V128.4M33.9 127.8H36.9M35.4 126.3V129.3M33.9 128.7H36.9M35.4 127.2V130.2M33.9 129.6H36.9M35.4 128.1V131.1M33.9 130.5H36.9M35.4 129V132M33.9 131.4H36.9M35.4 129.9V132.9M33.9 132.3H36.9M35.4 130.8V133.8M33.9 133.2H36.9M35.4 131.7V134.7M33.9 134.1H36.9M35.4 132.6V135.6M33.9 135H36.9M35.4 133.5V136.5M33.9 135.9H36.9M35.4 134.4V137.4M33.9 136.8H36.9M35.4 135.3V138.3M33.9 137.7H36.9M35.4 136.2V139.2M33.9 138.6H36.9M35.4 137.1V140.1M33.9 139.5H36.9M35.4 138V141M33.9 140.4H36.9M35.4 138.9V141.9M33.9 141.3H36.9M35.4 139.8V142.8M33.9 142.2H36.9M35.4 140.7V143.7M33.9 143.1H36.9M35.4 141.6V144.6M33.9 144H36.9M35.4 142.5V145.5M33.9 144.9H36.9M35.4 143.4V146.4M33.9 145.8H36.9M35.4 144.3V147.3M33.9 146.7H36.9M35.4 145.2V148.2M33.9 147.6H36.9M35.4 146.1V149.1M33.9 148.5H36.9M35.4 147V150M33.9 149.4H36.9M35.4 147.9V150.9M33.9 150.3H36.9M35.4 148.8V151.8M33.9 151.2H36.9M35.4 149.7V152.7M33.9 152.1H36.9M35.4 150.6V153.6M33.9 153H36.9M35.4 151.5V154.5M33.9 153.9H36.9M35.4 152.4V155.4M33.9 154.8H36.9M35.4 153.3V156.3M33.9 155.7H36.9M35.4 154.2V157.2M33.9 156.6H36.9M35.4 155.1V158.1M33.9 157.5H36.9M35.4 156V159M33.9 158.4H36.9M35.4 156.9V159.9M33.9 159.3H36.9M35.4 157.8V160.8M33.9 160.2H36.9M35.4 158.7V161.7M33.9 161.1H36.9M35.4 159.6V162.6M33.9 162H36.9M35.4 160.5V163.5M33.9 162.9H36.9M35.4 161.4V164.4M33.9 163.8H36.9M35.4 162.3V165.3M33.9 164.7H36.9M35.4 163.2V166.2M33.9 165.6H36.9M35.4 164.1V167.1M33.9 166.5H36.9M35.4 165V168M33.9 167.4H36.9M35.4 165.9V168.9M33.9 168.3H36.9M35.4 166.8V169.8M33.9 169.2H36.9M35.4 167.7V170.7M33.9 170.1H36.9M35.4 168.6V171.6M33.9 171H36.9M35.4 169.5V172.5M33.9 171.9H36.9M35.4 170.4V173.4M33.9 172.8H36.9M35.4 171.3V174.3M33.9 173.7H36.9M35.4 172.2V175.2M33.9 174.6H36.9M35.4 173.1V176.1M33.9 175.5H36.9M35.4 174V177M33.9 176.4H36.9M35.4 174.9V177.9M33.9 177.3H36.9M35.4 175.8V178.8M33.9 178.2H36.9M35.4 176.7V179.7M33.9 179.1H36.9M35.4 177.6V180.6M33.9 180H36.9M35.4 178.5V181.5M33.9 180.9H36.9M35.4 179.4V182.4M33.9 181.8H36.9M35.4 180.3V183.3M33.9 182.7H36.9M35.4 181.2V184.2M33.9 183.6H36.9M35.4 182.1V185.1M33.9 184.5H36.9M35.4 183V186M33.9 185.4H36.9M35.4 183.9V186.9M33.9 186.3H36.9M35.4 184.8V187.8M33.9 187.2H36.9M35.4 185.7V188.7M33.9 188.1H36.9M35.4 186.6V189.6M33.9 189H36.9M35.4 187.5V190.5M33.9 189.9H36.9M35.4 188.4V191.4M33.9 190.8H36.9M35.4 189.3V192.3M33.9 191.7H36.9M35.4 190.2V193.2M33.9 192.6H36.9M35.4 191.1V194.1M33.9 193.5H36.9M35.4 192V195M33.9 194.4H36.9M35.4 192.9V195.9M33.9 195.3H36.9M35.4 193.8V196.8M33.9 196.2H36.9M35.4 194.7V197.7M33.9 197.1H36.9M35.4 195.6V198.6M33.9 198H36.9M35.4 196.5V199.5M33.9 198.9H36.9M35.4 197.4V200.4M33.9 199.8H36.9M35.4 198.3V201.3M33.9 200.7H36.9M35.4 199.2V202.2M33.9 201.6H36.9M35.4 200.1V203.1M33.9 202.5H36.9M35.4 201V204M33.9 203.4H36.9M35.4 201.9V204.9M33.9 204.3H36.9M35.4 202.8V205.8M33.9 205.2H36.9M35.4 203.7V206.7M33.9 206.1H36.9M35.4 204.6V207.6M33.9 207H36.9M35.4 205.5V208.5M33.9 207.9H36.9M35.4 206.4V209.4M33.9 208.8H36.9M35.4 207.3V210.3M33.9 209.7H36.9M35.4 208.2V211.2M33.9 210.6H36.9M35.4 209.1V212.1M33.9 211.5H36.9M35.4 210V213M33.9 212.4H36.9M35.4 210.9V213.9M33.9 213.3H36.9M35.4 211.8V214.8M33.9 214.2H36.9M35.4 212.7V215.7M33.9 215.1H36.9M35.4 213.6V216.6M33.9 216H36.9M35.4 214.5V217.5M33.9 216.9H36.9M35.4 215.4V218.4M33.9 217.8H36.9M35.4 216.3V219.3M33.9 218.7H36.9M35.4 217.2V220.2M327.55 9.4H330.55M329.05 7.9V10.9" stroke="#000" stroke-width="0.38" fill="none"/>
<path d="M33.9 217.8h3v3h-3zM33.91 217.1h3v3h-3zM33.92 216.4h3v3h-3zM33.93 215.7h3v3h-3zM33.94 215h3v3h-3zM33.95 214.3h3v3h-3zM33.96 213.6h3v3h-3zM33.97 212.9h3v3h-3zM33.98 212.2h3v3h-3zM33.99 211.5h3v3h-3zM34 210.8h3v3h-3zM34.02 210.1h3v3h-3zM34.03 209.4h3v3h-3zM34.05 208.7h3v3h-3zM34.06 208h3v3h-3zM34.08 207.3h3v3h-3zM34.1 206.6h3v3h-3zM34.12 205.9h3v3h-3zM34.14 205.2h3v3h-3zM34.17 204.5h3v3h-3zM34.2 203.8h3v3h-3zM34.24 203.1h3v3h-3zM34.28 202.41h3v3h-3zM34.32 201.71h3v3h-3zM34.37 201.01h3v3h-3zM34.42 200.31h3v3h-3zM34.48 199.61h3v3h-3zM34.54 198.92h3v3h-3zM34.6 198.22h3v3h-3zM34.67 197.52h3v3h-3zM34.74 196.82h3v3h-3zM34.82 196.12h3v3h-3zM34.9 195.42h3v3h-3zM34.98 194.72h3v3h-3zM35.07 194.02h3v3h-3zM35.17 193.32h3v3h-3zM35.28 192.62h3v3h-3zM35.4 191.92h3v3h-3zM35.53 191.23h3v3h-3zM35.68 190.53h3v3h-3zM35.84 189.83h3v3h-3zM36.01 189.13h3v3h-3zM36.17 188.43h3v3h-3zM36.31 187.73h3v3h-3zM36.45 187.02h3v3h-3zM36.58 186.31h3v3h-3zM36.72 185.59h3v3h-3zM36.86 184.88h3v3h-3zM37.01 184.16h3v3h-3zM37.19 183.46h3v3h-3zM37.39 182.75h3v3h-3zM37.61 182.05h3v3h-3zM37.87 181.36h3v3h-3zM38.16 180.67h3v3h-3zM38.48 180h3v3h-3zM38.83 179.34h3v3h-3zM39.25 178.71h3v3h-3zM39.75 178.14h3v3h-3zM40.35 177.67h3v3h-3zM41.01 177.26h3v3h-3zM41.7 176.9h3v3h-3zM42.42 176.58h3v3h-3zM43.19 176.37h3v3h-3zM44.29 176.13h3v3h-3zM45.9 175.83h3v3h-3zM48.26 175.52h3v3h-3zM51.74 175.26h3v3h-3zM55.34 175.07h3v3h-3zM58.93 174.88h3v3h-3zM62.53 174.72h3v3h-3zM66.12 174.55h3v3h-3zM69.72 174.31h3v3h-3zM73.3 174.01h3v3h-3zM76.88 173.62h3v3h-3zM80.44 173.09h3v3h-3zM83.92 172.44h3v3h-3zM87.26 171.7h3v3h-3zM90.46 170.87h3v3h-3zM93.53 169.95h3v3h-3zM96.48 169.02h3v3h-3zM99.38 168.14h3v3h-3zM102.23 167.29h3v3h-3zM105.01 166.46h3v3h-3zM107.73 165.64h3v3h-3zM110.38 164.82h3v3h-3zM112.98 164.01h3v3h-3zM115.52 163.2h3v3h-3zM117.99 162.38h3v3h-3zM120.39 161.51h3v3h-3zM122.72 160.62h3v3h-3zM124.99 159.73h3v3h-3zM127.22 158.87h3v3h-3zM129.42 158.07h3v3h-3zM131.59 157.32h3v3h-3zM133.71 156.59h3v3h-3zM135.79 155.89h3v3h-3zM137.87 155.21h3v3h-3zM139.92 154.53h3v3h-3zM141.97 153.87h3v3h-3zM144 153.21h3v3h-3zM146.02 152.57h3v3h-3zM148.03 151.95h3v3h-3zM150.03 151.33h3v3h-3zM152.01 150.73h3v3h-3zM153.98 150.14h3v3h-3zM155.94 149.56h3v3h-3zM157.88 148.98h3v3h-3zM159.81 148.41h3v3h-3zM161.73 147.85h3v3h-3zM163.63 147.3h3v3h-3zM165.52 146.74h3v3h-3zM167.39 146.16h3v3h-3zM169.23 145.55h3v3h-3zM171.04 144.91h3v3h-3zM172.83 144.24h3v3h-3zM174.61 143.57h3v3h-3zM176.38 142.92h3v3h-3zM178.15 142.32h3v3h-3zM179.92 141.75h3v3h-3zM181.68 141.21h3v3h-3zM183.43 140.69h3v3h-3zM185.18 140.21h3v3h-3zM186.93 139.77h3v3h-3zM188.67 139.36h3v3h-3zM190.41 139.01h3v3h-3zM192.14 138.69h3v3h-3zM193.87 138.41h3v3h-3zM195.59 138.17h3v3h-3zM197.3 137.94h3v3h-3zM199 137.75h3v3h-3zM200.69 137.58h3v3h-3zM202.38 137.45h3v3h-3zM204.08 137.33h3v3h-3zM205.78 137.24h3v3h-3zM207.47 137.15h3v3h-3zM209.17 137.07h3v3h-3zM210.87 137h3v3h-3zM212.57 136.94h3v3h-3zM214.27 136.89h3v3h-3zM215.97 136.85h3v3h-3zM217.67 136.81h3v3h-3zM219.37 136.79h3v3h-3zM221.07 136.76h3v3h-3zM222.77 136.74h3v3h-3zM224.47 136.73h3v3h-3zM226.17 136.74h3v3h-3zM227.87 136.78h3v3h-3zM229.56 136.85h3v3h-3zM231.26 136.96h3v3h-3zM232.95 137.1h3v3h-3zM234.65 137.26h3v3h-3zM236.34 137.41h3v3h-3zM238.03 137.56h3v3h-3zM239.73 137.7h3v3h-3zM241.42 137.83h3v3h-3zM243.12 137.96h3v3h-3zM244.81 138.09h3v3h-3zM246.51 138.23h3v3h-3zM248.2 138.37h3v3h-3zM249.89 138.53h3v3h-3zM251.59 138.69h3v3h-3zM253.28 138.86h3v3h-3zM254.97 139.04h3v3h-3zM256.66 139.21h3v3h-3zM258.35 139.38h3v3h-3zM260.04 139.55h3v3h-3zM261.73 139.72h3v3h-3zM263.43 139.89h3v3h-3zM265.12 140.05h3v3h-3zM266.81 140.23h3v3h-3zM268.5 140.4h3v3h-3zM270.19 140.57h3v3h-3zM271.89 140.72h3v3h-3zM273.58 140.88h3v3h-3zM275.27 141.05h3v3h-3zM276.96 141.27h3v3h-3zM278.64 141.53h3v3h-3zM280.3 141.85h3v3h-3zM281.96 142.23h3v3h-3zM283.61 142.63h3v3h-3zM285.26 143.05h3v3h-3zM286.91 143.45h3v3h-3zM288.57 143.81h3v3h-3zM290.24 144.14h3v3h-3zM291.91 144.45h3v3h-3zM293.59 144.74h3v3h-3zM295.26 145.03h3v3h-3zM296.94 145.32h3v3h-3zM298.61 145.62h3v3h-3zM300.28 145.94h3v3h-3zM301.95 146.26h3v3h-3zM303.62 146.6h3v3h-3zM305.28 146.95h3v3h-3zM306.94 147.32h3v3h-3zM308.6 147.7h3v3h-3zM310.25 148.08h3v3h-3zM311.91 148.47h3v3h-3zM313.56 148.87h3v3h-3zM315.21 149.28h3v3h-3zM316.86 149.69h3v3h-3zM318.51 150.11h3v3h-3zM320.15 150.54h3v3h-3zM321.79 151h3v3h-3zM323.42 151.49h3v3h-3zM325.03 152.03h3v3h-3zM326.62 152.62h3v3h-3zM328.19 153.27h3v3h-3zM329.74 153.97h3v3h-3zM331.25 154.75h3v3h-3zM332.73 155.58h3v3h-3zM334.18 156.48h3v3h-3zM335.56 157.47h3v3h-3zM336.9 158.51h3v3h-3zM338.22 159.59h3v3h-3zM339.46 160.75h3v3h-3zM340.51 162.08h3v3h-3zM341.37 163.55h3v3h-3zM342.04 165.11h3v3h-3zM342.53 166.74h3v3h-3zM342.93 168.39h3v3h-3zM343.29 170.05h3v3h-3zM343.61 171.72h3v3h-3zM343.9 173.4h3v3h-3zM344.16 175.07h3v3h-3zM344.38 176.76h3v3h-3zM344.57 178.45h3v3h-3zM344.72 180.14h3v3h-3zM344.84 181.84h3v3h-3zM344.95 183.54h3v3h-3zM345.03 185.23h3v3h-3zM345.1 186.93h3v3h-3zM345.17 188.63h3v3h-3zM345.22 190.33h3v3h-3zM345.27 192.03h3v3h-3zM345.31 193.73h3v3h-3zM345.34 195.43h3v3h-3zM345.37 197.13h3v3h-3zM345.4 198.83h3v3h-3zM345.42 200.53h3v3h-3zM345.45 202.23h3v3h-3zM345.47 203.93h3v3h-3zM345.48 205.63h3v3h-3zM345.5 207.33h3v3h-3zM345.52 209.03h3v3h-3zM345.53 210.73h3v3h-3zM345.55 212.43h3v3h-3zM345.57 214.13h3v3h-3zM345.58 215.83h3v3h-3zM345.6 217.53h3v3h-3zM327.55 15.1h3v3h-3z" stroke="#000" stroke-width="0.6" fill="none"/>
<path d="M33.95 217.55h2.9v2.9h-2.9zM33.96 216.85h2.9v2.9h-2.9zM33.96 216.15h2.9v2.9h-2.9zM33.97 215.45h2.9v2.9h-2.9zM33.98 214.75h2.9v2.9h-2.9zM33.99 214.05h2.9v2.9h-2.9zM33.99 213.35h2.9v2.9h-2.9zM34 212.65h2.9v2.9h-2.9zM34.01 211.95h2.9v2.9h-2.9zM34.01 211.25h2.9v2.9h-2.9zM34.02 210.55h2.9v2.9h-2.9zM34.03 209.85h2.9v2.9h-2.9zM34.03 209.15h2.9v2.9h-2.9zM34.04 208.45h2.9v2.9h-2.9zM34.05 207.75h2.9v2.9h-2.9zM34.05 207.05h2.9v2.9h-2.9zM34.06 206.35h2.9v2.9h-2.9zM34.07 205.65h2.9v2.9h-2.9zM34.07 204.95h2.9v2.9h-2.9zM34.08 204.25h2.9v2.9h-2.9zM34.09 203.55h2.9v2.9h-2.9zM34.09 202.85h2.9v2.9h-2.9zM34.1 202.15h2.9v2.9h-2.9zM34.11 201.45h2.9v2.9h-2.9zM34.11 200.75h2.9v2.9h-2.9zM34.12 200.05h2.9v2.9h-2.9zM34.13 199.35h2.9v2.9h-2.9zM34.13 198.65h2.9v2.9h-2.9zM34.14 197.95h2.9v2.9h-2.9zM34.15 197.25h2.9v2.9h-2.9zM34.15 196.55h2.9v2.9h-2.9zM34.16 195.85h2.9v2.9h-2.9zM34.17 195.15h2.9v2.9h-2.9zM34.18 194.45h2.9v2.9h-2.9zM34.18 193.75h2.9v2.9h-2.9zM34.19 193.05h2.9v2.9h-2.9zM34.2 192.35h2.9v2.9h-2.9zM34.2 191.65h2.9v2.9h-2.9zM34.21 190.95h2.9v2.9h-2.9zM34.22 190.25h2.9v2.9h-2.9zM34.23 189.55h2.9v2.9h-2.9zM34.24 188.85h2.9v2.9h-2.9zM34.24 188.15h2.9v2.9h-2.9zM34.25 187.45h2.9v2.9h-2.9zM34.26 186.75h2.9v2.9h-2.9zM34.27 186.05h2.9v2.9h-2.9zM34.28 185.35h2.9v2.9h-2.9zM34.28 184.65h2.9v2.9h-2.9zM34.29 183.95h2.9v2.9h-2.9zM34.3 183.25h2.9v2.9h-2.9zM34.31 182.55h2.9v2.9h-2.9zM34.32 181.85h2.9v2.9h-2.9zM34.33 181.15h2.9v2.9h-2.9zM34.34 180.45h2.9v2.9h-2.9zM34.35 179.75h2.9v2.9h-2.9zM34.36 179.05h2.9v2.9h-2.9zM34.37 178.35h2.9v2.9h-2.9zM34.38 177.65h2.9v2.9h-2.9zM34.39 176.95h2.9v2.9h-2.9zM34.4 176.25h2.9v2.9h-2.9zM34.41 175.55h2.9v2.9h-2.9zM34.43 174.85h2.9v2.9h-2.9zM34.44 174.15h2.9v2.9h-2.9zM34.45 173.45h2.9v2.9h-2.9zM34.47 172.75h2.9v2.9h-2.9zM34.49 172.05h2.9v2.9h-2.9zM34.5 171.35h2.9v2.9h-2.9zM34.52 170.65h2.9v2.9h-2.9zM34.54 169.95h2.9v2.9h-2.9zM34.57 169.25h2.9v2.9h-2.9zM34.59 168.55h2.9v2.9h-2.9zM34.62 167.85h2.9v2.9h-2.9zM34.66 167.15h2.9v2.9h-2.9zM34.69 166.45h2.9v2.9h-2.9zM34.74 165.75h2.9v2.9h-2.9zM34.79 165.05h2.9v2.9h-2.9zM34.86 164.35h2.9v2.9h-2.9zM34.93 163.65h2.9v2.9h-2.9zM35.01 162.95h2.9v2.9h-2.9zM35.08 162.25h2.9v2.9h-2.9zM35.15 161.55h2.9v2.9h-2.9zM35.21 160.84h2.9v2.9h-2.9zM35.28 160.14h2.9v2.9h-2.9zM35.36 159.43h2.9v2.9h-2.9zM35.44 158.73h2.9v2.9h-2.9zM35.53 158.02h2.9v2.9h-2.9zM35.62 157.32h2.9v2.9h-2.9zM35.72 156.61h2.9v2.9h-2.9zM35.83 155.9h2.9v2.9h-2.9zM35.94 155.2h2.9v2.9h-2.9zM36.06 154.49h2.9v2.9h-2.9zM36.18 153.78h2.9v2.9h-2.9zM36.32 153.07h2.9v2.9h-2.9zM36.47 152.37h2.9v2.9h-2.9zM36.64 151.66h2.9v2.9h-2.9zM36.83 150.96h2.9v2.9h-2.9zM37.04 150.26h2.9v2.9h-2.9zM37.26 149.57h2.9v2.9h-2.9zM37.52 148.88h2.9v2.9h-2.9zM37.82 148.21h2.9v2.9h-2.9zM38.17 147.56h2.9v2.9h-2.9zM38.56 146.92h2.9v2.9h-2.9zM39.02 146.33h2.9v2.9h-2.9zM39.53 145.77h2.9v2.9h-2.9zM40.12 145.29h2.9v2.9h-2.9zM40.78 144.9h2.9v2.9h-2.9zM41.46 144.52h2.9v2.9h-2.9zM42.16 144.16h2.9v2.9h-2.9zM42.89 143.83h2.9v2.9h-2.9zM43.74 143.52h2.9v2.9h-2.9zM44.85 143.17h2.9v2.9h-2.9zM46.31 142.74h2.9v2.9h-2.9zM48.23 142.28h2.9v2.9h-2.9zM50.76 141.79h2.9v2.9h-2.9zM54.02 141.27h2.9v2.9h-2.9zM57.28 140.79h2.9v2.9h-2.9zM60.54 140.3h2.9v2.9h-2.9zM63.75 139.74h2.9v2.9h-2.9zM66.89 139.1h2.9v2.9h-2.9zM69.95 138.46h2.9v2.9h-2.9zM72.96 137.84h2.9v2.9h-2.9zM75.9 137.19h2.9v2.9h-2.9zM78.77 136.49h2.9v2.9h-2.9zM81.56 135.71h2.9v2.9h-2.9zM84.28 134.89h2.9v2.9h-2.9zM86.89 134.07h2.9v2.9h-2.9zM89.31 133.31h2.9v2.9h-2.9zM91.54 132.61h2.9v2.9h-2.9zM93.6 131.95h2.9v2.9h-2.9zM95.5 131.33h2.9v2.9h-2.9zM97.25 130.77h2.9v2.9h-2.9zM98.88 130.25h2.9v2.9h-2.9zM100.39 129.76h2.9v2.9h-2.9zM101.89 129.27h2.9v2.9h-2.9zM103.37 128.8h2.9v2.9h-2.9zM104.82 128.33h2.9v2.9h-2.9zM106.25 127.87h2.9v2.9h-2.9zM107.67 127.42h2.9v2.9h-2.9zM109.07 126.99h2.9v2.9h-2.9zM110.44 126.56h2.9v2.9h-2.9zM111.8 126.13h2.9v2.9h-2.9zM113.14 125.72h2.9v2.9h-2.9zM114.46 125.31h2.9v2.9h-2.9zM115.76 124.92h2.9v2.9h-2.9zM117.05 124.56h2.9v2.9h-2.9zM118.33 124.21h2.9v2.9h-2.9zM119.59 123.89h2.9v2.9h-2.9zM120.85 123.58h2.9v2.9h-2.9zM122.1 123.29h2.9v2.9h-2.9zM123.35 123.02h2.9v2.9h-2.9zM124.59 122.76h2.9v2.9h-2.9zM125.82 122.5h2.9v2.9h-2.9zM127.05 122.25h2.9v2.9h-2.9zM128.27 122.01h2.9v2.9h-2.9zM129.48 121.77h2.9v2.9h-2.9zM130.68 121.53h2.9v2.9h-2.9zM131.88 121.3h2.9v2.9h-2.9zM133.07 121.08h2.9v2.9h-2.9zM134.25 120.86h2.9v2.9h-2.9zM135.43 120.65h2.9v2.9h-2.9zM136.6 120.46h2.9v2.9h-2.9zM137.77 120.27h2.9v2.9h-2.9zM138.93 120.1h2.9v2.9h-2.9zM140.08 119.93h2.9v2.9h-2.9zM141.22 119.78h2.9v2.9h-2.9zM142.36 119.63h2.9v2.9h-2.9zM143.5 119.49h2.9v2.9h-2.9zM144.62 119.36h2.9v2.9h-2.9zM145.74 119.24h2.9v2.9h-2.9zM146.85 119.12h2.9v2.9h-2.9zM147.96 119.01h2.9v2.9h-2.9zM149.06 118.9h2.9v2.9h-2.9zM150.15 118.79h2.9v2.9h-2.9zM151.25 118.69h2.9v2.9h-2.9zM152.34 118.6h2.9v2.9h-2.9zM153.44 118.5h2.9v2.9h-2.9zM154.53 118.42h2.9v2.9h-2.9zM155.62 118.34h2.9v2.9h-2.9zM156.72 118.26h2.9v2.9h-2.9zM157.81 118.19h2.9v2.9h-2.9zM158.91 118.13h2.9v2.9h-2.9zM160 118.08h2.9v2.9h-2.9zM161.09 118.04h2.9v2.9h-2.9zM162.19 118.01h2.9v2.9h-2.9zM163.28 117.99h2.9v2.9h-2.9zM164.37 117.96h2.9v2.9h-2.9zM165.46 117.94h2.9v2.9h-2.9zM166.55 117.91h2.9v2.9h-2.9zM167.65 117.88h2.9v2.9h-2.9zM168.74 117.84h2.9v2.9h-2.9zM169.82 117.79h2.9v2.9h-2.9zM170.91 117.74h2.9v2.9h-2.9zM172 117.68h2.9v2.9h-2.9zM173.09 117.63h2.9v2.9h-2.9zM174.17 117.57h2.9v2.9h-2.9zM175.26 117.51h2.9v2.9h-2.9zM176.34 117.45h2.9v2.9h-2.9zM177.43 117.4h2.9v2.9h-2.9zM178.51 117.35h2.9v2.9h-2.9zM179.6 117.31h2.9v2.9h-2.9zM180.68 117.26h2.9v2.9h-2.9zM181.76 117.22h2.9v2.9h-2.9zM182.85 117.18h2.9v2.9h-2.9zM183.93 117.14h2.9v2.9h-2.9zM185.01 117.1h2.9v2.9h-2.9zM186.09 117.08h2.9v2.9h-2.9zM187.17 117.06h2.9v2.9h-2.9zM188.25 117.05h2.9v2.9h-2.9zM189.33 117.05h2.9v2.9h-2.9zM190.41 117.07h2.9v2.9h-2.9zM191.49 117.09h2.9v2.9h-2.9zM192.57 117.11h2.9v2.9h-2.9zM193.65 117.15h2.9v2.9h-2.9zM194.72 117.19h2.9v2.9h-2.9zM195.8 117.23h2.9v2.9h-2.9zM196.88 117.28h2.9v2.9h-2.9zM197.95 117.32h2.9v2.9h-2.9zM199.02 117.37h2.9v2.9h-2.9zM200.1 117.42h2.9v2.9h-2.9zM201.17 117.48h2.9v2.9h-2.9zM202.24 117.53h2.9v2.9h-2.9zM203.31 117.59h2.9v2.9h-2.9zM204.38 117.66h2.9v2.9h-2.9zM205.45 117.73h2.9v2.9h-2.9zM206.52 117.8h2.9v2.9h-2.9zM207.59 117.88h2.9v2.9h-2.9zM208.66 117.96h2.9v2.9h-2.9zM209.73 118.05h2.9v2.9h-2.9zM210.79 118.14h2.9v2.9h-2.9zM211.85 118.24h2.9v2.9h-2.9zM212.92 118.35h2.9v2.9h-2.9zM213.98 118.46h2.9v2.9h-2.9zM215.04 118.57h2.9v2.9h-2.9zM216.1 118.68h2.9v2.9h-2.9zM217.16 118.8h2.9v2.9h-2.9zM218.22 118.91h2.9v2.9h-2.9zM219.28 119.03h2.9v2.9h-2.9zM220.34 119.15h2.9v2.9h-2.9zM221.4 119.27h2.9v2.9h-2.9zM222.45 119.39h2.9v2.9h-2.9zM223.51 119.52h2.9v2.9h-2.9zM224.56 119.65h2.9v2.9h-2.9zM225.62 119.78h2.9v2.9h-2.9zM226.67 119.91h2.9v2.9h-2.9zM227.72 120.04h2.9v2.9h-2.9zM228.77 120.18h2.9v2.9h-2.9zM229.82 120.32h2.9v2.9h-2.9zM230.87 120.46h2.9v2.9h-2.9zM231.92 120.61h2.9v2.9h-2.9zM232.97 120.76h2.9v2.9h-2.9zM234.02 120.9h2.9v2.9h-2.9zM235.06 121.05h2.9v2.9h-2.9zM236.11 121.2h2.9v2.9h-2.9zM237.16 121.35h2.9v2.9h-2.9zM238.2 121.5h2.9v2.9h-2.9zM239.25 121.65h2.9v2.9h-2.9zM240.29 121.79h2.9v2.9h-2.9zM241.34 121.93h2.9v2.9h-2.9zM242.38 122.08h2.9v2.9h-2.9zM243.42 122.22h2.9v2.9h-2.9zM244.47 122.36h2.9v2.9h-2.9zM245.51 122.51h2.9v2.9h-2.9zM246.55 122.66h2.9v2.9h-2.9zM247.59 122.81h2.9v2.9h-2.9zM248.63 122.96h2.9v2.9h-2.9zM249.67 123.12h2.9v2.9h-2.9zM250.7 123.27h2.9v2.9h-2.9zM251.74 123.43h2.9v2.9h-2.9zM252.78 123.59h2.9v2.9h-2.9zM253.81 123.75h2.9v2.9h-2.9zM254.85 123.92h2.9v2.9h-2.9zM255.88 124.09h2.9v2.9h-2.9zM256.91 124.26h2.9v2.9h-2.9zM257.94 124.44h2.9v2.9h-2.9zM258.97 124.63h2.9v2.9h-2.9zM260 124.82h2.9v2.9h-2.9zM261.02 125.02h2.9v2.9h-2.9zM262.05 125.22h2.9v2.9h-2.9zM263.07 125.43h2.9v2.9h-2.9zM264.09 125.64h2.9v2.9h-2.9zM265.11 125.85h2.9v2.9h-2.9zM266.13 126.06h2.9v2.9h-2.9zM267.15 126.27h2.9v2.9h-2.9zM268.17 126.47h2.9v2.9h-2.9zM269.19 126.68h2.9v2.9h-2.9zM270.21 126.88h2.9v2.9h-2.9zM271.23 127.08h2.9v2.9h-2.9zM272.25 127.27h2.9v2.9h-2.9zM273.27 127.47h2.9v2.9h-2.9zM274.29 127.67h2.9v2.9h-2.9zM275.31 127.87h2.9v2.9h-2.9zM276.32 128.08h2.9v2.9h-2.9zM277.34 128.29h2.9v2.9h-2.9zM278.35 128.51h2.9v2.9h-2.9zM279.36 128.73h2.9v2.9h-2.9zM280.37 128.96h2.9v2.9h-2.9zM281.38 129.19h2.9v2.9h-2.9zM282.38 129.43h2.9v2.9h-2.9zM283.39 129.67h2.9v2.9h-2.9zM284.39 129.92h2.9v2.9h-2.9zM285.39 130.16h2.9v2.9h-2.9zM286.39 130.41h2.9v2.9h-2.9zM287.39 130.66h2.9v2.9h-2.9zM288.39 130.91h2.9v2.9h-2.9zM289.39 131.16h2.9v2.9h-2.9zM290.39 131.41h2.9v2.9h-2.9zM291.39 131.66h2.9v2.9h-2.9zM292.39 131.92h2.9v2.9h-2.9zM293.38 132.17h2.9v2.9h-2.9zM294.38 132.43h2.9v2.9h-2.9zM295.37 132.69h2.9v2.9h-2.9zM296.36 132.95h2.9v2.9h-2.9zM297.35 133.22h2.9v2.9h-2.9zM298.34 133.49h2.9v2.9h-2.9zM299.33 133.77h2.9v2.9h-2.9zM300.31 134.06h2.9v2.9h-2.9zM301.29 134.36h2.9v2.9h-2.9zM302.27 134.67h2.9v2.9h-2.9zM303.24 134.98h2.9v2.9h-2.9zM304.21 135.3h2.9v2.9h-2.9zM305.18 135.63h2.9v2.9h-2.9zM306.15 135.95h2.9v2.9h-2.9zM307.12 136.28h2.9v2.9h-2.9zM308.08 136.62h2.9v2.9h-2.9zM309.04 136.95h2.9v2.9h-2.9zM310.01 137.29h2.9v2.9h-2.9zM310.97 137.63h2.9v2.9h-2.9zM311.93 137.97h2.9v2.9h-2.9zM312.89 138.31h2.9v2.9h-2.9zM313.85 138.65h2.9v2.9h-2.9zM314.81 138.99h2.9v2.9h-2.9zM315.76 139.33h2.9v2.9h-2.9zM316.72 139.66h2.9v2.9h-2.9zM317.68 140h2.9v2.9h-2.9zM318.64 140.34h2.9v2.9h-2.9zM319.6 140.68h2.9v2.9h-2.9zM320.55 141.02h2.9v2.9h-2.9zM321.51 141.37h2.9v2.9h-2.9zM322.46 141.72h2.9v2.9h-2.9zM323.4 142.07h2.9v2.9h-2.9zM324.35 142.43h2.9v2.9h-2.9zM325.29 142.8h2.9v2.9h-2.9zM326.23 143.18h2.9v2.9h-2.9zM327.17 143.56h2.9v2.9h-2.9zM328.1 143.96h2.9v2.9h-2.9zM329.03 144.35h2.9v2.9h-2.9zM329.96 144.74h2.9v2.9h-2.9zM330.89 145.13h2.9v2.9h-2.9zM331.82 145.53h2.9v2.9h-2.9zM332.73 145.95h2.9v2.9h-2.9zM333.63 146.41h2.9v2.9h-2.9zM334.5 146.92h2.9v2.9h-2.9zM335.33 147.48h2.9v2.9h-2.9zM336.14 148.09h2.9v2.9h-2.9zM336.92 148.72h2.9v2.9h-2.9zM337.69 149.37h2.9v2.9h-2.9zM338.45 150.03h2.9v2.9h-2.9zM339.2 150.69h2.9v2.9h-2.9zM339.95 151.36h2.9v2.9h-2.9zM340.7 152.03h2.9v2.9h-2.9zM341.43 152.72h2.9v2.9h-2.9zM342.03 153.52h2.9v2.9h-2.9zM342.56 154.38h2.9v2.9h-2.9zM343 155.27h2.9v2.9h-2.9zM343.35 156.22h2.9v2.9h-2.9zM343.63 157.18h2.9v2.9h-2.9zM343.88 158.15h2.9v2.9h-2.9zM344.07 159.13h2.9v2.9h-2.9zM344.2 160.13h2.9v2.9h-2.9zM344.31 161.12h2.9v2.9h-2.9zM344.4 162.12h2.9v2.9h-2.9zM344.5 163.12h2.9v2.9h-2.9zM344.59 164.12h2.9v2.9h-2.9zM344.66 165.11h2.9v2.9h-2.9zM344.72 166.12h2.9v2.9h-2.9zM344.76 167.12h2.9v2.9h-2.9zM344.8 168.12h2.9v2.9h-2.9zM344.83 169.12h2.9v2.9h-2.9zM344.86 170.12h2.9v2.9h-2.9zM344.89 171.12h2.9v2.9h-2.9zM344.91 172.12h2.9v2.9h-2.9zM344.94 173.12h2.9v2.9h-2.9zM344.96 174.13h2.9v2.9h-2.9zM344.98 175.13h2.9v2.9h-2.9zM345 176.13h2.9v2.9h-2.9zM345.02 177.13h2.9v2.9h-2.9zM345.04 178.13h2.9v2.9h-2.9zM345.06 179.13h2.9v2.9h-2.9zM345.08 180.14h2.9v2.9h-2.9zM345.1 181.14h2.9v2.9h-2.9zM345.11 182.14h2.9v2.9h-2.9zM345.13 183.14h2.9v2.9h-2.9zM345.15 184.14h2.9v2.9h-2.9zM345.16 185.14h2.9v2.9h-2.9zM345.18 186.15h2.9v2.9h-2.9zM345.2 187.15h2.9v2.9h-2.9zM345.21 188.15h2.9v2.9h-2.9zM345.23 189.15h2.9v2.9h-2.9zM345.24 190.15h2.9v2.9h-2.9zM345.26 191.15h2.9v2.9h-2.9zM345.27 192.15h2.9v2.9h-2.9zM345.29 193.16h2.9v2.9h-2.9zM345.3 194.16h2.9v2.9h-2.9zM345.32 195.16h2.9v2.9h-2.9zM345.34 196.16h2.9v2.9h-2.9zM345.35 197.16h2.9v2.9h-2.9zM345.36 198.16h2.9v2.9h-2.9zM345.38 199.16h2.9v2.9h-2.9zM345.39 200.17h2.9v2.9h-2.9zM345.41 201.17h2.9v2.9h-2.9zM345.42 202.17h2.9v2.9h-2.9zM345.44 203.17h2.9v2.9h-2.9zM345.45 204.17h2.9v2.9h-2.9zM345.47 205.17h2.9v2.9h-2.9zM345.48 206.18h2.9v2.9h-2.9zM345.5 207.18h2.9v2.9h-2.9zM345.51 208.18h2.9v2.9h-2.9zM345.53 209.18h2.9v2.9h-2.9zM345.54 210.18h2.9v2.9h-2.9zM345.56 211.18h2.9v2.9h-2.9zM345.57 212.18h2.9v2.9h-2.9zM345.58 213.18h2.9v2.9h-2.9zM345.6 214.19h2.9v2.9h-2.9zM345.61 215.19h2.9v2.9h-2.9zM345.63 216.19h2.9v2.9h-2.9zM345.64 217.19h2.9v2.9h-2.9zM327.6 22.45h2.9v2.9h-2.9z" stroke="#000" stroke-width="0.1" fill="#000"/>
<path d="M34 217.5L37 220.5M34 220.5L37 217.5M34 216.8L37 219.8M34 219.8L37 216.8M34 216.1L37 219.1M34 219.1L37 216.1M34 215.4L37 218.4M34 218.4L37 215.4M34.01 214.7L37.01 217.7M34.01 217.7L37.01 214.7M34.01 214L37.01 217M34.01 217L37.01 214M34.01 213.3L37.01 216.3M34.01 216.3L37.01 213.3M34.01 212.6L37.01 215.6M34.01 215.6L37.01 212.6M34.01 211.9L37.01 214.9M34.01 214.9L37.01 211.9M34.01 211.2L37.01 214.2M34.01 214.2L37.01 211.2M34.02 210.5L37.02 213.5M34.02 213.5L37.02 210.5M34.02 209.8L37.02 212.8M34.02 212.8L37.02 209.8M34.02 209.1L37.02 212.1M34.02 212.1L37.02 209.1M34.02 208.4L37.02 211.4M34.02 211.4L37.02 208.4M34.02 207.7L37.02 210.7M34.02 210.7L37.02 207.7M34.02 207L37.02 210M34.02 210L37.02 207M34.02 206.3L37.02 209.3M34.02 209.3L37.02 206.3M34.03 205.6L37.03 208.6M34.03 208.6L37.03 205.6M34.03 204.9L37.03 207.9M34.03 207.9L37.03 204.9M34.03 204.2L37.03 207.2M34.03 207.2L37.03 204.2M34.03 203.5L37.03 206.5M34.03 206.5L37.03 203.5M34.03 202.8L37.03 205.8M34.03 205.8L37.03 202.8M34.03 202.1L37.03 205.1M34.03 205.1L37.03 202.1M34.03 201.4L37.03 204.4M34.03 204.4L37.03 201.4M34.03 200.7L37.03 203.7M34.03 203.7L37.03 200.7M34.04 200L37.04 203M34.04 203L37.04 200M34.04 199.3L37.04 202.3M34.04 202.3L37.04 199.3M34.04 198.6L37.04 201.6M34.04 201.6L37.04 198.6M34.04 197.9L37.04 200.9M34.04 200.9L37.04 197.9M34.04 197.2L37.04 200.2M34.04 200.2L37.04 197.2M34.04 196.5L37.04 199.5M34.04 199.5L37.04 196.5M34.04 195.8L37.04 198.8M34.04 198.8L37.04 195.8M34.05 195.1L37.05 198.1M34.05 198.1L37.05 195.1M34.05 194.4L37.05 197.4M34.05 197.4L37.05 194.4M34.05 193.7L37.05 196.7M34.05 196.7L37.05 193.7M34.05 193L37.05 196M34.05 196L37.05 193M34.05 192.3L37.05 195.3M34.05 195.3L37.05 192.3M34.05 191.6L37.05 194.6M34.05 194.6L37.05 191.6M34.05 190.9L37.05 193.9M34.05 193.9L37.05 190.9M34.05 190.2L37.05 193.2M34.05 193.2L37.05 190.2M34.06 189.5L37.06 192.5M34.06 192.5L37.06 189.5M34.06 188.8L37.06 191.8M34.06 191.8L37.06 188.8M34.06 188.1L37.06 191.1M34.06 191.1L37.06 188.1M34.06 187.4L37.06 190.4M34.06 190.4L37.06 187.4M34.06 186.7L37.06 189.7M34.06 189.7L37.06 186.7M34.06 186L37.06 189M34.06 189L37.06 186M34.06 185.3L37.06 188.3M34.06 188.3L37.06 185.3M34.07 184.6L37.07 187.6M34.07 187.6L37.07 184.6M34.07 183.9L37.07 186.9M34.07 186.9L37.07 183.9M34.07 183.2L37.07 186.2M34.07 186.2L37.07 183.2M34.07 182.5L37.07 185.5M34.07 185.5L37.07 182.5M34.07 181.8L37.07 184.8M34.07 184.8L37.07 181.8M34.07 181.1L37.07 184.1M34.07 184.1L37.07 181.1M34.07 180.4L37.07 183.4M34.07 183.4L37.07 180.4M34.07 179.7L37.07 182.7M34.07 182.7L37.07 179.7M34.08 179L37.08 182M34.08 182L37.08 179M34.08 178.3L37.08 181.3M34.08 181.3L37.08 178.3M34.08 177.6L37.08 180.6M34.08 180.6L37.08 177.6M34.08 176.9L37.08 179.9M34.08 179.9L37.08 176.9M34.08 176.2L37.08 179.2M34.08 179.2L37.08 176.2M34.08 175.5L37.08 178.5M34.08 178.5L37.08 175.5M34.08 174.8L37.08 177.8M34.08 177.8L37.08 174.8M34.09 174.1L37.09 177.1M34.09 177.1L37.09 174.1M34.09 173.4L37.09 176.4M34.09 176.4L37.09 173.4M34.09 172.7L37.09 175.7M34.09 175.7L37.09 172.7M34.09 172L37.09 175M34.09 175L37.09 172M34.09 171.3L37.09 174.3M34.09 174.3L37.09 171.3M34.09 170.6L37.09 173.6M34.09 173.6L37.09 170.6M34.09 169.9L37.09 172.9M34.09 172.9L37.09 169.9M34.1 169.2L37.1 172.2M34.1 172.2L37.1 169.2M34.1 168.5L37.1 171.5M34.1 171.5L37.1 168.5M34.1 167.8L37.1 170.8M34.1 170.8L37.1 167.8M34.1 167.1L37.1 170.1M34.1 170.1L37.1 167.1M34.1 166.4L37.1 169.4M34.1 169.4L37.1 166.4M34.1 165.7L37.1 168.7M34.1 168.7L37.1 165.7M34.1 165L37.1 168M34.1 168L37.1 165M34.11 164.3L37.11 167.3M34.11 167.3L37.11 164.3M34.11 163.6L37.11 166.6M34.11 166.6L37.11 163.6M34.11 162.9L37.11 165.9M34.11 165.9L37.11 162.9M34.11 162.2L37.11 165.2M34.11 165.2L37.11 162.2M34.11 161.5L37.11 164.5M34.11 164.5L37.11 161.5M34.11 160.8L37.11 163.8M34.11 163.8L37.11 160.8M34.11 160.1L37.11 163.1M34.11 163.1L37.11 160.1M34.12 159.4L37.12 162.4M34.12 162.4L37.12 159.4M34.12 158.7L37.12 161.7M34.12 161.7L37.12 158.7M34.12 158L37.12 161M34.12 161L37.12 158M34.12 157.3L37.12 160.3M34.12 160.3L37.12 157.3M34.12 156.6L37.12 159.6M34.12 159.6L37.12 156.6M34.12 155.9L37.12 158.9M34.12 158.9L37.12 155.9M34.13 155.2L37.13 158.2M34.13 158.2L37.13 155.2M34.13 154.5L37.13 157.5M34.13 157.5L37.13 154.5M34.13 153.8L37.13 156.8M34.13 156.8L37.13 153.8M34.13 153.1L37.13 156.1M34.13 156.1L37.13 153.1M34.13 152.4L37.13 155.4M34.13 155.4L37.13 152.4M34.13 151.7L37.13 154.7M34.13 154.7L37.13 151.7M34.14 151L37.14 154M34.14 154L37.14 151M34.14 150.3L37.14 153.3M34.14 153.3L37.14 150.3M34.14 149.6L37.14 152.6M34.14 152.6L37.14 149.6M34.14 148.9L37.14 151.9M34.14 151.9L37.14 148.9M34.14 148.2L37.14 151.2M34.14 151.2L37.14 148.2M34.14 147.5L37.14 150.5M34.14 150.5L37.14 147.5M34.15 146.8L37.15 149.8M34.15 149.8L37.15 146.8M34.15 146.1L37.15 149.1M34.15 149.1L37.15 146.1M34.15 145.4L37.15 148.4M34.15 148.4L37.15 145.4M34.15 144.7L37.15 147.7M34.15 147.7L37.15 144.7M34.15 144L37.15 147M34.15 147L37.15 144M34.16 143.3L37.16 146.3M34.16 146.3L37.16 143.3M34.16 142.6L37.16 145.6M34.16 145.6L37.16 142.6M34.16 141.9L37.16 144.9M34.16 144.9L37.16 141.9M34.16 141.2L37.16 144.2M34.16 144.2L37.16 141.2M34.16 140.5L37.16 143.5M34.16 143.5L37.16 140.5M34.17 139.8L37.17 142.8M34.17 142.8L37.17 139.8M34.17 139.1L37.17 142.1M34.17 142.1L37.17 139.1M34.17 138.4L37.17 141.4M34.17 141.4L37.17 138.4M34.17 137.7L37.17 140.7M34.17 140.7L37.17 137.7M34.17 137L37.17 140M34.17 140L37.17 137M34.18 136.3L37.18 139.3M34.18 139.3L37.18 136.3M34.18 135.6L37.18 138.6M34.18 138.6L37.18 135.6M34.18 134.9L37.18 137.9M34.18 137.9L37.18 134.9M34.18 134.2L37.18 137.2M34.18 137.2L37.18 134.2M34.18 133.5L37.18 136.5M34.18 136.5L37.18 133.5M34.19 132.8L37.19 135.8M34.19 135.8L37.19 132.8M34.19 132.1L37.19 135.1M34.19 135.1L37.19 132.1M34.19 131.4L37.19 134.4M34.19 134.4L37.19 131.4M34.19 130.7L37.19 133.7M34.19 133.7L37.19 130.7M34.2 130L37.2 133M34.2 133L37.2 130M34.2 129.3L37.2 132.3M34.2 132.3L37.2 129.3M34.2 128.6L37.2 131.6M34.2 131.6L37.2 128.6M34.2 127.9L37.2 130.9M34.2 130.9L37.2 127.9M34.21 127.2L37.21 130.2M34.21 130.2L37.21 127.2M34.21 126.5L37.21 129.5M34.21 129.5L37.21 126.5M34.21 125.8L37.21 128.8M34.21 128.8L37.21 125.8M34.21 125.1L37.21 128.1M34.21 128.1L37.21 125.1M34.22 124.4L37.22 127.4M34.22 127.4L37.22 124.4M34.22 123.7L37.22 126.7M34.22 126.7L37.22 123.7M34.22 123L37.22 126M34.22 126L37.22 123M34.23 122.3L37.23 125.3M34.23 125.3L37.23 122.3M34.23 121.6L37.23 124.6M34.23 124.6L37.23 121.6M34.23 120.9L37.23 123.9M34.23 123.9L37.23 120.9M34.23 120.2L37.23 123.2M34.23 123.2L37.23 120.2M34.24 119.5L37.24 122.5M34.24 122.5L37.24 119.5M34.24 118.8L37.24 121.8M34.24 121.8L37.24 118.8M34.24 118.1L37.24 121.1M34.24 121.1L37.24 118.1M34.25 117.4L37.25 120.4M34.25 120.4L37.25 117.4M34.25 116.7L37.25 119.7M34.25 119.7L37.25 116.7M34.25 116L37.25 119M34.25 119L37.25 116M34.26 115.3L37.26 118.3M34.26 118.3L37.26 115.3M34.26 114.6L37.26 117.6M34.26 117.6L37.26 114.6M34.27 113.9L37.27 116.9M34.27 116.9L37.27 113.9M34.27 113.2L37.27 116.2M34.27 116.2L37.27 113.2M34.28 112.5L37.28 115.5M34.28 115.5L37.28 112.5M34.28 111.8L37.28 114.8M34.28 114.8L37.28 111.8M34.28 111.1L37.28 114.1M34.28 114.1L37.28 111.1M34.29 110.4L37.29 113.4M34.29 113.4L37.29 110.4M34.29 109.7L37.29 112.7M34.29 112.7L37.29 109.7M34.3 109L37.3 112M34.3 112L37.3 109M34.3 108.3L37.3 111.3M34.3 111.3L37.3 108.3M34.31 107.6L37.31 110.6M34.31 110.6L37.31 107.6M34.32 106.9L37.32 109.9M34.32 109.9L37.32 106.9M34.33 106.2L37.33 109.2M34.33 109.2L37.33 106.2M34.33 105.5L37.33 108.5M34.33 108.5L37.33 105.5M34.34 104.8L37.34 107.8M34.34 107.8L37.34 104.8M34.35 104.1L37.35 107.1M34.35 107.1L37.35 104.1M34.36 103.4L37.36 106.4M34.36 106.4L37.36 103.4M34.36 102.7L37.36 105.7M34.36 105.7L37.36 102.7M34.37 102L37.37 105M34.37 105L37.37 102M34.39 101.3L37.39 104.3M34.39 104.3L37.39 101.3M34.4 100.6L37.4 103.6M34.4 103.6L37.4 100.6M34.42 99.9L37.42 102.9M34.42 102.9L37.42 99.9M34.43 99.2L37.43 102.2M34.43 102.2L37.43 99.2M34.45 98.5L37.45 101.5M34.45 101.5L37.45 98.5M34.48 97.8L37.48 100.8M34.48 100.8L37.48 97.8M34.51 97.1L37.51 100.1M34.51 100.1L37.51 97.1M34.57 96.41L37.57 99.41M34.57 99.41L37.57 96.41M34.74 96.52L37.74 99.52M34.74 99.52L37.74 96.52M34.92 97L37.92 100M34.92 100L37.92 97M35.02 96.3L38.02 99.3M35.02 99.3L38.02 96.3M35.08 95.59L38.08 98.59M35.08 98.59L38.08 95.59M35.14 94.89L38.14 97.89M35.14 97.89L38.14 94.89M35.21 94.18L38.21 97.18M35.21 97.18L38.21 94.18M35.28 93.47L38.28 96.47M35.28 96.47L38.28 93.47M35.36 92.76L38.36 95.76M35.36 95.76L38.36 92.76M35.44 92.05L38.44 95.05M35.44 95.05L38.44 92.05M35.53 91.34L38.53 94.34M35.53 94.34L38.53 91.34M35.63 90.63L38.63 93.63M35.63 93.63L38.63 90.63M35.74 89.92L38.74 92.92M35.74 92.92L38.74 89.92M35.85 89.21L38.85 92.21M35.85 92.21L38.85 89.21M35.97 88.5L38.97 91.5M35.97 91.5L38.97 88.5M36.12 87.79L39.12 90.79M36.12 90.79L39.12 87.79M36.28 87.08L39.28 90.08M36.28 90.08L39.28 87.08M36.46 86.37L39.46 89.37M36.46 89.37L39.46 86.37M36.65 85.67L39.65 88.67M36.65 88.67L39.65 85.67M36.85 84.96L39.85 87.96M36.85 87.96L39.85 84.96M37.06 84.25L40.06 87.25M37.06 87.25L40.06 84.25M37.3 83.54L40.3 86.54M37.3 86.54L40.3 83.54M37.56 82.84L40.56 85.84M37.56 85.84L40.56 82.84M37.85 82.15L40.85 85.15M37.85 85.15L40.85 82.15M38.17 81.47L41.17 84.47M38.17 84.47L41.17 81.47M38.53 80.8L41.53 83.8M38.53 83.8L41.53 80.8M38.92 80.13L41.92 83.13M38.92 83.13L41.92 80.13M39.32 79.47L42.32 82.47M39.32 82.47L42.32 79.47M39.74 78.82L42.74 81.82M39.74 81.82L42.74 78.82M40.25 78.22L43.25 81.22M40.25 81.22L43.25 78.22M40.87 77.71L43.87 80.71M40.87 80.71L43.87 77.71M41.59 77.22L44.59 80.22M41.59 80.22L44.59 77.22M42.49 76.74L45.49 79.74M42.49 79.74L45.49 76.74M43.58 76.27L46.58 79.27M43.58 79.27L46.58 76.27M44.91 75.77L47.91 78.77M44.91 78.77L47.91 75.77M46.5 75.23L49.5 78.23M46.5 78.23L49.5 75.23M48.41 74.62L51.41 77.62M48.41 77.62L51.41 74.62M50.33 74.05L53.33 77.05M50.33 77.05L53.33 74.05M52.28 73.63L55.28 76.63M52.28 76.63L55.28 73.63M54.24 73.25L57.24 76.25M54.24 76.25L57.24 73.25M56.21 72.86L59.21 75.86M56.21 75.86L59.21 72.86M58.17 72.48L61.17 75.48M58.17 75.48L61.17 72.48M60.14 72.12L63.14 75.12M60.14 75.12L63.14 72.12M62.11 71.78L65.11 74.78M62.11 74.78L65.11 71.78M64.08 71.48L67.08 74.48M64.08 74.48L67.08 71.48M66.07 71.21L69.07 74.21M66.07 74.21L69.07 71.21M68.05 70.96L71.05 73.96M68.05 73.96L71.05 70.96M70.03 70.71L73.03 73.71M70.03 73.71L73.03 70.71M72.02 70.46L75.02 73.46M72.02 73.46L75.02 70.46M74 70.22L77 73.22M74 73.22L77 70.22M75.99 69.98L78.99 72.98M75.99 72.98L78.99 69.98M77.98 69.76L80.98 72.76M77.98 72.76L80.98 69.76M79.97 69.54L82.97 72.54M79.97 72.54L82.97 69.54M81.95 69.32L84.95 72.32M81.95 72.32L84.95 69.32M83.94 69.12L86.94 72.12M83.94 72.12L86.94 69.12M85.93 68.92L88.93 71.92M85.93 71.92L88.93 68.92M87.93 68.75L90.93 71.75M87.93 71.75L90.93 68.75M89.92 68.59L92.92 71.59M89.92 71.59L92.92 68.59M91.92 68.45L94.92 71.45M91.92 71.45L94.92 68.45M93.91 68.33L96.91 71.33M93.91 71.33L96.91 68.33M95.91 68.22L98.91 71.22M95.91 71.22L98.91 68.22M97.91 68.13L100.91 71.13M97.91 71.13L100.91 68.13M99.9 68.04L102.9 71.04M99.9 71.04L102.9 68.04M101.89 67.96L104.89 70.96M101.89 70.96L104.89 67.96M103.87 67.9L106.87 70.9M103.87 70.9L106.87 67.9M105.83 67.84L108.83 70.84M105.83 70.84L108.83 67.84M107.78 67.81L110.78 70.81M107.78 70.81L110.78 67.81M109.71 67.79L112.71 70.79M109.71 70.79L112.71 67.79M111.63 67.79L114.63 70.79M111.63 70.79L114.63 67.79M113.54 67.79L116.54 70.79M113.54 70.79L116.54 67.79M115.43 67.82L118.43 70.82M115.43 70.82L118.43 67.82M117.31 67.86L120.31 70.86M117.31 70.86L120.31 67.86M119.17 67.93L122.17 70.93M119.17 70.93L122.17 67.93M121.02 68.01L124.02 71.01M121.02 71.01L124.02 68.01M122.86 68.11L125.86 71.11M122.86 71.11L125.86 68.11M124.68 68.22L127.68 71.22M124.68 71.22L127.68 68.22M126.49 68.35L129.49 71.35M126.49 71.35L129.49 68.35M128.28 68.48L131.28 71.48M128.28 71.48L131.28 68.48M130.07 68.63L133.07 71.63M130.07 71.63L133.07 68.63M131.83 68.77L134.83 71.77M131.83 71.77L134.83 68.77M133.59 68.93L136.59 71.93M133.59 71.93L136.59 68.93M135.33 69.11L138.33 72.11M135.33 72.11L138.33 69.11M137.05 69.31L140.05 72.31M137.05 72.31L140.05 69.31M138.76 69.54L141.76 72.54M138.76 72.54L141.76 69.54M140.46 69.8L143.46 72.8M140.46 72.8L143.46 69.8M142.13 70.08L145.13 73.08M142.13 73.08L145.13 70.08M143.79 70.38L146.79 73.38M143.79 73.38L146.79 70.38M145.44 70.69L148.44 73.69M145.44 73.69L148.44 70.69M147.07 71.02L150.07 74.02M147.07 74.02L150.07 71.02M148.7 71.34L151.7 74.34M148.7 74.34L151.7 71.34M150.3 71.67L153.3 74.67M150.3 74.67L153.3 71.67M151.9 72.01L154.9 75.01M151.9 75.01L154.9 72.01M153.48 72.36L156.48 75.36M153.48 75.36L156.48 72.36M155.05 72.72L158.05 75.72M155.05 75.72L158.05 72.72M156.6 73.07L159.6 76.07M156.6 76.07L159.6 73.07M158.15 73.42L161.15 76.42M158.15 76.42L161.15 73.42M159.68 73.77L162.68 76.77M159.68 76.77L162.68 73.77M161.2 74.12L164.2 77.12M161.2 77.12L164.2 74.12M162.72 74.48L165.72 77.48M162.72 77.48L165.72 74.48M164.22 74.83L167.22 77.83M164.22 77.83L167.22 74.83M165.71 75.18L168.71 78.18M165.71 78.18L168.71 75.18M167.19 75.51L170.19 78.51M167.19 78.51L170.19 75.51M168.66 75.83L171.66 78.83M168.66 78.83L171.66 75.83M170.13 76.14L173.13 79.14M170.13 79.14L173.13 76.14M171.57 76.43L174.57 79.43M171.57 79.43L174.57 76.43M172.98 76.71L175.98 79.71M172.98 79.71L175.98 76.71M174.36 76.97L177.36 79.97M174.36 79.97L177.36 76.97M175.72 77.24L178.72 80.24M175.72 80.24L178.72 77.24M177.05 77.5L180.05 80.5M177.05 80.5L180.05 77.5M178.35 77.77L181.35 80.77M178.35 80.77L181.35 77.77M179.63 78.04L182.63 81.04M179.63 81.04L182.63 78.04M180.88 78.3L183.88 81.3M180.88 81.3L183.88 78.3M182.1 78.57L185.1 81.57M182.1 81.57L185.1 78.57M183.3 78.83L186.3 81.83M183.3 81.83L186.3 78.83M184.48 79.08L187.48 82.08M184.48 82.08L187.48 79.08M185.63 79.34L188.63 82.34M185.63 82.34L188.63 79.34M186.76 79.6L189.76 82.6M186.76 82.6L189.76 79.6M187.86 79.85L190.86 82.85M187.86 82.85L190.86 79.85M188.95 80.11L191.95 83.11M188.95 83.11L191.95 80.11M190.01 80.36L193.01 83.36M190.01 83.36L193.01 80.36M191.05 80.61L194.05 83.61M191.05 83.61L194.05 80.61M192.07 80.87L195.07 83.87M192.07 83.87L195.07 80.87M193.06 81.12L196.06 84.12M193.06 84.12L196.06 81.12M194.04 81.36L197.04 84.36M194.04 84.36L197.04 81.36M195 81.61L198 84.61M195 84.61L198 81.61M195.94 81.85L198.94 84.85M195.94 84.85L198.94 81.85M196.86 82.08L199.86 85.08M196.86 85.08L199.86 82.08M197.77 82.31L200.77 85.31M197.77 85.31L200.77 82.31M198.65 82.54L201.65 85.54M198.65 85.54L201.65 82.54M199.52 82.76L202.52 85.76M199.52 85.76L202.52 82.76M200.4 82.99L203.4 85.99M200.4 85.99L203.4 82.99M201.27 83.21L204.27 86.21M201.27 86.21L204.27 83.21M202.14 83.44L205.14 86.44M202.14 86.44L205.14 83.44M203.01 83.67L206.01 86.67M203.01 86.67L206.01 83.67M203.88 83.89L206.88 86.89M203.88 86.89L206.88 83.89M204.75 84.12L207.75 87.12M204.75 87.12L207.75 84.12M205.62 84.35L208.62 87.35M205.62 87.35L208.62 84.35M206.49 84.58L209.49 87.58M206.49 87.58L209.49 84.58M207.36 84.8L210.36 87.8M207.36 87.8L210.36 84.8M208.23 85.03L211.23 88.03M208.23 88.03L211.23 85.03M209.11 85.26L212.11 88.26M209.11 88.26L212.11 85.26M209.98 85.48L212.98 88.48M209.98 88.48L212.98 85.48M210.85 85.71L213.85 88.71M210.85 88.71L213.85 85.71M211.72 85.93L214.72 88.93M211.72 88.93L214.72 85.93M212.59 86.15L215.59 89.15M212.59 89.15L215.59 86.15M213.46 86.38L216.46 89.38M213.46 89.38L216.46 86.38M214.33 86.6L217.33 89.6M214.33 89.6L217.33 86.6M215.21 86.83L218.21 89.83M215.21 89.83L218.21 86.83M216.08 87.06L219.08 90.06M216.08 90.06L219.08 87.06M216.95 87.29L219.95 90.29M216.95 90.29L219.95 87.29M217.82 87.52L220.82 90.52M217.82 90.52L220.82 87.52M218.69 87.75L221.69 90.75M218.69 90.75L221.69 87.75M219.55 87.99L222.55 90.99M219.55 90.99L222.55 87.99M220.42 88.23L223.42 91.23M220.42 91.23L223.42 88.23M221.29 88.47L224.29 91.47M221.29 91.47L224.29 88.47M222.16 88.71L225.16 91.71M222.16 91.71L225.16 88.71M223.02 88.95L226.02 91.95M223.02 91.95L226.02 88.95M223.89 89.2L226.89 92.2M223.89 92.2L226.89 89.2M224.75 89.44L227.75 92.44M224.75 92.44L227.75 89.44M225.62 89.69L228.62 92.69M225.62 92.69L228.62 89.69M226.49 89.93L229.49 92.93M226.49 92.93L229.49 89.93M227.35 90.18L230.35 93.18M227.35 93.18L230.35 90.18M228.22 90.42L231.22 93.42M228.22 93.42L231.22 90.42M229.09 90.66L232.09 93.66M229.09 93.66L232.09 90.66M229.95 90.9L232.95 93.9M229.95 93.9L232.95 90.9M230.82 91.15L233.82 94.15M230.82 94.15L233.82 91.15M231.69 91.39L234.69 94.39M231.69 94.39L234.69 91.39M232.55 91.63L235.55 94.63M232.55 94.63L235.55 91.63M233.42 91.87L236.42 94.87M233.42 94.87L236.42 91.87M234.29 92.11L237.29 95.11M234.29 95.11L237.29 92.11M235.16 92.35L238.16 95.35M235.16 95.35L238.16 92.35M236.02 92.59L239.02 95.59M236.02 95.59L239.02 92.59M236.89 92.84L239.89 95.84M236.89 95.84L239.89 92.84M237.75 93.09L240.75 96.09M237.75 96.09L240.75 93.09M238.62 93.33L241.62 96.33M238.62 96.33L241.62 93.33M239.48 93.59L242.48 96.59M239.48 96.59L242.48 93.59M240.35 93.84L243.35 96.84M240.35 96.84L243.35 93.84M241.21 94.09L244.21 97.09M241.21 97.09L244.21 94.09M242.07 94.35L245.07 97.35M242.07 97.35L245.07 94.35M242.93 94.61L245.93 97.61M242.93 97.61L245.93 94.61M243.8 94.86L246.8 97.86M243.8 97.86L246.8 94.86M244.66 95.12L247.66 98.12M244.66 98.12L247.66 95.12M245.52 95.39L248.52 98.39M245.52 98.39L248.52 95.39M246.38 95.65L249.38 98.65M246.38 98.65L249.38 95.65M247.24 95.91L250.24 98.91M247.24 98.91L250.24 95.91M248.1 96.18L251.1 99.18M248.1 99.18L251.1 96.18M248.96 96.44L251.96 99.44M248.96 99.44L251.96 96.44M249.82 96.71L252.82 99.71M249.82 99.71L252.82 96.71M250.68 96.97L253.68 99.97M250.68 99.97L253.68 96.97M251.54 97.24L254.54 100.24M251.54 100.24L254.54 97.24M252.4 97.51L255.4 100.51M252.4 100.51L255.4 97.51M253.26 97.77L256.26 100.77M253.26 100.77L256.26 97.77M254.12 98.05L257.12 101.05M254.12 101.05L257.12 98.05M254.97 98.32L257.97 101.32M254.97 101.32L257.97 98.32M255.83 98.6L258.83 101.6M255.83 101.6L258.83 98.6M256.69 98.88L259.69 101.88M256.69 101.88L259.69 98.88M257.54 99.17L260.54 102.17M257.54 102.17L260.54 99.17M258.39 99.46L261.39 102.46M258.39 102.46L261.39 99.46M259.24 99.76L262.24 102.76M259.24 102.76L262.24 99.76M260.08 100.07L263.08 103.07M260.08 103.07L263.08 100.07M260.93 100.38L263.93 103.38M260.93 103.38L263.93 100.38M261.77 100.69L264.77 103.69M261.77 103.69L264.77 100.69M262.61 101.01L265.61 104.01M262.61 104.01L265.61 101.01M263.45 101.33L266.45 104.33M263.45 104.33L266.45 101.33M264.29 101.66L267.29 104.66M264.29 104.66L267.29 101.66M265.13 101.98L268.13 104.98M265.13 104.98L268.13 101.98M265.97 102.31L268.97 105.31M265.97 105.31L268.97 102.31M266.81 102.64L269.81 105.64M266.81 105.64L269.81 102.64M267.65 102.97L270.65 105.97M267.65 105.97L270.65 102.97M268.49 103.29L271.49 106.29M268.49 106.29L271.49 103.29M269.32 103.62L272.32 106.62M269.32 106.62L272.32 103.62M270.16 103.95L273.16 106.95M270.16 106.95L273.16 103.95M271 104.28L274 107.28M271 107.28L274 104.28M271.83 104.62L274.83 107.62M271.83 107.62L274.83 104.62M272.67 104.95L275.67 107.95M272.67 107.95L275.67 104.95M273.5 105.29L276.5 108.29M273.5 108.29L276.5 105.29M274.34 105.63L277.34 108.63M274.34 108.63L277.34 105.63M275.17 105.96L278.17 108.96M275.17 108.96L278.17 105.96M276.01 106.3L279.01 109.3M276.01 109.3L279.01 106.3M276.84 106.63L279.84 109.63M276.84 109.63L279.84 106.63M277.68 106.97L280.68 109.97M277.68 109.97L280.68 106.97M278.51 107.31L281.51 110.31M278.51 110.31L281.51 107.31M279.35 107.64L282.35 110.64M279.35 110.64L282.35 107.64M280.18 107.97L283.18 110.97M280.18 110.97L283.18 107.97M281.02 108.31L284.02 111.31M281.02 111.31L284.02 108.31M281.86 108.64L284.86 111.64M281.86 111.64L284.86 108.64M282.69 108.98L285.69 111.98M282.69 111.98L285.69 108.98M283.53 109.31L286.53 112.31M283.53 112.31L286.53 109.31M284.36 109.64L287.36 112.64M284.36 112.64L287.36 109.64M285.2 109.98L288.2 112.98M285.2 112.98L288.2 109.98M286.03 110.31L289.03 113.31M286.03 113.31L289.03 110.31M286.87 110.65L289.87 113.65M286.87 113.65L289.87 110.65M287.7 110.98L290.7 113.98M287.7 113.98L290.7 110.98M288.54 111.32L291.54 114.32M288.54 114.32L291.54 111.32M289.38 111.65L292.38 114.65M289.38 114.65L292.38 111.65M290.21 111.98L293.21 114.98M290.21 114.98L293.21 111.98M291.05 112.32L294.05 115.32M291.05 115.32L294.05 112.32M291.88 112.65L294.88 115.65M291.88 115.65L294.88 112.65M292.72 112.98L295.72 115.98M292.72 115.98L295.72 112.98M293.56 113.32L296.56 116.32M293.56 116.32L296.56 113.32M294.4 113.65L297.4 116.65M294.4 116.65L297.4 113.65M295.32 114.02L298.32 117.02M295.32 117.02L298.32 114.02M296.32 114.42L299.32 117.42M296.32 117.42L299.32 114.42M297.42 114.86L300.42 117.86M297.42 117.86L300.42 114.86M298.62 115.35L301.62 118.35M298.62 118.35L301.62 115.35M299.92 115.88L302.92 118.88M299.92 118.88L302.92 115.88M301.35 116.47L304.35 119.47M301.35 119.47L304.35 116.47M302.9 117.11L305.9 120.11M302.9 120.11L305.9 117.11M304.6 117.82L307.6 120.82M304.6 120.82L307.6 117.82M306.35 118.56L309.35 121.56M306.35 121.56L309.35 118.56M308.11 119.29L311.11 122.29M308.11 122.29L311.11 119.29M309.86 120.02L312.86 123.02M309.86 123.02L312.86 120.02M311.61 120.76L314.61 123.76M311.61 123.76L314.61 120.76M313.35 121.53L316.35 124.53M313.35 124.53L316.35 121.53M315.07 122.33L318.07 125.33M315.07 125.33L318.07 122.33M316.79 123.14L319.79 126.14M316.79 126.14L319.79 123.14M318.51 123.96L321.51 126.96M318.51 126.96L321.51 123.96M320.22 124.79L323.22 127.79M320.22 127.79L323.22 124.79M321.92 125.62L324.92 128.62M321.92 128.62L324.92 125.62M323.63 126.45L326.63 129.45M323.63 129.45L326.63 126.45M325.33 127.29L328.33 130.29M325.33 130.29L328.33 127.29M327.03 128.15L330.03 131.15M327.03 131.15L330.03 128.15M328.72 129.01L331.72 132.01M328.72 132.01L331.72 129.01M330.41 129.89L333.41 132.89M330.41 132.89L333.41 129.89M332.09 130.78L335.09 133.78M332.09 133.78L335.09 130.78M333.76 131.68L336.76 134.68M333.76 134.68L336.76 131.68M335.41 132.62L338.41 135.62M335.41 135.62L338.41 132.62M337.04 133.61L340.04 136.61M337.04 136.61L340.04 133.61M338.61 134.68L341.61 137.68M338.61 137.68L341.61 134.68M340.11 135.83L343.11 138.83M340.11 138.83L343.11 135.83M341.47 137.16L344.47 140.16M341.47 140.16L344.47 137.16M342.48 138.76L345.48 141.76M342.48 141.76L345.48 138.76M343.18 140.53L346.18 143.53M343.18 143.53L346.18 140.53M343.69 142.36L346.69 145.36M343.69 145.36L346.69 142.36M344.05 144.22L347.05 147.22M344.05 147.22L347.05 144.22M344.36 146.1L347.36 149.1M344.36 149.1L347.36 146.1M344.56 147.99L347.56 150.99M344.56 150.99L347.56 147.99M344.67 149.88L347.67 152.88M344.67 152.88L347.67 149.88M344.75 151.78L347.75 154.78M344.75 154.78L347.75 151.78M344.82 153.68L347.82 156.68M344.82 156.68L347.82 153.68M344.87 155.58L347.87 158.58M344.87 158.58L347.87 155.58M344.92 157.48L347.92 160.48M344.92 160.48L347.92 157.48M344.96 159.38L347.96 162.38M344.96 162.38L347.96 159.38M344.99 161.28L347.99 164.28M344.99 164.28L347.99 161.28M345.02 163.18L348.02 166.18M345.02 166.18L348.02 163.18M345.05 165.08L348.05 168.08M345.05 168.08L348.05 165.08M345.08 166.98L348.08 169.98M345.08 169.98L348.08 166.98M345.1 168.88L348.1 171.88M345.1 171.88L348.1 168.88M345.13 170.78L348.13 173.78M345.13 173.78L348.13 170.78M345.15 172.68L348.15 175.68M345.15 175.68L348.15 172.68M345.17 174.58L348.17 177.58M345.17 177.58L348.17 174.58M345.19 176.48L348.19 179.48M345.19 179.48L348.19 176.48M345.21 178.38L348.21 181.38M345.21 181.38L348.21 178.38M345.24 180.28L348.24 183.28M345.24 183.28L348.24 180.28M345.25 182.18L348.25 185.18M345.25 185.18L348.25 182.18M345.27 184.08L348.27 187.08M345.27 187.08L348.27 184.08M345.29 185.98L348.29 188.98M345.29 188.98L348.29 185.98M345.31 187.88L348.31 190.88M345.31 190.88L348.31 187.88M345.33 189.78L348.33 192.78M345.33 192.78L348.33 189.78M345.35 191.68L348.35 194.68M345.35 194.68L348.35 191.68M345.37 193.58L348.37 196.58M345.37 196.58L348.37 193.58M345.39 195.48L348.39 198.48M345.39 198.48L348.39 195.48M345.41 197.38L348.41 200.38M345.41 200.38L348.41 197.38M345.42 199.27L348.42 202.27M345.42 202.27L348.42 199.27M345.44 201.17L348.44 204.17M345.44 204.17L348.44 201.17M345.46 203.07L348.46 206.07M345.46 206.07L348.46 203.07M345.48 204.97L348.48 207.97M345.48 207.97L348.48 204.97M345.5 206.87L348.5 209.87M345.5 209.87L348.5 206.87M345.52 208.77L348.52 211.77M345.52 211.77L348.52 208.77M345.53 210.67L348.53 213.67M345.53 213.67L348.53 210.67M345.55 212.57L348.55 215.57M345.55 215.57L348.55 212.57M345.57 214.47L348.57 217.47M345.57 217.47L348.57 214.47M345.59 216.37L348.59 219.37M345.59 219.37L348.59 216.37M327.55 29.4L330.55 32.4M327.55 32.4L330.55 29.4" stroke="#000" stroke-width="0.45" fill="none"/>
<path d="M34.4 70H37.4M35.9 68.5V71.5M34.4 68.5L37.4 71.5M34.4 71.5L37.4 68.5M34.41 69.3H37.41M35.91 67.8V70.8M34.41 67.8L37.41 70.8M34.41 70.8L37.41 67.8M34.43 68.6H37.43M35.93 67.1V70.1M34.43 67.1L37.43 70.1M34.43 70.1L37.43 67.1M34.44 67.9H37.44M35.94 66.4V69.4M34.44 66.4L37.44 69.4M34.44 69.4L37.44 66.4M34.45 67.2H37.45M35.95 65.7V68.7M34.45 65.7L37.45 68.7M34.45 68.7L37.45 65.7M34.47 66.5H37.47M35.97 65V68M34.47 65L37.47 68M34.47 68L37.47 65M34.48 65.8H37.48M35.98 64.3V67.3M34.48 64.3L37.48 67.3M34.48 67.3L37.48 64.3M34.49 65.1H37.49M35.99 63.6V66.6M34.49 63.6L37.49 66.6M34.49 66.6L37.49 63.6M34.51 64.4H37.51M36.01 62.9V65.9M34.51 62.9L37.51 65.9M34.51 65.9L37.51 62.9M34.52 63.7H37.52M36.02 62.2V65.2M34.52 62.2L37.52 65.2M34.52 65.2L37.52 62.2M34.53 63H37.53M36.03 61.5V64.5M34.53 61.5L37.53 64.5M34.53 64.5L37.53 61.5M34.55 62.3H37.55M36.05 60.8V63.8M34.55 60.8L37.55 63.8M34.55 63.8L37.55 60.8M34.56 61.6H37.56M36.06 60.1V63.1M34.56 60.1L37.56 63.1M34.56 63.1L37.56 60.1M34.57 60.9H37.57M36.07 59.4V62.4M34.57 59.4L37.57 62.4M34.57 62.4L37.57 59.4M34.59 60.2H37.59M36.09 58.7V61.7M34.59 58.7L37.59 61.7M34.59 61.7L37.59 58.7M34.6 59.5H37.6M36.1 58V61M34.6 58L37.6 61M34.6 61L37.6 58M34.62 58.79H37.62M36.12 57.29V60.29M34.62 57.29L37.62 60.29M34.62 60.29L37.62 57.29M34.63 58.09H37.63M36.13 56.59V59.59M34.63 56.59L37.63 59.59M34.63 59.59L37.63 56.59M34.65 57.39H37.65M36.15 55.89V58.89M34.65 55.89L37.65 58.89M34.65 58.89L37.65 55.89M34.66 56.69H37.66M36.16 55.19V58.19M34.66 55.19L37.66 58.19M34.66 58.19L37.66 55.19M34.68 55.99H37.68M36.18 54.49V57.49M34.68 54.49L37.68 57.49M34.68 57.49L37.68 54.49M34.69 55.28H37.69M36.19 53.78V56.78M34.69 53.78L37.69 56.78M34.69 56.78L37.69 53.78M34.71 54.58H37.71M36.21 53.08V56.08M34.71 53.08L37.71 56.08M34.71 56.08L37.71 53.08M34.73 53.88H37.73M36.23 52.38V55.38M34.73 52.38L37.73 55.38M34.73 55.38L37.73 52.38M34.75 53.17H37.75M36.25 51.67V54.67M34.75 51.67L37.75 54.67M34.75 54.67L37.75 51.67M34.77 52.47H37.77M36.27 50.97V53.97M34.77 50.97L37.77 53.97M34.77 53.97L37.77 50.97M34.79 51.77H37.79M36.29 50.27V53.27M34.79 50.27L37.79 53.27M34.79 53.27L37.79 50.27M34.81 51.06H37.81M36.31 49.56V52.56M34.81 49.56L37.81 52.56M34.81 52.56L37.81 49.56M34.83 50.36H37.83M36.33 48.86V51.86M34.83 48.86L37.83 51.86M34.83 51.86L37.83 48.86M34.86 49.65H37.86M36.36 48.15V51.15M34.86 48.15L37.86 51.15M34.86 51.15L37.86 48.15M34.88 48.95H37.88M36.38 47.45V50.45M34.88 47.45L37.88 50.45M34.88 50.45L37.88 47.45M34.91 48.24H37.91M36.41 46.74V49.74M34.91 46.74L37.91 49.74M34.91 49.74L37.91 46.74M34.94 47.53H37.94M36.44 46.03V49.03M34.94 46.03L37.94 49.03M34.94 49.03L37.94 46.03M34.96 46.83H37.96M36.46 45.33V48.33M34.96 45.33L37.96 48.33M34.96 48.33L37.96 45.33M34.99 46.12H37.99M36.49 44.62V47.62M34.99 44.62L37.99 47.62M34.99 47.62L37.99 44.62M35.03 45.41H38.03M36.53 43.91V46.91M35.03 43.91L38.03 46.91M35.03 46.91L38.03 43.91M35.06 44.7H38.06M36.56 43.2V46.2M35.06 43.2L38.06 46.2M35.06 46.2L38.06 43.2M35.1 44H38.1M36.6 42.5V45.5M35.1 42.5L38.1 45.5M35.1 45.5L38.1 42.5M35.13 43.29H38.13M36.63 41.79V44.79M35.13 41.79L38.13 44.79M35.13 44.79L38.13 41.79M35.17 42.58H38.17M36.67 41.08V44.08M35.17 41.08L38.17 44.08M35.17 44.08L38.17 41.08M35.21 41.87H38.21M36.71 40.37V43.37M35.21 40.37L38.21 43.37M35.21 43.37L38.21 40.37M35.26 41.16H38.26M36.76 39.66V42.66M35.26 39.66L38.26 42.66M35.26 42.66L38.26 39.66M35.3 40.45H38.3M36.8 38.95V41.95M35.3 38.95L38.3 41.95M35.3 41.95L38.3 38.95M35.35 39.73H38.35M36.85 38.23V41.23M35.35 38.23L38.35 41.23M35.35 41.23L38.35 38.23M35.4 39.02H38.4M36.9 37.52V40.52M35.4 37.52L38.4 40.52M35.4 40.52L38.4 37.52M35.45 38.31H38.45M36.95 36.81V39.81M35.45 36.81L38.45 39.81M35.45 39.81L38.45 36.81M35.5 37.59H38.5M37 36.09V39.09M35.5 36.09L38.5 39.09M35.5 39.09L38.5 36.09M35.56 36.88H38.56M37.06 35.38V38.38M35.56 35.38L38.56 38.38M35.56 38.38L38.56 35.38M35.61 36.16H38.61M37.11 34.66V37.66M35.61 34.66L38.61 37.66M35.61 37.66L38.61 34.66M35.67 35.45H38.67M37.17 33.95V36.95M35.67 33.95L38.67 36.95M35.67 36.95L38.67 33.95M35.74 34.73H38.74M37.24 33.23V36.23M35.74 33.23L38.74 36.23M35.74 36.23L38.74 33.23M35.8 34.01H38.8M37.3 32.51V35.51M35.8 32.51L38.8 35.51M35.8 35.51L38.8 32.51M35.87 33.3H38.87M37.37 31.8V34.8M35.87 31.8L38.87 34.8M35.87 34.8L38.87 31.8M35.94 32.58H38.94M37.44 31.08V34.08M35.94 31.08L38.94 34.08M35.94 34.08L38.94 31.08M36.02 31.86H39.02M37.52 30.36V33.36M36.02 30.36L39.02 33.36M36.02 33.36L39.02 30.36M36.1 31.14H39.1M37.6 29.64V32.64M36.1 29.64L39.1 32.64M36.1 32.64L39.1 29.64M36.18 30.41H39.18M37.68 28.91V31.91M36.18 28.91L39.18 31.91M36.18 31.91L39.18 28.91M36.27 29.69H39.27M37.77 28.19V31.19M36.27 28.19L39.27 31.19M36.27 31.19L39.27 28.19M36.37 28.97H39.37M37.87 27.47V30.47M36.37 27.47L39.37 30.47M36.37 30.47L39.37 27.47M36.47 28.24H39.47M37.97 26.74V29.74M36.47 26.74L39.47 29.74M36.47 29.74L39.47 26.74M36.57 27.52H39.57M38.07 26.02V29.02M36.57 26.02L39.57 29.02M36.57 29.02L39.57 26.02M36.69 26.79H39.69M38.19 25.29V28.29M36.69 25.29L39.69 28.29M36.69 28.29L39.69 25.29M36.83 26.07H39.83M38.33 24.57V27.57M36.83 24.57L39.83 27.57M36.83 27.57L39.83 24.57M36.98 25.35H39.98M38.48 23.85V26.85M36.98 23.85L39.98 26.85M36.98 26.85L39.98 23.85M37.14 24.62H40.14M38.64 23.12V26.12M37.14 23.12L40.14 26.12M37.14 26.12L40.14 23.12M37.3 23.9H40.3M38.8 22.4V25.4M37.3 22.4L40.3 25.4M37.3 25.4L40.3 22.4M37.47 23.17H40.47M38.97 21.67V24.67M37.47 21.67L40.47 24.67M37.47 24.67L40.47 21.67M37.65 22.44H40.65M39.15 20.94V23.94M37.65 20.94L40.65 23.94M37.65 23.94L40.65 20.94M37.85 21.72H40.85M39.35 20.22V23.22M37.85 20.22L40.85 23.22M37.85 23.22L40.85 20.22M38.09 21H41.09M39.59 19.5V22.5M38.09 19.5L41.09 22.5M38.09 22.5L41.09 19.5M38.36 20.29H41.36M39.86 18.79V21.79M38.36 18.79L41.36 21.79M38.36 21.79L41.36 18.79M38.73 19.62H41.73M40.23 18.12V21.12M38.73 18.12L41.73 21.12M38.73 21.12L41.73 18.12M39.2 19.01H42.2M40.7 17.51V20.51M39.2 17.51L42.2 20.51M39.2 20.51L42.2 17.51M39.73 18.45H42.73M41.23 16.95V19.95M39.73 16.95L42.73 19.95M39.73 19.95L42.73 16.95M40.3 17.91H43.3M41.8 16.41V19.41M40.3 16.41L43.3 19.41M40.3 19.41L43.3 16.41M40.92 17.41H43.92M42.42 15.91V18.91M40.92 15.91L43.92 18.91M40.92 18.91L43.92 15.91M41.63 16.98H44.63M43.13 15.48V18.48M41.63 15.48L44.63 18.48M41.63 18.48L44.63 15.48M42.47 16.73H45.47M43.97 15.23V18.23M42.47 15.23L45.47 18.23M42.47 18.23L45.47 15.23M43.39 16.57H46.39M44.89 15.07V18.07M43.39 15.07L46.39 18.07M43.39 18.07L46.39 15.07M44.35 16.36H47.35M45.85 14.86V17.86M44.35 14.86L47.35 17.86M44.35 17.86L47.35 14.86M45.4 16.2H48.4M46.9 14.7V17.7M45.4 14.7L48.4 17.7M45.4 17.7L48.4 14.7M46.52 16.1H49.52M48.02 14.6V17.6M46.52 14.6L49.52 17.6M46.52 17.6L49.52 14.6M47.72 16.02H50.72M49.22 14.52V17.52M47.72 14.52L50.72 17.52M47.72 17.52L50.72 14.52M48.92 15.95H51.92M50.42 14.45V17.45M48.92 14.45L51.92 17.45M48.92 17.45L51.92 14.45M50.12 15.89H53.12M51.62 14.39V17.39M50.12 14.39L53.12 17.39M50.12 17.39L53.12 14.39M51.31 15.86H54.31M52.81 14.36V17.36M51.31 14.36L54.31 17.36M51.31 17.36L54.31 14.36M52.51 15.85H55.51M54.01 14.35V17.35M52.51 14.35L55.51 17.35M52.51 17.35L55.51 14.35M53.71 15.87H56.71M55.21 14.37V17.37M53.71 14.37L56.71 17.37M53.71 17.37L56.71 14.37M54.91 15.91H57.91M56.41 14.41V17.41M54.91 14.41L57.91 17.41M54.91 17.41L57.91 14.41M56.11 15.97H59.11M57.61 14.47V17.47M56.11 14.47L59.11 17.47M56.11 17.47L59.11 14.47M57.31 16.04H60.31M58.81 14.54V17.54M57.31 14.54L60.31 17.54M57.31 17.54L60.31 14.54M58.51 16.11H61.51M60.01 14.61V17.61M58.51 14.61L61.51 17.61M58.51 17.61L61.51 14.61M59.71 16.18H62.71M61.21 14.68V17.68M59.71 14.68L62.71 17.68M59.71 17.68L62.71 14.68M60.9 16.25H63.9M62.4 14.75V17.75M60.9 14.75L63.9 17.75M60.9 17.75L63.9 14.75M62.1 16.33H65.1M63.6 14.83V17.83M62.1 14.83L65.1 17.83M62.1 17.83L65.1 14.83M63.3 16.41H66.3M64.8 14.91V17.91M63.3 14.91L66.3 17.91M63.3 17.91L66.3 14.91M64.5 16.49H67.5M66 14.99V17.99M64.5 14.99L67.5 17.99M64.5 17.99L67.5 14.99M65.69 16.57H68.69M67.19 15.07V18.07M65.69 15.07L68.69 18.07M65.69 18.07L68.69 15.07M66.89 16.66H69.89M68.39 15.16V18.16M66.89 15.16L69.89 18.16M66.89 18.16L69.89 15.16M68.09 16.76H71.09M69.59 15.26V18.26M68.09 15.26L71.09 18.26M68.09 18.26L71.09 15.26M69.28 16.86H72.28M70.78 15.36V18.36M69.28 15.36L72.28 18.36M69.28 18.36L72.28 15.36M70.47 16.96H73.47M71.97 15.46V18.46M70.47 15.46L73.47 18.46M70.47 18.46L73.47 15.46M71.66 17.07H74.66M73.16 15.57V18.57M71.66 15.57L74.66 18.57M71.66 18.57L74.66 15.57M72.84 17.18H75.84M74.34 15.68V18.68M72.84 15.68L75.84 18.68M72.84 18.68L75.84 15.68M74.02 17.29H77.02M75.52 15.79V18.79M74.02 15.79L77.02 18.79M74.02 18.79L77.02 15.79M75.19 17.41H78.19M76.69 15.91V18.91M75.19 15.91L78.19 18.91M75.19 18.91L78.19 15.91M76.36 17.53H79.36M77.86 16.03V19.03M76.36 16.03L79.36 19.03M76.36 19.03L79.36 16.03M77.52 17.65H80.52M79.02 16.15V19.15M77.52 16.15L80.52 19.15M77.52 19.15L80.52 16.15M78.68 17.77H81.68M80.18 16.27V19.27M78.68 16.27L81.68 19.27M78.68 19.27L81.68 16.27M79.83 17.9H82.83M81.33 16.4V19.4M79.83 16.4L82.83 19.4M79.83 19.4L82.83 16.4M80.98 18.02H83.98M82.48 16.52V19.52M80.98 16.52L83.98 19.52M80.98 19.52L83.98 16.52M82.12 18.16H85.12M83.62 16.66V19.66M82.12 16.66L85.12 19.66M82.12 19.66L85.12 16.66M83.26 18.29H86.26M84.76 16.79V19.79M83.26 16.79L86.26 19.79M83.26 19.79L86.26 16.79M84.39 18.43H87.39M85.89 16.93V19.93M84.39 16.93L87.39 19.93M84.39 19.93L87.39 16.93M85.52 18.57H88.52M87.02 17.07V20.07M85.52 17.07L88.52 20.07M85.52 20.07L88.52 17.07M86.64 18.71H89.64M88.14 17.21V20.21M86.64 17.21L89.64 20.21M86.64 20.21L89.64 17.21M87.76 18.85H90.76M89.26 17.35V20.35M87.76 17.35L90.76 20.35M87.76 20.35L90.76 17.35M88.87 19H91.87M90.37 17.5V20.5M88.87 17.5L91.87 20.5M88.87 20.5L91.87 17.5M89.98 19.15H92.98M91.48 17.65V20.65M89.98 17.65L92.98 20.65M89.98 20.65L92.98 17.65M91.09 19.31H94.09M92.59 17.81V20.81M91.09 17.81L94.09 20.81M91.09 20.81L94.09 17.81M92.18 19.47H95.18M93.68 17.97V20.97M92.18 17.97L95.18 20.97M92.18 20.97L95.18 17.97M93.28 19.63H96.28M94.78 18.13V21.13M93.28 18.13L96.28 21.13M93.28 21.13L96.28 18.13M94.37 19.79H97.37M95.87 18.29V21.29M94.37 18.29L97.37 21.29M94.37 21.29L97.37 18.29M95.45 19.95H98.45M96.95 18.45V21.45M95.45 18.45L98.45 21.45M95.45 21.45L98.45 18.45M96.53 20.11H99.53M98.03 18.61V21.61M96.53 18.61L99.53 21.61M96.53 21.61L99.53 18.61M97.61 20.27H100.61M99.11 18.77V21.77M97.61 18.77L100.61 21.77M97.61 21.77L100.61 18.77M98.68 20.42H101.68M100.18 18.92V21.92M98.68 18.92L101.68 21.92M98.68 21.92L101.68 18.92M99.75 20.57H102.75M101.25 19.07V22.07M99.75 19.07L102.75 22.07M99.75 22.07L102.75 19.07M100.82 20.7H103.82M102.32 19.2V22.2M100.82 19.2L103.82 22.2M100.82 22.2L103.82 19.2M101.88 20.84H104.88M103.38 19.34V22.34M101.88 19.34L104.88 22.34M101.88 22.34L104.88 19.34M102.94 20.97H105.94M104.44 19.47V22.47M102.94 19.47L105.94 22.47M102.94 22.47L105.94 19.47M103.99 21.1H106.99M105.49 19.6V22.6M103.99 19.6L106.99 22.6M103.99 22.6L106.99 19.6M105.04 21.24H108.04M106.54 19.74V22.74M105.04 19.74L108.04 22.74M105.04 22.74L108.04 19.74M106.08 21.39H109.08M107.58 19.89V22.89M106.08 19.89L109.08 22.89M106.08 22.89L109.08 19.89M107.12 21.55H110.12M108.62 20.05V23.05M107.12 20.05L110.12 23.05M107.12 23.05L110.12 20.05M108.15 21.74H111.15M109.65 20.24V23.24M108.15 20.24L111.15 23.24M108.15 23.24L111.15 20.24M109.17 21.94H112.17M110.67 20.44V23.44M109.17 20.44L112.17 23.44M109.17 23.44L112.17 20.44M110.19 22.15H113.19M111.69 20.65V23.65M110.19 20.65L113.19 23.65M110.19 23.65L113.19 20.65M111.19 22.38H114.19M112.69 20.88V23.88M111.19 20.88L114.19 23.88M111.19 23.88L114.19 20.88M112.2 22.62H115.2M113.7 21.12V24.12M112.2 21.12L115.2 24.12M112.2 24.12L115.2 21.12M113.19 22.87H116.19M114.69 21.37V24.37M113.19 21.37L116.19 24.37M113.19 24.37L116.19 21.37M114.18 23.12H117.18M115.68 21.62V24.62M114.18 21.62L117.18 24.62M114.18 24.62L117.18 21.62M115.16 23.38H118.16M116.66 21.88V24.88M115.16 21.88L118.16 24.88M115.16 24.88L118.16 21.88M116.14 23.65H119.14M117.64 22.15V25.15M116.14 22.15L119.14 25.15M116.14 25.15L119.14 22.15M117.11 23.91H120.11M118.61 22.41V25.41M117.11 22.41L120.11 25.41M117.11 25.41L120.11 22.41M118.08 24.18H121.08M119.58 22.68V25.68M118.08 22.68L121.08 25.68M118.08 25.68L121.08 22.68M119.05 24.46H122.05M120.55 22.96V25.96M119.05 22.96L122.05 25.96M119.05 25.96L122.05 22.96M120.01 24.73H123.01M121.51 23.23V26.23M120.01 23.23L123.01 26.23M120.01 26.23L123.01 23.23M120.97 25.01H123.97M122.47 23.51V26.51M120.97 23.51L123.97 26.51M120.97 26.51L123.97 23.51M121.93 25.3H124.93M123.43 23.8V26.8M121.93 23.8L124.93 26.8M121.93 26.8L124.93 23.8M122.88 25.59H125.88M124.38 24.09V27.09M122.88 24.09L125.88 27.09M122.88 27.09L125.88 24.09M123.84 25.89H126.84M125.34 24.39V27.39M123.84 24.39L126.84 27.39M123.84 27.39L126.84 24.39M124.79 26.19H127.79M126.29 24.69V27.69M124.79 24.69L127.79 27.69M124.79 27.69L127.79 24.69M125.74 26.49H128.74M127.24 24.99V27.99M125.74 24.99L128.74 27.99M125.74 27.99L128.74 24.99M126.69 26.8H129.69M128.19 25.3V28.3M126.69 25.3L129.69 28.3M126.69 28.3L129.69 25.3M127.64 27.12H130.64M129.14 25.62V28.62M127.64 25.62L130.64 28.62M127.64 28.62L130.64 25.62M128.59 27.43H131.59M130.09 25.93V28.93M128.59 25.93L131.59 28.93M128.59 28.93L131.59 25.93M129.54 27.75H132.54M131.04 26.25V29.25M129.54 26.25L132.54 29.25M129.54 29.25L132.54 26.25M130.48 28.08H133.48M131.98 26.58V29.58M130.48 26.58L133.48 29.58M130.48 29.58L133.48 26.58M131.43 28.41H134.43M132.93 26.91V29.91M131.43 26.91L134.43 29.91M131.43 29.91L134.43 26.91M132.37 28.75H135.37M133.87 27.25V30.25M132.37 27.25L135.37 30.25M132.37 30.25L135.37 27.25M133.31 29.09H136.31M134.81 27.59V30.59M133.31 27.59L136.31 30.59M133.31 30.59L136.31 27.59M134.25 29.43H137.25M135.75 27.93V30.93M134.25 27.93L137.25 30.93M134.25 30.93L137.25 27.93M135.19 29.77H138.19M136.69 28.27V31.27M135.19 28.27L138.19 31.27M135.19 31.27L138.19 28.27M136.13 30.12H139.13M137.63 28.62V31.62M136.13 28.62L139.13 31.62M136.13 31.62L139.13 28.62M137.06 30.47H140.06M138.56 28.97V31.97M137.06 28.97L140.06 31.97M137.06 31.97L140.06 28.97M138 30.82H141M139.5 29.32V32.32M138 29.32L141 32.32M138 32.32L141 29.32M138.94 31.16H141.94M140.44 29.66V32.66M138.94 29.66L141.94 32.66M138.94 32.66L141.94 29.66M139.88 31.51H142.88M141.38 30.01V33.01M139.88 30.01L142.88 33.01M139.88 33.01L142.88 30.01M140.81 31.87H143.81M142.31 30.37V33.37M140.81 30.37L143.81 33.37M140.81 33.37L143.81 30.37M141.75 32.22H144.75M143.25 30.72V33.72M141.75 30.72L144.75 33.72M141.75 33.72L144.75 30.72M142.68 32.58H145.68M144.18 31.08V34.08M142.68 31.08L145.68 34.08M142.68 34.08L145.68 31.08M143.61 32.94H146.61M145.11 31.44V34.44M143.61 31.44L146.61 34.44M143.61 34.44L146.61 31.44M144.55 33.3H147.55M146.05 31.8V34.8M144.55 31.8L147.55 34.8M144.55 34.8L147.55 31.8M145.48 33.65H148.48M146.98 32.15V35.15M145.48 32.15L148.48 35.15M145.48 35.15L148.48 32.15M146.42 34.01H149.42M147.92 32.51V35.51M146.42 32.51L149.42 35.51M146.42 35.51L149.42 32.51M147.35 34.37H150.35M148.85 32.87V35.87M147.35 32.87L150.35 35.87M147.35 35.87L150.35 32.87M148.29 34.72H151.29M149.79 33.22V36.22M148.29 33.22L151.29 36.22M148.29 36.22L151.29 33.22M149.22 35.07H152.22M150.72 33.57V36.57M149.22 33.57L152.22 36.57M149.22 36.57L152.22 33.57M150.16 35.42H153.16M151.66 33.92V36.92M150.16 33.92L153.16 36.92M150.16 36.92L153.16 33.92M151.1 35.77H154.1M152.6 34.27V37.27M151.1 34.27L154.1 37.27M151.1 37.27L154.1 34.27M152.03 36.11H155.03M153.53 34.61V37.61M152.03 34.61L155.03 37.61M152.03 37.61L155.03 34.61M152.97 36.46H155.97M154.47 34.96V37.96M152.97 34.96L155.97 37.96M152.97 37.96L155.97 34.96M153.91 36.81H156.91M155.41 35.31V38.31M153.91 35.31L156.91 38.31M153.91 38.31L156.91 35.31M154.85 37.15H157.85M156.35 35.65V38.65M154.85 35.65L157.85 38.65M154.85 38.65L157.85 35.65M155.79 37.5H158.79M157.29 36V39M155.79 36L158.79 39M155.79 39L158.79 36M156.73 37.84H159.73M158.23 36.34V39.34M156.73 36.34L159.73 39.34M156.73 39.34L159.73 36.34M157.66 38.19H160.66M159.16 36.69V39.69M157.66 36.69L160.66 39.69M157.66 39.69L160.66 36.69M158.6 38.54H161.6M160.1 37.04V40.04M158.6 37.04L161.6 40.04M158.6 40.04L161.6 37.04M159.54 38.89H162.54M161.04 37.39V40.39M159.54 37.39L162.54 40.39M159.54 40.39L162.54 37.39M160.48 39.24H163.48M161.98 37.74V40.74M160.48 37.74L163.48 40.74M160.48 40.74L163.48 37.74M161.41 39.59H164.41M162.91 38.09V41.09M161.41 38.09L164.41 41.09M161.41 41.09L164.41 38.09M162.35 39.94H165.35M163.85 38.44V41.44M162.35 38.44L165.35 41.44M162.35 41.44L165.35 38.44M163.29 40.29H166.29M164.79 38.79V41.79M163.29 38.79L166.29 41.79M163.29 41.79L166.29 38.79M164.22 40.64H167.22M165.72 39.14V42.14M164.22 39.14L167.22 42.14M164.22 42.14L167.22 39.14M165.16 40.99H168.16M166.66 39.49V42.49M165.16 39.49L168.16 42.49M165.16 42.49L168.16 39.49M166.1 41.33H169.1M167.6 39.83V42.83M166.1 39.83L169.1 42.83M166.1 42.83L169.1 39.83M167.04 41.67H170.04M168.54 40.17V43.17M167.04 40.17L170.04 43.17M167.04 43.17L170.04 40.17M167.98 42.01H170.98M169.48 40.51V43.51M167.98 40.51L170.98 43.51M167.98 43.51L170.98 40.51M168.92 42.35H171.92M170.42 40.85V43.85M168.92 40.85L171.92 43.85M168.92 43.85L171.92 40.85M169.86 42.68H172.86M171.36 41.18V44.18M169.86 41.18L172.86 44.18M169.86 44.18L172.86 41.18M170.81 43H173.81M172.31 41.5V44.5M170.81 41.5L173.81 44.5M170.81 44.5L173.81 41.5M171.76 43.32H174.76M173.26 41.82V44.82M171.76 41.82L174.76 44.82M171.76 44.82L174.76 41.82M172.71 43.64H175.71M174.21 42.14V45.14M172.71 42.14L175.71 45.14M172.71 45.14L175.71 42.14M173.65 43.96H176.65M175.15 42.46V45.46M173.65 42.46L176.65 45.46M173.65 45.46L176.65 42.46M174.6 44.27H177.6M176.1 42.77V45.77M174.6 42.77L177.6 45.77M174.6 45.77L177.6 42.77M175.55 44.59H178.55M177.05 43.09V46.09M175.55 43.09L178.55 46.09M175.55 46.09L178.55 43.09M176.5 44.91H179.5M178 43.41V46.41M176.5 43.41L179.5 46.41M176.5 46.41L179.5 43.41M177.44 45.23H180.44M178.94 43.73V46.73M177.44 43.73L180.44 46.73M177.44 46.73L180.44 43.73M178.39 45.56H181.39M179.89 44.06V47.06M178.39 44.06L181.39 47.06M178.39 47.06L181.39 44.06M179.33 45.89H182.33M180.83 44.39V47.39M179.33 44.39L182.33 47.39M179.33 47.39L182.33 44.39M180.28 46.23H183.28M181.78 44.73V47.73M180.28 44.73L183.28 47.73M180.28 47.73L183.28 44.73M181.22 46.56H184.22M182.72 45.06V48.06M181.22 45.06L184.22 48.06M181.22 48.06L184.22 45.06M182.16 46.89H185.16M183.66 45.39V48.39M182.16 45.39L185.16 48.39M182.16 48.39L185.16 45.39M183.1 47.23H186.1M184.6 45.73V48.73M183.1 45.73L186.1 48.73M183.1 48.73L186.1 45.73M184.04 47.57H187.04M185.54 46.07V49.07M184.04 46.07L187.04 49.07M184.04 49.07L187.04 46.07M184.98 47.91H187.98M186.48 46.41V49.41M184.98 46.41L187.98 49.41M184.98 49.41L187.98 46.41M185.92 48.25H188.92M187.42 46.75V49.75M185.92 46.75L188.92 49.75M185.92 49.75L188.92 46.75M186.86 48.6H189.86M188.36 47.1V50.1M186.86 47.1L189.86 50.1M186.86 50.1L189.86 47.1M187.8 48.94H190.8M189.3 47.44V50.44M187.8 47.44L190.8 50.44M187.8 50.44L190.8 47.44M188.74 49.29H191.74M190.24 47.79V50.79M188.74 47.79L191.74 50.79M188.74 50.79L191.74 47.79M189.68 49.64H192.68M191.18 48.14V51.14M189.68 48.14L192.68 51.14M189.68 51.14L192.68 48.14M190.61 49.98H193.61M192.11 48.48V51.48M190.61 48.48L193.61 51.48M190.61 51.48L193.61 48.48M191.55 50.33H194.55M193.05 48.83V51.83M191.55 48.83L194.55 51.83M191.55 51.83L194.55 48.83M192.49 50.68H195.49M193.99 49.18V52.18M192.49 49.18L195.49 52.18M192.49 52.18L195.49 49.18M193.42 51.03H196.42M194.92 49.53V52.53M193.42 49.53L196.42 52.53M193.42 52.53L196.42 49.53M194.36 51.39H197.36M195.86 49.89V52.89M194.36 49.89L197.36 52.89M194.36 52.89L197.36 49.89M195.29 51.75H198.29M196.79 50.25V53.25M195.29 50.25L198.29 53.25M195.29 53.25L198.29 50.25M196.23 52.11H199.23M197.73 50.61V53.61M196.23 50.61L199.23 53.61M196.23 53.61L199.23 50.61M197.16 52.47H200.16M198.66 50.97V53.97M197.16 50.97L200.16 53.97M197.16 53.97L200.16 50.97M198.09 52.84H201.09M199.59 51.34V54.34M198.09 51.34L201.09 54.34M198.09 54.34L201.09 51.34M199.02 53.21H202.02M200.52 51.71V54.71M199.02 51.71L202.02 54.71M199.02 54.71L202.02 51.71M199.94 53.58H202.94M201.44 52.08V55.08M199.94 52.08L202.94 55.08M199.94 55.08L202.94 52.08M200.87 53.97H203.87M202.37 52.47V55.47M200.87 52.47L203.87 55.47M200.87 55.47L203.87 52.47M201.79 54.35H204.79M203.29 52.85V55.85M201.79 52.85L204.79 55.85M201.79 55.85L204.79 52.85M202.71 54.74H205.71M204.21 53.24V56.24M202.71 53.24L205.71 56.24M202.71 56.24L205.71 53.24M203.63 55.13H206.63M205.13 53.63V56.63M203.63 53.63L206.63 56.63M203.63 56.63L206.63 53.63M204.55 55.52H207.55M206.05 54.02V57.02M204.55 54.02L207.55 57.02M204.55 57.02L207.55 54.02M205.47 55.91H208.47M206.97 54.41V57.41M205.47 54.41L208.47 57.41M205.47 57.41L208.47 54.41M206.39 56.3H209.39M207.89 54.8V57.8M206.39 54.8L209.39 57.8M206.39 57.8L209.39 54.8M207.31 56.69H210.31M208.81 55.19V58.19M207.31 55.19L210.31 58.19M207.31 58.19L210.31 55.19M208.23 57.09H211.23M209.73 55.59V58.59M208.23 55.59L211.23 58.59M208.23 58.59L211.23 55.59M209.15 57.48H212.15M210.65 55.98V58.98M209.15 55.98L212.15 58.98M209.15 58.98L212.15 55.98M210.07 57.88H213.07M211.57 56.38V59.38M210.07 56.38L213.07 59.38M210.07 59.38L213.07 56.38M210.99 58.27H213.99M212.49 56.77V59.77M210.99 56.77L213.99 59.77M210.99 59.77L213.99 56.77M211.9 58.68H214.9M213.4 57.18V60.18M211.9 57.18L214.9 60.18M211.9 60.18L214.9 57.18M212.82 59.08H215.82M214.32 57.58V60.58M212.82 57.58L215.82 60.58M212.82 60.58L215.82 57.58M213.74 59.48H216.74M215.24 57.98V60.98M213.74 57.98L216.74 60.98M213.74 60.98L216.74 57.98M214.65 59.88H217.65M216.15 58.38V61.38M214.65 58.38L217.65 61.38M214.65 61.38L217.65 58.38M215.57 60.27H218.57M217.07 58.77V61.77M215.57 58.77L218.57 61.77M215.57 61.77L218.57 58.77M216.49 60.67H219.49M217.99 59.17V62.17M216.49 59.17L219.49 62.17M216.49 62.17L219.49 59.17M217.41 61.05H220.41M218.91 59.55V62.55M217.41 59.55L220.41 62.55M217.41 62.55L220.41 59.55M218.34 61.43H221.34M219.84 59.93V62.93M218.34 59.93L221.34 62.93M218.34 62.93L221.34 59.93M219.27 61.81H222.27M220.77 60.31V63.31M219.27 60.31L222.27 63.31M219.27 63.31L222.27 60.31M220.2 62.17H223.2M221.7 60.67V63.67M220.2 60.67L223.2 63.67M220.2 63.67L223.2 60.67M221.13 62.53H224.13M222.63 61.03V64.03M221.13 61.03L224.13 64.03M221.13 64.03L224.13 61.03M222.07 62.88H225.07M223.57 61.38V64.38M222.07 61.38L225.07 64.38M222.07 64.38L225.07 61.38M223 63.23H226M224.5 61.73V64.73M223 61.73L226 64.73M223 64.73L226 61.73M223.94 63.58H226.94M225.44 62.08V65.08M223.94 62.08L226.94 65.08M223.94 65.08L226.94 62.08M224.88 63.93H227.88M226.38 62.43V65.43M224.88 62.43L227.88 65.43M224.88 65.43L227.88 62.43M225.81 64.28H228.81M227.31 62.78V65.78M225.81 62.78L228.81 65.78M225.81 65.78L228.81 62.78M226.75 64.63H229.75M228.25 63.13V66.13M226.75 63.13L229.75 66.13M226.75 66.13L229.75 63.13M227.69 64.99H230.69M229.19 63.49V66.49M227.69 63.49L230.69 66.49M227.69 66.49L230.69 63.49M228.62 65.35H231.62M230.12 63.85V66.85M228.62 63.85L231.62 66.85M228.62 66.85L231.62 63.85M229.55 65.71H232.55M231.05 64.21V67.21M229.55 64.21L232.55 67.21M229.55 67.21L232.55 64.21M230.48 66.08H233.48M231.98 64.58V67.58M230.48 64.58L233.48 67.58M230.48 67.58L233.48 64.58M231.41 66.44H234.41M232.91 64.94V67.94M231.41 64.94L234.41 67.94M231.41 67.94L234.41 64.94M232.34 66.81H235.34M233.84 65.31V68.31M232.34 65.31L235.34 68.31M232.34 68.31L235.34 65.31M233.27 67.18H236.27M234.77 65.68V68.68M233.27 65.68L236.27 68.68M233.27 68.68L236.27 65.68M234.2 67.55H237.2M235.7 66.05V69.05M234.2 66.05L237.2 69.05M234.2 69.05L237.2 66.05M234.7 68.3H237.7M236.2 66.8V69.8M234.7 66.8L237.7 69.8M234.7 69.8L237.7 66.8M235.13 67.92H238.13M236.63 66.42V69.42M235.13 66.42L238.13 69.42M235.13 69.42L238.13 66.42M235.63 68.67H238.63M237.13 67.17V70.17M235.63 67.17L238.63 70.17M235.63 70.17L238.63 67.17M236.05 68.3H239.05M237.55 66.8V69.8M236.05 66.8L239.05 69.8M236.05 69.8L239.05 66.8M236.55 69.05H239.55M238.05 67.55V70.55M236.55 67.55L239.55 70.55M236.55 70.55L239.55 67.55M236.98 68.67H239.98M238.48 67.17V70.17M236.98 67.17L239.98 70.17M236.98 70.17L239.98 67.17M237.48 69.42H240.48M238.98 67.92V70.92M237.48 67.92L240.48 70.92M237.48 70.92L240.48 67.92M237.9 69.05H240.9M239.4 67.55V70.55M237.9 67.55L240.9 70.55M237.9 70.55L240.9 67.55M238.4 69.8H241.4M239.9 68.3V71.3M238.4 68.3L241.4 71.3M238.4 71.3L241.4 68.3M238.83 69.44H241.83M240.33 67.94V70.94M238.83 67.94L241.83 70.94M238.83 70.94L241.83 67.94M239.33 70.19H242.33M240.83 68.69V71.69M239.33 68.69L242.33 71.69M239.33 71.69L242.33 68.69M239.75 69.82H242.75M241.25 68.32V71.32M239.75 68.32L242.75 71.32M239.75 71.32L242.75 68.32M240.25 70.57H243.25M241.75 69.07V72.07M240.25 69.07L243.25 72.07M240.25 72.07L243.25 69.07M240.67 70.21H243.67M242.17 68.71V71.71M240.67 68.71L243.67 71.71M240.67 71.71L243.67 68.71M241.17 70.96H244.17M242.67 69.46V72.46M241.17 69.46L244.17 72.46M241.17 72.46L244.17 69.46M241.59 70.6H244.59M243.09 69.1V72.1M241.59 69.1L244.59 72.1M241.59 72.1L244.59 69.1M242.09 71.35H245.09M243.59 69.85V72.85M242.09 69.85L245.09 72.85M242.09 72.85L245.09 69.85M242.51 70.99H245.51M244.01 69.49V72.49M242.51 69.49L245.51 72.49M242.51 72.49L245.51 69.49M243.01 71.74H246.01M244.51 70.24V73.24M243.01 70.24L246.01 73.24M243.01 73.24L246.01 70.24M243.43 71.38H246.43M244.93 69.88V72.88M243.43 69.88L246.43 72.88M243.43 72.88L246.43 69.88M243.93 72.13H246.93M245.43 70.63V73.63M243.93 70.63L246.93 73.63M243.93 73.63L246.93 70.63M244.35 71.78H247.35M245.85 70.28V73.28M244.35 70.28L247.35 73.28M244.35 73.28L247.35 70.28M244.85 72.53H247.85M246.35 71.03V74.03M244.85 71.03L247.85 74.03M244.85 74.03L247.85 71.03M245.27 72.18H248.27M246.77 70.68V73.68M245.27 70.68L248.27 73.68M245.27 73.68L248.27 70.68M245.77 72.93H248.77M247.27 71.43V74.43M245.77 71.43L248.77 74.43M245.77 74.43L248.77 71.43M246.19 72.58H249.19M247.69 71.08V74.08M246.19 71.08L249.19 74.08M246.19 74.08L249.19 71.08M246.69 73.33H249.69M248.19 71.83V74.83M246.69 71.83L249.69 74.83M246.69 74.83L249.69 71.83M247.1 72.98H250.1M248.6 71.48V74.48M247.1 71.48L250.1 74.48M247.1 74.48L250.1 71.48M247.6 73.73H250.6M249.1 72.23V75.23M247.6 72.23L250.6 75.23M247.6 75.23L250.6 72.23M248.02 73.39H251.02M249.52 71.89V74.89M248.02 71.89L251.02 74.89M248.02 74.89L251.02 71.89M248.52 74.14H251.52M250.02 72.64V75.64M248.52 72.64L251.52 75.64M248.52 75.64L251.52 72.64M248.93 73.79H251.93M250.43 72.29V75.29M248.93 72.29L251.93 75.29M248.93 75.29L251.93 72.29M249.43 74.54H252.43M250.93 73.04V76.04M249.43 73.04L252.43 76.04M249.43 76.04L252.43 73.04M249.84 74.2H252.84M251.34 72.7V75.7M249.84 72.7L252.84 75.7M249.84 75.7L252.84 72.7M250.34 74.95H253.34M251.84 73.45V76.45M250.34 73.45L253.34 76.45M250.34 76.45L253.34 73.45M250.75 74.61H253.75M252.25 73.11V76.11M250.75 73.11L253.75 76.11M250.75 76.11L253.75 73.11M251.25 75.36H254.25M252.75 73.86V76.86M251.25 73.86L254.25 76.86M251.25 76.86L254.25 73.86M251.66 75.03H254.66M253.16 73.53V76.53M251.66 73.53L254.66 76.53M251.66 76.53L254.66 73.53M252.16 75.78H255.16M253.66 74.28V77.28M252.16 74.28L255.16 77.28M252.16 77.28L255.16 74.28M252.57 75.44H255.57M254.07 73.94V76.94M252.57 73.94L255.57 76.94M252.57 76.94L255.57 73.94M253.07 76.19H256.07M254.57 74.69V77.69M253.07 74.69L256.07 77.69M253.07 77.69L256.07 74.69M253.48 75.86H256.48M254.98 74.36V77.36M253.48 74.36L256.48 77.36M253.48 77.36L256.48 74.36M253.98 76.61H256.98M255.48 75.11V78.11M253.98 75.11L256.98 78.11M253.98 78.11L256.98 75.11M254.39 76.28H257.39M255.89 74.78V77.78M254.39 74.78L257.39 77.78M254.39 77.78L257.39 74.78M254.89 77.03H257.89M256.39 75.53V78.53M254.89 75.53L257.89 78.53M254.89 78.53L257.89 75.53M255.3 76.7H258.3M256.8 75.2V78.2M255.3 75.2L258.3 78.2M255.3 78.2L258.3 75.2M255.8 77.45H258.8M257.3 75.95V78.95M255.8 75.95L258.8 78.95M255.8 78.95L258.8 75.95M256.2 77.12H259.2M257.7 75.62V78.62M256.2 75.62L259.2 78.62M256.2 78.62L259.2 75.62M256.7 77.87H259.7M258.2 76.37V79.37M256.7 76.37L259.7 79.37M256.7 79.37L259.7 76.37M257.11 77.55H260.11M258.61 76.05V79.05M257.11 76.05L260.11 79.05M257.11 79.05L260.11 76.05M257.61 78.3H260.61M259.11 76.8V79.8M257.61 76.8L260.61 79.8M257.61 79.8L260.61 76.8M258.01 77.97H261.01M259.51 76.47V79.47M258.01 76.47L261.01 79.47M258.01 79.47L261.01 76.47M258.51 78.72H261.51M260.01 77.22V80.22M258.51 77.22L261.51 80.22M258.51 80.22L261.51 77.22M258.92 78.4H261.92M260.42 76.9V79.9M258.92 76.9L261.92 79.9M258.92 79.9L261.92 76.9M259.42 79.15H262.42M260.92 77.65V80.65M259.42 77.65L262.42 80.65M259.42 80.65L262.42 77.65M259.82 78.82H262.82M261.32 77.32V80.32M259.82 77.32L262.82 80.32M259.82 80.32L262.82 77.32M260.32 79.57H263.32M261.82 78.07V81.07M260.32 78.07L263.32 81.07M260.32 81.07L263.32 78.07M260.73 79.25H263.73M262.23 77.75V80.75M260.73 77.75L263.73 80.75M260.73 80.75L263.73 77.75M261.23 80H264.23M262.73 78.5V81.5M261.23 78.5L264.23 81.5M261.23 81.5L264.23 78.5M261.63 79.68H264.63M263.13 78.18V81.18M261.63 78.18L264.63 81.18M261.63 81.18L264.63 78.18M262.13 80.43H265.13M263.63 78.93V81.93M262.13 78.93L265.13 81.93M262.13 81.93L265.13 78.93M262.54 80.1H265.54M264.04 78.6V81.6M262.54 78.6L265.54 81.6M262.54 81.6L265.54 78.6M263.04 80.85H266.04M264.54 79.35V82.35M263.04 79.35L266.04 82.35M263.04 82.35L266.04 79.35M263.44 80.53H266.44M264.94 79.03V82.03M263.44 79.03L266.44 82.03M263.44 82.03L266.44 79.03M263.94 81.28H266.94M265.44 79.78V82.78M263.94 79.78L266.94 82.78M263.94 82.78L266.94 79.78M264.34 80.97H267.34M265.84 79.47V82.47M264.34 79.47L267.34 82.47M264.34 82.47L267.34 79.47M264.84 81.72H267.84M266.34 80.22V83.22M264.84 80.22L267.84 83.22M264.84 83.22L267.84 80.22M265.24 81.4H268.24M266.74 79.9V82.9M265.24 79.9L268.24 82.9M265.24 82.9L268.24 79.9M265.74 82.15H268.74M267.24 80.65V83.65M265.74 80.65L268.74 83.65M265.74 83.65L268.74 80.65M266.14 81.84H269.14M267.64 80.34V83.34M266.14 80.34L269.14 83.34M266.14 83.34L269.14 80.34M266.64 82.59H269.64M268.14 81.09V84.09M266.64 81.09L269.64 84.09M266.64 84.09L269.64 81.09M267.04 82.28H270.04M268.54 80.78V83.78M267.04 80.78L270.04 83.78M267.04 83.78L270.04 80.78M267.54 83.03H270.54M269.04 81.53V84.53M267.54 81.53L270.54 84.53M267.54 84.53L270.54 81.53M267.94 82.72H270.94M269.44 81.22V84.22M267.94 81.22L270.94 84.22M267.94 84.22L270.94 81.22M268.44 83.47H271.44M269.94 81.97V84.97M268.44 81.97L271.44 84.97M268.44 84.97L271.44 81.97M268.83 83.17H271.83M270.33 81.67V84.67M268.83 81.67L271.83 84.67M268.83 84.67L271.83 81.67M269.33 83.92H272.33M270.83 82.42V85.42M269.33 82.42L272.33 85.42M269.33 85.42L272.33 82.42M269.72 83.62H272.72M271.22 82.12V85.12M269.72 82.12L272.72 85.12M269.72 85.12L272.72 82.12M270.22 84.37H273.22M271.72 82.87V85.87M270.22 82.87L273.22 85.87M270.22 85.87L273.22 82.87M270.61 84.08H273.61M272.11 82.58V85.58M270.61 82.58L273.61 85.58M270.61 85.58L273.61 82.58M271.11 84.83H274.11M272.61 83.33V86.33M271.11 83.33L274.11 86.33M271.11 86.33L274.11 83.33M271.5 84.54H274.5M273 83.04V86.04M271.5 83.04L274.5 86.04M271.5 86.04L274.5 83.04M272 85.29H275M273.5 83.79V86.79M272 83.79L275 86.79M272 86.79L275 83.79M272.38 85.01H275.38M273.88 83.51V86.51M272.38 83.51L275.38 86.51M272.38 86.51L275.38 83.51M272.88 85.76H275.88M274.38 84.26V87.26M272.88 84.26L275.88 87.26M272.88 87.26L275.88 84.26M273.27 85.48H276.27M274.77 83.98V86.98M273.27 83.98L276.27 86.98M273.27 86.98L276.27 83.98M273.77 86.23H276.77M275.27 84.73V87.73M273.77 84.73L276.77 87.73M273.77 87.73L276.77 84.73M274.15 85.94H277.15M275.65 84.44V87.44M274.15 84.44L277.15 87.44M274.15 87.44L277.15 84.44M274.65 86.69H277.65M276.15 85.19V88.19M274.65 85.19L277.65 88.19M274.65 88.19L277.65 85.19M275.03 86.41H278.03M276.53 84.91V87.91M275.03 84.91L278.03 87.91M275.03 87.91L278.03 84.91M275.53 87.16H278.53M277.03 85.66V88.66M275.53 85.66L278.53 88.66M275.53 88.66L278.53 85.66M275.92 86.88H278.92M277.42 85.38V88.38M275.92 85.38L278.92 88.38M275.92 88.38L278.92 85.38M276.42 87.63H279.42M277.92 86.13V89.13M276.42 86.13L279.42 89.13M276.42 89.13L279.42 86.13M276.81 87.34H279.81M278.31 85.84V88.84M276.81 85.84L279.81 88.84M276.81 88.84L279.81 85.84M277.31 88.09H280.31M278.81 86.59V89.59M277.31 86.59L280.31 89.59M277.31 89.59L280.31 86.59M277.7 87.79H280.7M279.2 86.29V89.29M277.7 86.29L280.7 89.29M277.7 89.29L280.7 86.29M278.2 88.54H281.2M279.7 87.04V90.04M278.2 87.04L281.2 90.04M278.2 90.04L281.2 87.04M278.59 88.24H281.59M280.09 86.74V89.74M278.59 86.74L281.59 89.74M278.59 89.74L281.59 86.74M279.09 88.99H282.09M280.59 87.49V90.49M279.09 87.49L282.09 90.49M279.09 90.49L282.09 87.49M279.48 88.69H282.48M280.98 87.19V90.19M279.48 87.19L282.48 90.19M279.48 90.19L282.48 87.19M279.98 89.44H282.98M281.48 87.94V90.94M279.98 87.94L282.98 90.94M279.98 90.94L282.98 87.94M280.38 89.13H283.38M281.88 87.63V90.63M280.38 87.63L283.38 90.63M280.38 90.63L283.38 87.63M280.88 89.88H283.88M282.38 88.38V91.38M280.88 88.38L283.88 91.38M280.88 91.38L283.88 88.38M281.28 89.56H284.28M282.78 88.06V91.06M281.28 88.06L284.28 91.06M281.28 91.06L284.28 88.06M281.78 90.31H284.78M283.28 88.81V91.81M281.78 88.81L284.78 91.81M281.78 91.81L284.78 88.81M282.18 90H285.18M283.68 88.5V91.5M282.18 88.5L285.18 91.5M282.18 91.5L285.18 88.5M282.68 90.75H285.68M284.18 89.25V92.25M282.68 89.25L285.68 92.25M282.68 92.25L285.68 89.25M283.09 90.43H286.09M284.59 88.93V91.93M283.09 88.93L286.09 91.93M283.09 91.93L286.09 88.93M283.59 91.18H286.59M285.09 89.68V92.68M283.59 89.68L286.59 92.68M283.59 92.68L286.59 89.68M283.99 90.86H286.99M285.49 89.36V92.36M283.99 89.36L286.99 92.36M283.99 92.36L286.99 89.36M284.49 91.61H287.49M285.99 90.11V93.11M284.49 90.11L287.49 93.11M284.49 93.11L287.49 90.11M284.89 91.29H287.89M286.39 89.79V92.79M284.89 89.79L287.89 92.79M284.89 92.79L287.89 89.79M285.39 92.04H288.39M286.89 90.54V93.54M285.39 90.54L288.39 93.54M285.39 93.54L288.39 90.54M285.8 91.71H288.8M287.3 90.21V93.21M285.8 90.21L288.8 93.21M285.8 93.21L288.8 90.21M286.3 92.46H289.3M287.8 90.96V93.96M286.3 90.96L289.3 93.96M286.3 93.96L289.3 90.96M286.7 92.14H289.7M288.2 90.64V93.64M286.7 90.64L289.7 93.64M286.7 93.64L289.7 90.64M287.2 92.89H290.2M288.7 91.39V94.39M287.2 91.39L290.2 94.39M287.2 94.39L290.2 91.39M287.6 92.57H290.6M289.1 91.07V94.07M287.6 91.07L290.6 94.07M287.6 94.07L290.6 91.07M288.1 93.32H291.1M289.6 91.82V94.82M288.1 91.82L291.1 94.82M288.1 94.82L291.1 91.82M288.51 93H291.51M290.01 91.5V94.5M288.51 91.5L291.51 94.5M288.51 94.5L291.51 91.5M289.01 93.75H292.01M290.51 92.25V95.25M289.01 92.25L292.01 95.25M289.01 95.25L292.01 92.25M289.41 93.43H292.41M290.91 91.93V94.93M289.41 91.93L292.41 94.93M289.41 94.93L292.41 91.93M289.91 94.18H292.91M291.41 92.68V95.68M289.91 92.68L292.91 95.68M289.91 95.68L292.91 92.68M290.31 93.87H293.31M291.81 92.37V95.37M290.31 92.37L293.31 95.37M290.31 95.37L293.31 92.37M290.81 94.62H293.81M292.31 93.12V96.12M290.81 93.12L293.81 96.12M290.81 96.12L293.81 93.12M291.21 94.3H294.21M292.71 92.8V95.8M291.21 92.8L294.21 95.8M291.21 95.8L294.21 92.8M291.71 95.05H294.71M293.21 93.55V96.55M291.71 93.55L294.71 96.55M291.71 96.55L294.71 93.55M292.12 94.73H295.12M293.62 93.23V96.23M292.12 93.23L295.12 96.23M292.12 96.23L295.12 93.23M292.62 95.48H295.62M294.12 93.98V96.98M292.62 93.98L295.62 96.98M292.62 96.98L295.62 93.98M293.02 95.16H296.02M294.52 93.66V96.66M293.02 93.66L296.02 96.66M293.02 96.66L296.02 93.66M293.52 95.91H296.52M295.02 94.41V97.41M293.52 94.41L296.52 97.41M293.52 97.41L296.52 94.41M293.92 95.59H296.92M295.42 94.09V97.09M293.92 94.09L296.92 97.09M293.92 97.09L296.92 94.09M294.42 96.34H297.42M295.92 94.84V97.84M294.42 94.84L297.42 97.84M294.42 97.84L297.42 94.84M294.82 96.02H297.82M296.32 94.52V97.52M294.82 94.52L297.82 97.52M294.82 97.52L297.82 94.52M295.32 96.77H298.32M296.82 95.27V98.27M295.32 95.27L298.32 98.27M295.32 98.27L298.32 95.27M295.72 96.45H298.72M297.22 94.95V97.95M295.72 94.95L298.72 97.95M295.72 97.95L298.72 94.95M296.22 97.2H299.22M297.72 95.7V98.7M296.22 95.7L299.22 98.7M296.22 98.7L299.22 95.7M296.62 96.89H299.62M298.12 95.39V98.39M296.62 95.39L299.62 98.39M296.62 98.39L299.62 95.39M297.12 97.64H300.12M298.62 96.14V99.14M297.12 96.14L300.12 99.14M297.12 99.14L300.12 96.14M297.52 97.32H300.52M299.02 95.82V98.82M297.52 95.82L300.52 98.82M297.52 98.82L300.52 95.82M298.02 98.07H301.02M299.52 96.57V99.57M298.02 96.57L301.02 99.57M298.02 99.57L301.02 96.57M298.42 97.76H301.42M299.92 96.26V99.26M298.42 96.26L301.42 99.26M298.42 99.26L301.42 96.26M298.92 98.51H301.92M300.42 97.01V100.01M298.92 97.01L301.92 100.01M298.92 100.01L301.92 97.01M299.32 98.2H302.32M300.82 96.7V99.7M299.32 96.7L302.32 99.7M299.32 99.7L302.32 96.7M299.82 98.95H302.82M301.32 97.45V100.45M299.82 97.45L302.82 100.45M299.82 100.45L302.82 97.45M300.22 98.64H303.22M301.72 97.14V100.14M300.22 97.14L303.22 100.14M300.22 100.14L303.22 97.14M300.72 99.39H303.72M302.22 97.89V100.89M300.72 97.89L303.72 100.89M300.72 100.89L303.72 97.89M301.11 99.09H304.11M302.61 97.59V100.59M301.11 97.59L304.11 100.59M301.11 100.59L304.11 97.59M301.61 99.84H304.61M303.11 98.34V101.34M301.61 98.34L304.61 101.34M301.61 101.34L304.61 98.34M302.01 99.53H305.01M303.51 98.03V101.03M302.01 98.03L305.01 101.03M302.01 101.03L305.01 98.03M302.51 100.28H305.51M304.01 98.78V101.78M302.51 98.78L305.51 101.78M302.51 101.78L305.51 98.78M302.91 99.98H305.91M304.41 98.48V101.48M302.91 98.48L305.91 101.48M302.91 101.48L305.91 98.48M303.41 100.73H306.41M304.91 99.23V102.23M303.41 99.23L306.41 102.23M303.41 102.23L306.41 99.23M303.8 100.43H306.8M305.3 98.93V101.93M303.8 98.93L306.8 101.93M303.8 101.93L306.8 98.93M304.3 101.18H307.3M305.8 99.68V102.68M304.3 99.68L307.3 102.68M304.3 102.68L307.3 99.68M304.69 100.87H307.69M306.19 99.37V102.37M304.69 99.37L307.69 102.37M304.69 102.37L307.69 99.37M305.19 101.62H308.19M306.69 100.12V103.12M305.19 100.12L308.19 103.12M305.19 103.12L308.19 100.12M305.59 101.32H308.59M307.09 99.82V102.82M305.59 99.82L308.59 102.82M305.59 102.82L308.59 99.82M306.09 102.07H309.09M307.59 100.57V103.57M306.09 100.57L309.09 103.57M306.09 103.57L309.09 100.57M306.48 101.77H309.48M307.98 100.27V103.27M306.48 100.27L309.48 103.27M306.48 103.27L309.48 100.27M306.98 102.52H309.98M308.48 101.02V104.02M306.98 101.02L309.98 104.02M306.98 104.02L309.98 101.02M307.37 102.23H310.37M308.87 100.73V103.73M307.37 100.73L310.37 103.73M307.37 103.73L310.37 100.73M307.87 102.98H310.87M309.37 101.48V104.48M307.87 101.48L310.87 104.48M307.87 104.48L310.87 101.48M308.26 102.68H311.26M309.76 101.18V104.18M308.26 101.18L311.26 104.18M308.26 104.18L311.26 101.18M308.76 103.43H311.76M310.26 101.93V104.93M308.76 101.93L311.76 104.93M308.76 104.93L311.76 101.93M309.15 103.13H312.15M310.65 101.63V104.63M309.15 101.63L312.15 104.63M309.15 104.63L312.15 101.63M309.65 103.88H312.65M311.15 102.38V105.38M309.65 102.38L312.65 105.38M309.65 105.38L312.65 102.38M310.04 103.59H313.04M311.54 102.09V105.09M310.04 102.09L313.04 105.09M310.04 105.09L313.04 102.09M310.54 104.34H313.54M312.04 102.84V105.84M310.54 102.84L313.54 105.84M310.54 105.84L313.54 102.84M310.93 104.04H313.93M312.43 102.54V105.54M310.93 102.54L313.93 105.54M310.93 105.54L313.93 102.54M311.43 104.79H314.43M312.93 103.29V106.29M311.43 103.29L314.43 106.29M311.43 106.29L314.43 103.29M311.82 104.5H314.82M313.32 103V106M311.82 103L314.82 106M311.82 106L314.82 103M312.32 105.25H315.32M313.82 103.75V106.75M312.32 103.75L315.32 106.75M312.32 106.75L315.32 103.75M312.71 104.96H315.71M314.21 103.46V106.46M312.71 103.46L315.71 106.46M312.71 106.46L315.71 103.46M313.21 105.71H316.21M314.71 104.21V107.21M313.21 104.21L316.21 107.21M313.21 107.21L316.21 104.21M313.6 105.42H316.6M315.1 103.92V106.92M313.6 103.92L316.6 106.92M313.6 106.92L316.6 103.92M314.1 106.17H317.1M315.6 104.67V107.67M314.1 104.67L317.1 107.67M314.1 107.67L317.1 104.67M314.5 105.88H317.5M316 104.38V107.38M314.5 104.38L317.5 107.38M314.5 107.38L317.5 104.38M315 106.63H318M316.5 105.13V108.13M315 105.13L318 108.13M315 108.13L318 105.13M315.47 106.39H318.47M316.97 104.89V107.89M315.47 104.89L318.47 107.89M315.47 107.89L318.47 104.89M315.97 107.14H318.97M317.47 105.64V108.64M315.97 105.64L318.97 108.64M315.97 108.64L318.97 105.64M316.53 106.95H319.53M318.03 105.45V108.45M316.53 105.45L319.53 108.45M316.53 108.45L319.53 105.45M317.03 107.7H320.03M318.53 106.2V109.2M317.03 106.2L320.03 109.2M317.03 109.2L320.03 106.2M317.68 107.56H320.68M319.18 106.06V109.06M317.68 106.06L320.68 109.06M317.68 109.06L320.68 106.06M318.18 108.31H321.18M319.68 106.81V109.81M318.18 106.81L321.18 109.81M318.18 109.81L321.18 106.81M318.93 108.24H321.93M320.43 106.74V109.74M318.93 106.74L321.93 109.74M318.93 109.74L321.93 106.74M319.43 108.99H322.43M320.93 107.49V110.49M319.43 107.49L322.43 110.49M319.43 110.49L322.43 107.49M320.28 108.98H323.28M321.78 107.48V110.48M320.28 107.48L323.28 110.48M320.28 110.48L323.28 107.48M320.78 109.73H323.78M322.28 108.23V111.23M320.78 108.23L323.78 111.23M320.78 111.23L323.78 108.23M321.75 109.79H324.75M323.25 108.29V111.29M321.75 108.29L324.75 111.29M321.75 111.29L324.75 108.29M322.25 110.54H325.25M323.75 109.04V112.04M322.25 109.04L325.25 112.04M322.25 112.04L325.25 109.04M323.22 110.62H326.22M324.72 109.12V112.12M323.22 109.12L326.22 112.12M323.22 112.12L326.22 109.12M323.72 111.37H326.72M325.22 109.87V112.87M323.72 109.87L326.72 112.87M323.72 112.87L326.72 109.87M324.67 111.44H327.67M326.17 109.94V112.94M324.67 109.94L327.67 112.94M324.67 112.94L327.67 109.94M325.17 112.19H328.17M326.67 110.69V113.69M325.17 110.69L328.17 113.69M325.17 113.69L328.17 110.69M326.11 112.25H329.11M327.61 110.75V113.75M326.11 110.75L329.11 113.75M326.11 113.75L329.11 110.75M326.61 113H329.61M328.11 111.5V114.5M326.61 111.5L329.61 114.5M326.61 114.5L329.61 111.5M327.52 113.05H330.52M329.02 111.55V114.55M327.52 111.55L330.52 114.55M327.52 114.55L330.52 111.55M328.02 113.8H331.02M329.52 112.3V115.3M328.02 112.3L331.02 115.3M328.02 115.3L331.02 112.3M328.93 113.84H331.93M330.43 112.34V115.34M328.93 112.34L331.93 115.34M328.93 115.34L331.93 112.34M329.43 114.59H332.43M330.93 113.09V116.09M329.43 113.09L332.43 116.09M329.43 116.09L332.43 113.09M330.32 114.62H333.32M331.82 113.12V116.12M330.32 113.12L333.32 116.12M330.32 116.12L333.32 113.12M330.82 115.37H333.82M332.32 113.87V116.87M330.82 113.87L333.82 116.87M330.82 116.87L333.82 113.87M331.7 115.38H334.7M333.2 113.88V116.88M331.7 113.88L334.7 116.88M331.7 116.88L334.7 113.88M332.2 116.13H335.2M333.7 114.63V117.63M332.2 114.63L335.2 117.63M332.2 117.63L335.2 114.63M333.06 116.15H336.06M334.56 114.65V117.65M333.06 114.65L336.06 117.65M333.06 117.65L336.06 114.65M333.56 116.9H336.56M335.06 115.4V118.4M333.56 115.4L336.56 118.4M333.56 118.4L336.56 115.4M334.42 116.89H337.42M335.92 115.39V118.39M334.42 115.39L337.42 118.39M334.42 118.39L337.42 115.39M334.92 117.64H337.92M336.42 116.14V119.14M334.92 116.14L337.92 119.14M334.92 119.14L337.92 116.14M335.76 117.61H338.76M337.26 116.11V119.11M335.76 116.11L338.76 119.11M335.76 119.11L338.76 116.11M336.26 118.36H339.26M337.76 116.86V119.86M336.26 116.86L339.26 119.86M336.26 119.86L339.26 116.86M336.9 118.59H339.9M338.4 117.09V120.09M336.9 117.09L339.9 120.09M336.9 120.09L339.9 117.09M337.4 119.34H340.4M338.9 117.84V120.84M337.4 117.84L340.4 120.84M337.4 120.84L340.4 117.84M337.87 119.67H340.87M339.37 118.17V121.17M337.87 118.17L340.87 121.17M337.87 121.17L340.87 118.17M338.37 120.42H341.37M339.87 118.92V121.92M338.37 118.92L341.37 121.92M338.37 121.92L341.37 118.92M338.72 120.71H341.72M340.22 119.21V122.21M338.72 119.21L341.72 122.21M338.72 122.21L341.72 119.21M339.22 121.46H342.22M340.72 119.96V122.96M339.22 119.96L342.22 122.96M339.22 122.96L342.22 119.96M339.49 121.68H342.49M340.99 120.18V123.18M339.49 120.18L342.49 123.18M339.49 123.18L342.49 120.18M339.99 122.43H342.99M341.49 120.93V123.93M339.99 120.93L342.99 123.93M339.99 123.93L342.99 120.93M340.2 122.59H343.2M341.7 121.09V124.09M340.2 121.09L343.2 124.09M340.2 124.09L343.2 121.09M340.7 123.34H343.7M342.2 121.84V124.84M340.7 121.84L343.7 124.84M340.7 124.84L343.7 121.84M340.83 123.45H343.83M342.33 121.95V124.95M340.83 121.95L343.83 124.95M340.83 124.95L343.83 121.95M341.33 124.2H344.33M342.83 122.7V125.7M341.33 122.7L344.33 125.7M341.33 125.7L344.33 122.7M341.38 124.28H344.38M342.88 122.78V125.78M341.38 122.78L344.38 125.78M341.38 125.78L344.38 122.78M341.88 125.03H344.88M343.38 123.53V126.53M341.88 123.53L344.88 126.53M341.88 126.53L344.88 123.53M341.86 125.07H344.86M343.36 123.57V126.57M341.86 123.57L344.86 126.57M341.86 126.57L344.86 123.57M342.29 125.83H345.29M343.79 124.33V127.33M342.29 124.33L345.29 127.33M342.29 127.33L345.29 124.33M342.65 126.58H345.65M344.15 125.08V128.08M342.65 125.08L345.65 128.08M342.65 128.08L345.65 125.08M342.94 127.32H345.94M344.44 125.82V128.82M342.94 125.82L345.94 128.82M342.94 128.82L345.94 125.82M343.21 128.08H346.21M344.71 126.58V129.58M343.21 126.58L346.21 129.58M343.21 129.58L346.21 126.58M343.45 128.84H346.45M344.95 127.34V130.34M343.45 127.34L346.45 130.34M343.45 130.34L346.45 127.34M343.67 129.61H346.67M345.17 128.11V131.11M343.67 128.11L346.67 131.11M343.67 131.11L346.67 128.11M343.86 130.38H346.86M345.36 128.88V131.88M343.86 128.88L346.86 131.88M343.86 131.88L346.86 128.88M344.03 131.17H347.03M345.53 129.67V132.67M344.03 129.67L347.03 132.67M344.03 132.67L347.03 129.67M344.17 131.95H347.17M345.67 130.45V133.45M344.17 130.45L347.17 133.45M344.17 133.45L347.17 130.45M344.29 132.74H347.29M345.79 131.24V134.24M344.29 131.24L347.29 134.24M344.29 134.24L347.29 131.24M344.39 133.54H347.39M345.89 132.04V135.04M344.39 132.04L347.39 135.04M344.39 135.04L347.39 132.04M344.48 134.33H347.48M345.98 132.83V135.83M344.48 132.83L347.48 135.83M344.48 135.83L347.48 132.83M344.57 135.13H347.57M346.07 133.63V136.63M344.57 133.63L347.57 136.63M344.57 136.63L347.57 133.63M344.69 135.92H347.69M346.19 134.42V137.42M344.69 134.42L347.69 137.42M344.69 137.42L347.69 134.42M344.83 136.7H347.83M346.33 135.2V138.2M344.83 135.2L347.83 138.2M344.83 138.2L347.83 135.2M344.86 137.5H347.86M346.36 136V139M344.86 136L347.86 139M344.86 139L347.86 136M344.88 138.3H347.88M346.38 136.8V139.8M344.88 136.8L347.88 139.8M344.88 139.8L347.88 136.8M344.9 139.1H347.9M346.4 137.6V140.6M344.9 137.6L347.9 140.6M344.9 140.6L347.9 137.6M344.92 139.9H347.92M346.42 138.4V141.4M344.92 138.4L347.92 141.4M344.92 141.4L347.92 138.4M344.93 140.7H347.93M346.43 139.2V142.2M344.93 139.2L347.93 142.2M344.93 142.2L347.93 139.2M344.94 141.5H347.94M346.44 140V143M344.94 140L347.94 143M344.94 143L347.94 140M344.95 142.3H347.95M346.45 140.8V143.8M344.95 140.8L347.95 143.8M344.95 143.8L347.95 140.8M344.96 143.1H347.96M346.46 141.6V144.6M344.96 141.6L347.96 144.6M344.96 144.6L347.96 141.6M344.97 143.9H347.97M346.47 142.4V145.4M344.97 142.4L347.97 145.4M344.97 145.4L347.97 142.4M344.97 144.7H347.97M346.47 143.2V146.2M344.97 143.2L347.97 146.2M344.97 146.2L347.97 143.2M344.98 145.5H347.98M346.48 144V147M344.98 144L347.98 147M344.98 147L347.98 144M344.99 146.3H347.99M346.49 144.8V147.8M344.99 144.8L347.99 147.8M344.99 147.8L347.99 144.8M344.99 147.1H347.99M346.49 145.6V148.6M344.99 145.6L347.99 148.6M344.99 148.6L347.99 145.6M345 147.9H348M346.5 146.4V149.4M345 146.4L348 149.4M345 149.4L348 146.4M345.01 148.7H348.01M346.51 147.2V150.2M345.01 147.2L348.01 150.2M345.01 150.2L348.01 147.2M345.01 149.5H348.01M346.51 148V151M345.01 148L348.01 151M345.01 151L348.01 148M345.02 150.3H348.02M346.52 148.8V151.8M345.02 148.8L348.02 151.8M345.02 151.8L348.02 148.8M345.03 151.1H348.03M346.53 149.6V152.6M345.03 149.6L348.03 152.6M345.03 152.6L348.03 149.6M345.03 151.9H348.03M346.53 150.4V153.4M345.03 150.4L348.03 153.4M345.03 153.4L348.03 150.4M345.04 152.7H348.04M346.54 151.2V154.2M345.04 151.2L348.04 154.2M345.04 154.2L348.04 151.2M345.04 153.5H348.04M346.54 152V155M345.04 152L348.04 155M345.04 155L348.04 152M345.05 154.3H348.05M346.55 152.8V155.8M345.05 152.8L348.05 155.8M345.05 155.8L348.05 152.8M345.06 155.1H348.06M346.56 153.6V156.6M345.06 153.6L348.06 156.6M345.06 156.6L348.06 153.6M345.06 155.9H348.06M346.56 154.4V157.4M345.06 154.4L348.06 157.4M345.06 157.4L348.06 154.4M345.07 156.7H348.07M346.57 155.2V158.2M345.07 155.2L348.07 158.2M345.07 158.2L348.07 155.2M345.08 157.5H348.08M346.58 156V159M345.08 156L348.08 159M345.08 159L348.08 156M345.08 158.3H348.08M346.58 156.8V159.8M345.08 156.8L348.08 159.8M345.08 159.8L348.08 156.8M345.09 159.1H348.09M346.59 157.6V160.6M345.09 157.6L348.09 160.6M345.09 160.6L348.09 157.6M345.1 159.9H348.1M346.6 158.4V161.4M345.1 158.4L348.1 161.4M345.1 161.4L348.1 158.4M345.11 160.7H348.11M346.61 159.2V162.2M345.11 159.2L348.11 162.2M345.11 162.2L348.11 159.2M345.12 161.5H348.12M346.62 160V163M345.12 160L348.12 163M345.12 163L348.12 160M345.12 162.3H348.12M346.62 160.8V163.8M345.12 160.8L348.12 163.8M345.12 163.8L348.12 160.8M345.13 163.1H348.13M346.63 161.6V164.6M345.13 161.6L348.13 164.6M345.13 164.6L348.13 161.6M345.14 163.9H348.14M346.64 162.4V165.4M345.14 162.4L348.14 165.4M345.14 165.4L348.14 162.4M345.15 164.7H348.15M346.65 163.2V166.2M345.15 163.2L348.15 166.2M345.15 166.2L348.15 163.2M345.16 165.5H348.16M346.66 164V167M345.16 164L348.16 167M345.16 167L348.16 164M345.16 166.3H348.16M346.66 164.8V167.8M345.16 164.8L348.16 167.8M345.16 167.8L348.16 164.8M345.17 167.1H348.17M346.67 165.6V168.6M345.17 165.6L348.17 168.6M345.17 168.6L348.17 165.6M345.18 167.9H348.18M346.68 166.4V169.4M345.18 166.4L348.18 169.4M345.18 169.4L348.18 166.4M345.19 168.7H348.19M346.69 167.2V170.2M345.19 167.2L348.19 170.2M345.19 170.2L348.19 167.2M345.2 169.5H348.2M346.7 168V171M345.2 168L348.2 171M345.2 171L348.2 168M345.21 170.3H348.21M346.71 168.8V171.8M345.21 168.8L348.21 171.8M345.21 171.8L348.21 168.8M345.21 171.1H348.21M346.71 169.6V172.6M345.21 169.6L348.21 172.6M345.21 172.6L348.21 169.6M345.22 171.9H348.22M346.72 170.4V173.4M345.22 170.4L348.22 173.4M345.22 173.4L348.22 170.4M345.23 172.7H348.23M346.73 171.2V174.2M345.23 171.2L348.23 174.2M345.23 174.2L348.23 171.2M345.24 173.5H348.24M346.74 172V175M345.24 172L348.24 175M345.24 175L348.24 172M345.25 174.3H348.25M346.75 172.8V175.8M345.25 172.8L348.25 175.8M345.25 175.8L348.25 172.8M345.26 175.1H348.26M346.76 173.6V176.6M345.26 173.6L348.26 176.6M345.26 176.6L348.26 173.6M345.26 175.9H348.26M346.76 174.4V177.4M345.26 174.4L348.26 177.4M345.26 177.4L348.26 174.4M345.27 176.7H348.27M346.77 175.2V178.2M345.27 175.2L348.27 178.2M345.27 178.2L348.27 175.2M345.28 177.5H348.28M346.78 176V179M345.28 176L348.28 179M345.28 179L348.28 176M345.29 178.3H348.29M346.79 176.8V179.8M345.29 176.8L348.29 179.8M345.29 179.8L348.29 176.8M345.3 179.1H348.3M346.8 177.6V180.6M345.3 177.6L348.3 180.6M345.3 180.6L348.3 177.6M345.31 179.9H348.31M346.81 178.4V181.4M345.31 178.4L348.31 181.4M345.31 181.4L348.31 178.4M345.31 180.7H348.31M346.81 179.2V182.2M345.31 179.2L348.31 182.2M345.31 182.2L348.31 179.2M345.32 181.5H348.32M346.82 180V183M345.32 180L348.32 183M345.32 183L348.32 180M345.33 182.3H348.33M346.83 180.8V183.8M345.33 180.8L348.33 183.8M345.33 183.8L348.33 180.8M345.34 183.1H348.34M346.84 181.6V184.6M345.34 181.6L348.34 184.6M345.34 184.6L348.34 181.6M345.34 183.9H348.34M346.84 182.4V185.4M345.34 182.4L348.34 185.4M345.34 185.4L348.34 182.4M345.35 184.7H348.35M346.85 183.2V186.2M345.35 183.2L348.35 186.2M345.35 186.2L348.35 183.2M345.36 185.5H348.36M346.86 184V187M345.36 184L348.36 187M345.36 187L348.36 184M345.37 186.3H348.37M346.87 184.8V187.8M345.37 184.8L348.37 187.8M345.37 187.8L348.37 184.8M345.37 187.1H348.37M346.87 185.6V188.6M345.37 185.6L348.37 188.6M345.37 188.6L348.37 185.6M345.38 187.9H348.38M346.88 186.4V189.4M345.38 186.4L348.38 189.4M345.38 189.4L348.38 186.4M345.39 188.7H348.39M346.89 187.2V190.2M345.39 187.2L348.39 190.2M345.39 190.2L348.39 187.2M345.4 189.5H348.4M346.9 188V191M345.4 188L348.4 191M345.4 191L348.4 188M345.4 190.3H348.4M346.9 188.8V191.8M345.4 188.8L348.4 191.8M345.4 191.8L348.4 188.8M345.41 191.1H348.41M346.91 189.6V192.6M345.41 189.6L348.41 192.6M345.41 192.6L348.41 189.6M345.42 191.9H348.42M346.92 190.4V193.4M345.42 190.4L348.42 193.4M345.42 193.4L348.42 190.4M345.42 192.7H348.42M346.92 191.2V194.2M345.42 191.2L348.42 194.2M345.42 194.2L348.42 191.2M345.43 193.5H348.43M346.93 192V195M345.43 192L348.43 195M345.43 195L348.43 192M345.43 194.3H348.43M346.93 192.8V195.8M345.43 192.8L348.43 195.8M345.43 195.8L348.43 192.8M345.44 195.1H348.44M346.94 193.6V196.6M345.44 193.6L348.44 196.6M345.44 196.6L348.44 193.6M345.45 195.9H348.45M346.95 194.4V197.4M345.45 194.4L348.45 197.4M345.45 197.4L348.45 194.4M345.45 196.7H348.45M346.95 195.2V198.2M345.45 195.2L348.45 198.2M345.45 198.2L348.45 195.2M345.46 197.5H348.46M346.96 196V199M345.46 196L348.46 199M345.46 199L348.46 196M345.46 198.3H348.46M346.96 196.8V199.8M345.46 196.8L348.46 199.8M345.46 199.8L348.46 196.8M345.47 199.1H348.47M346.97 197.6V200.6M345.47 197.6L348.47 200.6M345.47 200.6L348.47 197.6M345.47 199.9H348.47M346.97 198.4V201.4M345.47 198.4L348.47 201.4M345.47 201.4L348.47 198.4M345.48 200.7H348.48M346.98 199.2V202.2M345.48 199.2L348.48 202.2M345.48 202.2L348.48 199.2M345.49 201.5H348.49M346.99 200V203M345.49 200L348.49 203M345.49 203L348.49 200M345.49 202.3H348.49M346.99 200.8V203.8M345.49 200.8L348.49 203.8M345.49 203.8L348.49 200.8M345.5 203.1H348.5M347 201.6V204.6M345.5 201.6L348.5 204.6M345.5 204.6L348.5 201.6M345.5 203.9H348.5M347 202.4V205.4M345.5 202.4L348.5 205.4M345.5 205.4L348.5 202.4M345.51 204.7H348.51M347.01 203.2V206.2M345.51 203.2L348.51 206.2M345.51 206.2L348.51 203.2M345.51 205.5H348.51M347.01 204V207M345.51 204L348.51 207M345.51 207L348.51 204M345.52 206.3H348.52M347.02 204.8V207.8M345.52 204.8L348.52 207.8M345.52 207.8L348.52 204.8M345.52 207.1H348.52M347.02 205.6V208.6M345.52 205.6L348.52 208.6M345.52 208.6L348.52 205.6M345.53 207.9H348.53M347.03 206.4V209.4M345.53 206.4L348.53 209.4M345.53 209.4L348.53 206.4M345.53 208.7H348.53M347.03 207.2V210.2M345.53 207.2L348.53 210.2M345.53 210.2L348.53 207.2M345.54 209.5H348.54M347.04 208V211M345.54 208L348.54 211M345.54 211L348.54 208M345.54 210.3H348.54M347.04 208.8V211.8M345.54 208.8L348.54 211.8M345.54 211.8L348.54 208.8M345.55 211.1H348.55M347.05 209.6V212.6M345.55 209.6L348.55 212.6M345.55 212.6L348.55 209.6M345.55 211.9H348.55M347.05 210.4V213.4M345.55 210.4L348.55 213.4M345.55 213.4L348.55 210.4M345.56 212.7H348.56M347.06 211.2V214.2M345.56 211.2L348.56 214.2M345.56 214.2L348.56 211.2M345.56 213.5H348.56M347.06 212V215M345.56 212L348.56 215M345.56 215L348.56 212M345.57 214.3H348.57M347.07 212.8V215.8M345.57 212.8L348.57 215.8M345.57 215.8L348.57 212.8M345.57 215.1H348.57M347.07 213.6V216.6M345.57 213.6L348.57 216.6M345.57 216.6L348.57 213.6M345.58 215.9H348.58M347.08 214.4V217.4M345.58 214.4L348.58 217.4M345.58 217.4L348.58 214.4M345.58 216.7H348.58M347.08 215.2V218.2M345.58 215.2L348.58 218.2M345.58 218.2L348.58 215.2M345.59 217.5H348.59M347.09 216V219M345.59 216L348.59 219M345.59 219L348.59 216M345.6 218.3H348.6M347.1 216.8V219.8M345.6 216.8L348.6 219.8M345.6 219.8L348.6 216.8M34.68 3.6H37.68M36.18 2.1V5.1M34.68 2.1L37.68 5.1M34.68 5.1L37.68 2.1M34.68 4.5H37.68M36.18 3V6M34.68 3L37.68 6M34.68 6L37.68 3M34.68 5.4H37.68M36.18 3.9V6.9M34.68 3.9L37.68 6.9M34.68 6.9L37.68 3.9M34.68 6.3H37.68M36.18 4.8V7.8M34.68 4.8L37.68 7.8M34.68 7.8L37.68 4.8M34.68 7.2H37.68M36.18 5.7V8.7M34.68 5.7L37.68 8.7M34.68 8.7L37.68 5.7M34.68 8.1H37.68M36.18 6.6V9.6M34.68 6.6L37.68 9.6M34.68 9.6L37.68 6.6M34.68 9H37.68M36.18 7.5V10.5M34.68 7.5L37.68 10.5M34.68 10.5L37.68 7.5M34.68 9.9H37.68M36.18 8.4V11.4M34.68 8.4L37.68 11.4M34.68 11.4L37.68 8.4M34.68 10.8H37.68M36.18 9.3V12.3M34.68 9.3L37.68 12.3M34.68 12.3L37.68 9.3M34.68 11.7H37.68M36.18 10.2V13.2M34.68 10.2L37.68 13.2M34.68 13.2L37.68 10.2M34.68 12.6H37.68M36.18 11.1V14.1M34.68 11.1L37.68 14.1M34.68 14.1L37.68 11.1M34.68 13.5H37.68M36.18 12V15M34.68 12L37.68 15M34.68 15L37.68 12M34.68 14.4H37.68M36.18 12.9V15.9M34.68 12.9L37.68 15.9M34.68 15.9L37.68 12.9M34.68 15.3H37.68M36.18 13.8V16.8M34.68 13.8L37.68 16.8M34.68 16.8L37.68 13.8M34.68 16.2H37.68M36.18 14.7V17.7M34.68 14.7L37.68 17.7M34.68 17.7L37.68 14.7M34.68 17.1H37.68M36.18 15.6V18.6M34.68 15.6L37.68 18.6M34.68 18.6L37.68 15.6M34.68 18H37.68M36.18 16.5V19.5M34.68 16.5L37.68 19.5M34.68 19.5L37.68 16.5M34.68 18.9H37.68M36.18 17.4V20.4M34.68 17.4L37.68 20.4M34.68 20.4L37.68 17.4M34.68 19.8H37.68M36.18 18.3V21.3M34.68 18.3L37.68 21.3M34.68 21.3L37.68 18.3M34.68 20.7H37.68M36.18 19.2V22.2M34.68 19.2L37.68 22.2M34.68 22.2L37.68 19.2M34.68 21.6H37.68M36.18 20.1V23.1M34.68 20.1L37.68 23.1M34.68 23.1L37.68 20.1M34.68 22.5H37.68M36.18 21V24M34.68 21L37.68 24M34.68 24L37.68 21M34.68 23.4H37.68M36.18 21.9V24.9M34.68 21.9L37.68 24.9M34.68 24.9L37.68 21.9M34.68 24.3H37.68M36.18 22.8V25.8M34.68 22.8L37.68 25.8M34.68 25.8L37.68 22.8M34.68 25.2H37.68M36.18 23.7V26.7M34.68 23.7L37.68 26.7M34.68 26.7L37.68 23.7M34.68 26.1H37.68M36.18 24.6V27.6M34.68 24.6L37.68 27.6M34.68 27.6L37.68 24.6M34.68 27H37.68M36.18 25.5V28.5M34.68 25.5L37.68 28.5M34.68 28.5L37.68 25.5M34.68 27.9H37.68M36.18 26.4V29.4M34.68 26.4L37.68 29.4M34.68 29.4L37.68 26.4M34.68 28.8H37.68M36.18 27.3V30.3M34.68 27.3L37.68 30.3M34.68 30.3L37.68 27.3M34.68 29.7H37.68M36.18 28.2V31.2M34.68 28.2L37.68 31.2M34.68 31.2L37.68 28.2M34.68 30.6H37.68M36.18 29.1V32.1M34.68 29.1L37.68 32.1M34.68 32.1L37.68 29.1M34.68 31.5H37.68M36.18 30V33M34.68 30L37.68 33M34.68 33L37.68 30M34.68 32.4H37.68M36.18 30.9V33.9M34.68 30.9L37.68 33.9M34.68 33.9L37.68 30.9M34.68 33.3H37.68M36.18 31.8V34.8M34.68 31.8L37.68 34.8M34.68 34.8L37.68 31.8M34.68 34.2H37.68M36.18 32.7V35.7M34.68 32.7L37.68 35.7M34.68 35.7L37.68 32.7M34.68 35.1H37.68M36.18 33.6V36.6M34.68 33.6L37.68 36.6M34.68 36.6L37.68 33.6M34.68 36H37.68M36.18 34.5V37.5M34.68 34.5L37.68 37.5M34.68 37.5L37.68 34.5M34.68 36.9H37.68M36.18 35.4V38.4M34.68 35.4L37.68 38.4M34.68 38.4L37.68 35.4M34.68 37.8H37.68M36.18 36.3V39.3M34.68 36.3L37.68 39.3M34.68 39.3L37.68 36.3M34.68 38.7H37.68M36.18 37.2V40.2M34.68 37.2L37.68 40.2M34.68 40.2L37.68 37.2M34.68 39.6H37.68M36.18 38.1V41.1M34.68 38.1L37.68 41.1M34.68 41.1L37.68 38.1M34.68 40.5H37.68M36.18 39V42M34.68 39L37.68 42M34.68 42L37.68 39M34.68 41.4H37.68M36.18 39.9V42.9M34.68 39.9L37.68 42.9M34.68 42.9L37.68 39.9M34.68 42.3H37.68M36.18 40.8V43.8M34.68 40.8L37.68 43.8M34.68 43.8L37.68 40.8M34.68 43.2H37.68M36.18 41.7V44.7M34.68 41.7L37.68 44.7M34.68 44.7L37.68 41.7M34.68 44.1H37.68M36.18 42.6V45.6M34.68 42.6L37.68 45.6M34.68 45.6L37.68 42.6M34.68 45H37.68M36.18 43.5V46.5M34.68 43.5L37.68 46.5M34.68 46.5L37.68 43.5M34.68 45.9H37.68M36.18 44.4V47.4M34.68 44.4L37.68 47.4M34.68 47.4L37.68 44.4M34.68 46.8H37.68M36.18 45.3V48.3M34.68 45.3L37.68 48.3M34.68 48.3L37.68 45.3M34.68 47.7H37.68M36.18 46.2V49.2M34.68 46.2L37.68 49.2M34.68 49.2L37.68 46.2M34.68 48.6H37.68M36.18 47.1V50.1M34.68 47.1L37.68 50.1M34.68 50.1L37.68 47.1M34.68 49.5H37.68M36.18 48V51M34.68 48L37.68 51M34.68 51L37.68 48M34.68 50.4H37.68M36.18 48.9V51.9M34.68 48.9L37.68 51.9M34.68 51.9L37.68 48.9M34.68 51.3H37.68M36.18 49.8V52.8M34.68 49.8L37.68 52.8M34.68 52.8L37.68 49.8M34.68 52.2H37.68M36.18 50.7V53.7M34.68 50.7L37.68 53.7M34.68 53.7L37.68 50.7M34.68 53.1H37.68M36.18 51.6V54.6M34.68 51.6L37.68 54.6M34.68 54.6L37.68 51.6M34.68 54H37.68M36.18 52.5V55.5M34.68 52.5L37.68 55.5M34.68 55.5L37.68 52.5M34.68 54.9H37.68M36.18 53.4V56.4M34.68 53.4L37.68 56.4M34.68 56.4L37.68 53.4M34.68 55.8H37.68M36.18 54.3V57.3M34.68 54.3L37.68 57.3M34.68 57.3L37.68 54.3M34.68 56.7H37.68M36.18 55.2V58.2M34.68 55.2L37.68 58.2M34.68 58.2L37.68 55.2M34.68 57.6H37.68M36.18 56.1V59.1M34.68 56.1L37.68 59.1M34.68 59.1L37.68 56.1M34.68 58.5H37.68M36.18 57V60M34.68 57L37.68 60M34.68 60L37.68 57M34.68 59.4H37.68M36.18 57.9V60.9M34.68 57.9L37.68 60.9M34.68 60.9L37.68 57.9M34.68 60.3H37.68M36.18 58.8V61.8M34.68 58.8L37.68 61.8M34.68 61.8L37.68 58.8M34.68 61.2H37.68M36.18 59.7V62.7M34.68 59.7L37.68 62.7M34.68 62.7L37.68 59.7M34.68 62.1H37.68M36.18 60.6V63.6M34.68 60.6L37.68 63.6M34.68 63.6L37.68 60.6M34.68 63H37.68M36.18 61.5V64.5M34.68 61.5L37.68 64.5M34.68 64.5L37.68 61.5M34.68 63.9H37.68M36.18 62.4V65.4M34.68 62.4L37.68 65.4M34.68 65.4L37.68 62.4M34.68 64.8H37.68M36.18 63.3V66.3M34.68 63.3L37.68 66.3M34.68 66.3L37.68 63.3M34.68 65.7H37.68M36.18 64.2V67.2M34.68 64.2L37.68 67.2M34.68 67.2L37.68 64.2M34.68 66.6H37.68M36.18 65.1V68.1M34.68 65.1L37.68 68.1M34.68 68.1L37.68 65.1M34.68 67.5H37.68M36.18 66V69M34.68 66L37.68 69M34.68 69L37.68 66M34.68 68.4H37.68M36.18 66.9V69.9M34.68 66.9L37.68 69.9M34.68 69.9L37.68 66.9M34.68 69.3H37.68M36.18 67.8V70.8M34.68 67.8L37.68 70.8M34.68 70.8L37.68 67.8M34.68 70.2H37.68M36.18 68.7V71.7M34.68 68.7L37.68 71.7M34.68 71.7L37.68 68.7M34.68 71.1H37.68M36.18 69.6V72.6M34.68 69.6L37.68 72.6M34.68 72.6L37.68 69.6M34.68 72H37.68M36.18 70.5V73.5M34.68 70.5L37.68 73.5M34.68 73.5L37.68 70.5M34.68 72.9H37.68M36.18 71.4V74.4M34.68 71.4L37.68 74.4M34.68 74.4L37.68 71.4M34.68 73.8H37.68M36.18 72.3V75.3M34.68 72.3L37.68 75.3M34.68 75.3L37.68 72.3M34.68 74.7H37.68M36.18 73.2V76.2M34.68 73.2L37.68 76.2M34.68 76.2L37.68 73.2M34.68 75.6H37.68M36.18 74.1V77.1M34.68 74.1L37.68 77.1M34.68 77.1L37.68 74.1M34.68 76.5H37.68M36.18 75V78M34.68 75L37.68 78M34.68 78L37.68 75M34.68 77.4H37.68M36.18 75.9V78.9M34.68 75.9L37.68 78.9M34.68 78.9L37.68 75.9M34.68 78.3H37.68M36.18 76.8V79.8M34.68 76.8L37.68 79.8M34.68 79.8L37.68 76.8M34.68 79.2H37.68M36.18 77.7V80.7M34.68 77.7L37.68 80.7M34.68 80.7L37.68 77.7M34.68 80.1H37.68M36.18 78.6V81.6M34.68 78.6L37.68 81.6M34.68 81.6L37.68 78.6M34.68 81H37.68M36.18 79.5V82.5M34.68 79.5L37.68 82.5M34.68 82.5L37.68 79.5M34.68 81.9H37.68M36.18 80.4V83.4M34.68 80.4L37.68 83.4M34.68 83.4L37.68 80.4M34.68 82.8H37.68M36.18 81.3V84.3M34.68 81.3L37.68 84.3M34.68 84.3L37.68 81.3M34.68 83.7H37.68M36.18 82.2V85.2M34.68 82.2L37.68 85.2M34.68 85.2L37.68 82.2M34.68 84.6H37.68M36.18 83.1V86.1M34.68 83.1L37.68 86.1M34.68 86.1L37.68 83.1M34.68 85.5H37.68M36.18 84V87M34.68 84L37.68 87M34.68 87L37.68 84M34.68 86.4H37.68M36.18 84.9V87.9M34.68 84.9L37.68 87.9M34.68 87.9L37.68 84.9M34.68 87.3H37.68M36.18 85.8V88.8M34.68 85.8L37.68 88.8M34.68 88.8L37.68 85.8M34.68 88.2H37.68M36.18 86.7V89.7M34.68 86.7L37.68 89.7M34.68 89.7L37.68 86.7M34.68 89.1H37.68M36.18 87.6V90.6M34.68 87.6L37.68 90.6M34.68 90.6L37.68 87.6M34.68 90H37.68M36.18 88.5V91.5M34.68 88.5L37.68 91.5M34.68 91.5L37.68 88.5M34.68 90.9H37.68M36.18 89.4V92.4M34.68 89.4L37.68 92.4M34.68 92.4L37.68 89.4M34.68 91.8H37.68M36.18 90.3V93.3M34.68 90.3L37.68 93.3M34.68 93.3L37.68 90.3M34.68 92.7H37.68M36.18 91.2V94.2M34.68 91.2L37.68 94.2M34.68 94.2L37.68 91.2M34.68 93.6H37.68M36.18 92.1V95.1M34.68 92.1L37.68 95.1M34.68 95.1L37.68 92.1M34.68 94.5H37.68M36.18 93V96M34.68 93L37.68 96M34.68 96L37.68 93M34.68 95.4H37.68M36.18 93.9V96.9M34.68 93.9L37.68 96.9M34.68 96.9L37.68 93.9M34.68 96.3H37.68M36.18 94.8V97.8M34.68 94.8L37.68 97.8M34.68 97.8L37.68 94.8M34.68 97.2H37.68M36.18 95.7V98.7M34.68 95.7L37.68 98.7M34.68 98.7L37.68 95.7M34.68 98.1H37.68M36.18 96.6V99.6M34.68 96.6L37.68 99.6M34.68 99.6L37.68 96.6M34.68 99H37.68M36.18 97.5V100.5M34.68 97.5L37.68 100.5M34.68 100.5L37.68 97.5M34.68 99.9H37.68M36.18 98.4V101.4M34.68 98.4L37.68 101.4M34.68 101.4L37.68 98.4M34.68 100.8H37.68M36.18 99.3V102.3M34.68 99.3L37.68 102.3M34.68 102.3L37.68 99.3M34.68 101.7H37.68M36.18 100.2V103.2M34.68 100.2L37.68 103.2M34.68 103.2L37.68 100.2M34.68 102.6H37.68M36.18 101.1V104.1M34.68 101.1L37.68 104.1M34.68 104.1L37.68 101.1M34.68 103.5H37.68M36.18 102V105M34.68 102L37.68 105M34.68 105L37.68 102M34.68 104.4H37.68M36.18 102.9V105.9M34.68 102.9L37.68 105.9M34.68 105.9L37.68 102.9M34.68 105.3H37.68M36.18 103.8V106.8M34.68 103.8L37.68 106.8M34.68 106.8L37.68 103.8M34.68 106.2H37.68M36.18 104.7V107.7M34.68 104.7L37.68 107.7M34.68 107.7L37.68 104.7M34.68 107.1H37.68M36.18 105.6V108.6M34.68 105.6L37.68 108.6M34.68 108.6L37.68 105.6M34.68 108H37.68M36.18 106.5V109.5M34.68 106.5L37.68 109.5M34.68 109.5L37.68 106.5M34.68 108.9H37.68M36.18 107.4V110.4M34.68 107.4L37.68 110.4M34.68 110.4L37.68 107.4M34.68 109.8H37.68M36.18 108.3V111.3M34.68 108.3L37.68 111.3M34.68 111.3L37.68 108.3M34.68 110.7H37.68M36.18 109.2V112.2M34.68 109.2L37.68 112.2M34.68 112.2L37.68 109.2M34.68 111.6H37.68M36.18 110.1V113.1M34.68 110.1L37.68 113.1M34.68 113.1L37.68 110.1M34.68 112.5H37.68M36.18 111V114M34.68 111L37.68 114M34.68 114L37.68 111M34.68 113.4H37.68M36.18 111.9V114.9M34.68 111.9L37.68 114.9M34.68 114.9L37.68 111.9M34.68 114.3H37.68M36.18 112.8V115.8M34.68 112.8L37.68 115.8M34.68 115.8L37.68 112.8M34.68 115.2H37.68M36.18 113.7V116.7M34.68 113.7L37.68 116.7M34.68 116.7L37.68 113.7M34.68 116.1H37.68M36.18 114.6V117.6M34.68 114.6L37.68 117.6M34.68 117.6L37.68 114.6M34.68 117H37.68M36.18 115.5V118.5M34.68 115.5L37.68 118.5M34.68 118.5L37.68 115.5M34.68 117.9H37.68M36.18 116.4V119.4M34.68 116.4L37.68 119.4M34.68 119.4L37.68 116.4M34.68 118.8H37.68M36.18 117.3V120.3M34.68 117.3L37.68 120.3M34.68 120.3L37.68 117.3M34.68 119.7H37.68M36.18 118.2V121.2M34.68 118.2L37.68 121.2M34.68 121.2L37.68 118.2M34.68 120.6H37.68M36.18 119.1V122.1M34.68 119.1L37.68 122.1M34.68 122.1L37.68 119.1M34.68 121.5H37.68M36.18 120V123M34.68 120L37.68 123M34.68 123L37.68 120M34.68 122.4H37.68M36.18 120.9V123.9M34.68 120.9L37.68 123.9M34.68 123.9L37.68 120.9M34.68 123.3H37.68M36.18 121.8V124.8M34.68 121.8L37.68 124.8M34.68 124.8L37.68 121.8M34.68 124.2H37.68M36.18 122.7V125.7M34.68 122.7L37.68 125.7M34.68 125.7L37.68 122.7M34.68 125.1H37.68M36.18 123.6V126.6M34.68 123.6L37.68 126.6M34.68 126.6L37.68 123.6M34.68 126H37.68M36.18 124.5V127.5M34.68 124.5L37.68 127.5M34.68 127.5L37.68 124.5M34.68 126.9H37.68M36.18 125.4V128.4M34.68 125.4L37.68 128.4M34.68 128.4L37.68 125.4M34.68 127.8H37.68M36.18 126.3V129.3M34.68 126.3L37.68 129.3M34.68 129.3L37.68 126.3M34.68 128.7H37.68M36.18 127.2V130.2M34.68 127.2L37.68 130.2M34.68 130.2L37.68 127.2M34.68 129.6H37.68M36.18 128.1V131.1M34.68 128.1L37.68 131.1M34.68 131.1L37.68 128.1M34.68 130.5H37.68M36.18 129V132M34.68 129L37.68 132M34.68 132L37.68 129M34.68 131.4H37.68M36.18 129.9V132.9M34.68 129.9L37.68 132.9M34.68 132.9L37.68 129.9M34.68 132.3H37.68M36.18 130.8V133.8M34.68 130.8L37.68 133.8M34.68 133.8L37.68 130.8M34.68 133.2H37.68M36.18 131.7V134.7M34.68 131.7L37.68 134.7M34.68 134.7L37.68 131.7M34.68 134.1H37.68M36.18 132.6V135.6M34.68 132.6L37.68 135.6M34.68 135.6L37.68 132.6M34.68 135H37.68M36.18 133.5V136.5M34.68 133.5L37.68 136.5M34.68 136.5L37.68 133.5M34.68 135.9H37.68M36.18 134.4V137.4M34.68 134.4L37.68 137.4M34.68 137.4L37.68 134.4M34.68 136.8H37.68M36.18 135.3V138.3M34.68 135.3L37.68 138.3M34.68 138.3L37.68 135.3M34.68 137.7H37.68M36.18 136.2V139.2M34.68 136.2L37.68 139.2M34.68 139.2L37.68 136.2M34.68 138.6H37.68M36.18 137.1V140.1M34.68 137.1L37.68 140.1M34.68 140.1L37.68 137.1M34.68 139.5H37.68M36.18 138V141M34.68 138L37.68 141M34.68 141L37.68 138M34.68 140.4H37.68M36.18 138.9V141.9M34.68 138.9L37.68 141.9M34.68 141.9L37.68 138.9M34.68 141.3H37.68M36.18 139.8V142.8M34.68 139.8L37.68 142.8M34.68 142.8L37.68 139.8M34.68 142.2H37.68M36.18 140.7V143.7M34.68 140.7L37.68 143.7M34.68 143.7L37.68 140.7M34.68 143.1H37.68M36.18 141.6V144.6M34.68 141.6L37.68 144.6M34.68 144.6L37.68 141.6M34.68 144H37.68M36.18 142.5V145.5M34.68 142.5L37.68 145.5M34.68 145.5L37.68 142.5M34.68 144.9H37.68M36.18 143.4V146.4M34.68 143.4L37.68 146.4M34.68 146.4L37.68 143.4M34.68 145.8H37.68M36.18 144.3V147.3M34.68 144.3L37.68 147.3M34.68 147.3L37.68 144.3M34.68 146.7H37.68M36.18 145.2V148.2M34.68 145.2L37.68 148.2M34.68 148.2L37.68 145.2M34.68 147.6H37.68M36.18 146.1V149.1M34.68 146.1L37.68 149.1M34.68 149.1L37.68 146.1M34.68 148.5H37.68M36.18 147V150M34.68 147L37.68 150M34.68 150L37.68 147M34.68 149.4H37.68M36.18 147.9V150.9M34.68 147.9L37.68 150.9M34.68 150.9L37.68 147.9M34.68 150.3H37.68M36.18 148.8V151.8M34.68 148.8L37.68 151.8M34.68 151.8L37.68 148.8M34.68 151.2H37.68M36.18 149.7V152.7M34.68 149.7L37.68 152.7M34.68 152.7L37.68 149.7M34.68 152.1H37.68M36.18 150.6V153.6M34.68 150.6L37.68 153.6M34.68 153.6L37.68 150.6M34.68 153H37.68M36.18 151.5V154.5M34.68 151.5L37.68 154.5M34.68 154.5L37.68 151.5M34.68 153.9H37.68M36.18 152.4V155.4M34.68 152.4L37.68 155.4M34.68 155.4L37.68 152.4M34.68 154.8H37.68M36.18 153.3V156.3M34.68 153.3L37.68 156.3M34.68 156.3L37.68 153.3M34.68 155.7H37.68M36.18 154.2V157.2M34.68 154.2L37.68 157.2M34.68 157.2L37.68 154.2M34.68 156.6H37.68M36.18 155.1V158.1M34.68 155.1L37.68 158.1M34.68 158.1L37.68 155.1M34.68 157.5H37.68M36.18 156V159M34.68 156L37.68 159M34.68 159L37.68 156M34.68 158.4H37.68M36.18 156.9V159.9M34.68 156.9L37.68 159.9M34.68 159.9L37.68 156.9M34.68 159.3H37.68M36.18 157.8V160.8M34.68 157.8L37.68 160.8M34.68 160.8L37.68 157.8M34.68 160.2H37.68M36.18 158.7V161.7M34.68 158.7L37.68 161.7M34.68 161.7L37.68 158.7M34.68 161.1H37.68M36.18 159.6V162.6M34.68 159.6L37.68 162.6M34.68 162.6L37.68 159.6M34.68 162H37.68M36.18 160.5V163.5M34.68 160.5L37.68 163.5M34.68 163.5L37.68 160.5M34.68 162.9H37.68M36.18 161.4V164.4M34.68 161.4L37.68 164.4M34.68 164.4L37.68 161.4M34.68 163.8H37.68M36.18 162.3V165.3M34.68 162.3L37.68 165.3M34.68 165.3L37.68 162.3M34.68 164.7H37.68M36.18 163.2V166.2M34.68 163.2L37.68 166.2M34.68 166.2L37.68 163.2M34.68 165.6H37.68M36.18 164.1V167.1M34.68 164.1L37.68 167.1M34.68 167.1L37.68 164.1M34.68 166.5H37.68M36.18 165V168M34.68 165L37.68 168M34.68 168L37.68 165M34.68 167.4H37.68M36.18 165.9V168.9M34.68 165.9L37.68 168.9M34.68 168.9L37.68 165.9M34.68 168.3H37.68M36.18 166.8V169.8M34.68 166.8L37.68 169.8M34.68 169.8L37.68 166.8M34.68 169.2H37.68M36.18 167.7V170.7M34.68 167.7L37.68 170.7M34.68 170.7L37.68 167.7M34.68 170.1H37.68M36.18 168.6V171.6M34.68 168.6L37.68 171.6M34.68 171.6L37.68 168.6M34.68 171H37.68M36.18 169.5V172.5M34.68 169.5L37.68 172.5M34.68 172.5L37.68 169.5M34.68 171.9H37.68M36.18 170.4V173.4M34.68 170.4L37.68 173.4M34.68 173.4L37.68 170.4M34.68 172.8H37.68M36.18 171.3V174.3M34.68 171.3L37.68 174.3M34.68 174.3L37.68 171.3M34.68 173.7H37.68M36.18 172.2V175.2M34.68 172.2L37.68 175.2M34.68 175.2L37.68 172.2M34.68 174.6H37.68M36.18 173.1V176.1M34.68 173.1L37.68 176.1M34.68 176.1L37.68 173.1M34.68 175.5H37.68M36.18 174V177M34.68 174L37.68 177M34.68 177L37.68 174M34.68 176.4H37.68M36.18 174.9V177.9M34.68 174.9L37.68 177.9M34.68 177.9L37.68 174.9M34.68 177.3H37.68M36.18 175.8V178.8M34.68 175.8L37.68 178.8M34.68 178.8L37.68 175.8M34.68 178.2H37.68M36.18 176.7V179.7M34.68 176.7L37.68 179.7M34.68 179.7L37.68 176.7M34.68 179.1H37.68M36.18 177.6V180.6M34.68 177.6L37.68 180.6M34.68 180.6L37.68 177.6M34.68 180H37.68M36.18 178.5V181.5M34.68 178.5L37.68 181.5M34.68 181.5L37.68 178.5M34.68 180.9H37.68M36.18 179.4V182.4M34.68 179.4L37.68 182.4M34.68 182.4L37.68 179.4M34.68 181.8H37.68M36.18 180.3V183.3M34.68 180.3L37.68 183.3M34.68 183.3L37.68 180.3M34.68 182.7H37.68M36.18 181.2V184.2M34.68 181.2L37.68 184.2M34.68 184.2L37.68 181.2M34.68 183.6H37.68M36.18 182.1V185.1M34.68 182.1L37.68 185.1M34.68 185.1L37.68 182.1M34.68 184.5H37.68M36.18 183V186M34.68 183L37.68 186M34.68 186L37.68 183M34.68 185.4H37.68M36.18 183.9V186.9M34.68 183.9L37.68 186.9M34.68 186.9L37.68 183.9M34.68 186.3H37.68M36.18 184.8V187.8M34.68 184.8L37.68 187.8M34.68 187.8L37.68 184.8M34.68 187.2H37.68M36.18 185.7V188.7M34.68 185.7L37.68 188.7M34.68 188.7L37.68 185.7M34.68 188.1H37.68M36.18 186.6V189.6M34.68 186.6L37.68 189.6M34.68 189.6L37.68 186.6M34.68 189H37.68M36.18 187.5V190.5M34.68 187.5L37.68 190.5M34.68 190.5L37.68 187.5M34.68 189.9H37.68M36.18 188.4V191.4M34.68 188.4L37.68 191.4M34.68 191.4L37.68 188.4M34.68 190.8H37.68M36.18 189.3V192.3M34.68 189.3L37.68 192.3M34.68 192.3L37.68 189.3M34.68 191.7H37.68M36.18 190.2V193.2M34.68 190.2L37.68 193.2M34.68 193.2L37.68 190.2M34.68 192.6H37.68M36.18 191.1V194.1M34.68 191.1L37.68 194.1M34.68 194.1L37.68 191.1M34.68 193.5H37.68M36.18 192V195M34.68 192L37.68 195M34.68 195L37.68 192M34.68 194.4H37.68M36.18 192.9V195.9M34.68 192.9L37.68 195.9M34.68 195.9L37.68 192.9M34.68 195.3H37.68M36.18 193.8V196.8M34.68 193.8L37.68 196.8M34.68 196.8L37.68 193.8M34.68 196.2H37.68M36.18 194.7V197.7M34.68 194.7L37.68 197.7M34.68 197.7L37.68 194.7M34.68 197.1H37.68M36.18 195.6V198.6M34.68 195.6L37.68 198.6M34.68 198.6L37.68 195.6M34.68 198H37.68M36.18 196.5V199.5M34.68 196.5L37.68 199.5M34.68 199.5L37.68 196.5M34.68 198.9H37.68M36.18 197.4V200.4M34.68 197.4L37.68 200.4M34.68 200.4L37.68 197.4M34.68 199.8H37.68M36.18 198.3V201.3M34.68 198.3L37.68 201.3M34.68 201.3L37.68 198.3M34.68 200.7H37.68M36.18 199.2V202.2M34.68 199.2L37.68 202.2M34.68 202.2L37.68 199.2M34.68 201.6H37.68M36.18 200.1V203.1M34.68 200.1L37.68 203.1M34.68 203.1L37.68 200.1M34.68 202.5H37.68M36.18 201V204M34.68 201L37.68 204M34.68 204L37.68 201M34.68 203.4H37.68M36.18 201.9V204.9M34.68 201.9L37.68 204.9M34.68 204.9L37.68 201.9M34.68 204.3H37.68M36.18 202.8V205.8M34.68 202.8L37.68 205.8M34.68 205.8L37.68 202.8M34.68 205.2H37.68M36.18 203.7V206.7M34.68 203.7L37.68 206.7M34.68 206.7L37.68 203.7M34.68 206.1H37.68M36.18 204.6V207.6M34.68 204.6L37.68 207.6M34.68 207.6L37.68 204.6M34.68 207H37.68M36.18 205.5V208.5M34.68 205.5L37.68 208.5M34.68 208.5L37.68 205.5M34.68 207.9H37.68M36.18 206.4V209.4M34.68 206.4L37.68 209.4M34.68 209.4L37.68 206.4M34.68 208.8H37.68M36.18 207.3V210.3M34.68 207.3L37.68 210.3M34.68 210.3L37.68 207.3M34.68 209.7H37.68M36.18 208.2V211.2M34.68 208.2L37.68 211.2M34.68 211.2L37.68 208.2M34.68 210.6H37.68M36.18 209.1V212.1M34.68 209.1L37.68 212.1M34.68 212.1L37.68 209.1M34.68 211.5H37.68M36.18 210V213M34.68 210L37.68 213M34.68 213L37.68 210M34.68 212.4H37.68M36.18 210.9V213.9M34.68 210.9L37.68 213.9M34.68 213.9L37.68 210.9M34.68 213.3H37.68M36.18 211.8V214.8M34.68 211.8L37.68 214.8M34.68 214.8L37.68 211.8M34.68 214.2H37.68M36.18 212.7V215.7M34.68 212.7L37.68 215.7M34.68 215.7L37.68 212.7M34.68 215.1H37.68M36.18 213.6V216.6M34.68 213.6L37.68 216.6M34.68 216.6L37.68 213.6M34.68 216H37.68M36.18 214.5V217.5M34.68 214.5L37.68 217.5M34.68 217.5L37.68 214.5M34.68 216.9H37.68M36.18 215.4V218.4M34.68 215.4L37.68 218.4M34.68 218.4L37.68 215.4M34.68 217.8H37.68M36.18 216.3V219.3M34.68 216.3L37.68 219.3M34.68 219.3L37.68 216.3M34.68 218.7H37.68M36.18 217.2V220.2M34.68 217.2L37.68 220.2M34.68 220.2L37.68 217.2M327.55 37.7H330.55M329.05 36.2V39.2M327.55 36.2L330.55 39.2M327.55 39.2L330.55 36.2" stroke="#000" stroke-width="0.36" fill="none"/>
<g font-family="'Liberation Sans', Arial, sans-serif" font-size="7.3" fill="#111" stroke="#111" stroke-width="0.15" text-rendering="geometricPrecision">
<text x="36.50" y="229.8" text-anchor="middle" stroke-width="0.22">0.7</text>
<text x="81.07" y="229.8" text-anchor="middle" stroke-width="0.22">0.6</text>
<text x="125.64" y="229.8" text-anchor="middle" stroke-width="0.22">0.5</text>
<text x="170.21" y="229.8" text-anchor="middle" stroke-width="0.22">0.4</text>
<text x="214.79" y="229.8" text-anchor="middle" stroke-width="0.22">0.3</text>
<text x="259.36" y="229.8" text-anchor="middle" stroke-width="0.22">0.2</text>
<text x="303.93" y="229.8" text-anchor="middle" stroke-width="0.22">0.1</text>
<text x="348.50" y="229.8" text-anchor="middle" stroke-width="0.22">0</text>
<text x="31.4" y="221.90" text-anchor="end" stroke-width="0.22">0</text>
<text x="31.4" y="178.62" text-anchor="end" stroke-width="0.22">0.05</text>
<text x="31.4" y="135.34" text-anchor="end" stroke-width="0.22">0.1</text>
<text x="31.4" y="92.06" text-anchor="end" stroke-width="0.22">0.15</text>
<text x="31.4" y="48.78" text-anchor="end" stroke-width="0.22">0.2</text>
<text x="31.4" y="5.50" text-anchor="end" stroke-width="0.22">0.25</text>
<text x="188" y="238.8">x<tspan font-size="5.6" dy="2.7">c</tspan></text>
<text transform="translate(4.2,117.2) rotate(-90)">m<tspan font-size="5.6" dy="2.0">cc</tspan></text>
<text x="314.8" y="11.60" text-anchor="end" font-size="7">KO</text>
<text x="273.70" y="18.50" font-size="7" text-anchor="end">1.3M</text>
<text x="273.50" y="20.90" font-size="5" font-family="'DejaVu Sans', sans-serif" stroke="none" fill="#444">☉</text>
<text x="279.70" y="18.50" font-family="'Liberation Serif', serif" font-style="italic" font-size="7.8" stroke-width="0.2">f</text>
<text x="282.90" y="21.40" font-size="5.4" stroke-width="0.2" fill="#000" stroke="#000">ov</text>
<text x="314.3" y="18.50" font-size="6.8" text-anchor="end">=0.0085</text>
<text x="276.30" y="25.50" font-size="7" text-anchor="end">1.4M</text>
<text x="276.10" y="27.90" font-size="5" font-family="'DejaVu Sans', sans-serif" stroke="none" fill="#444">☉</text>
<text x="283.80" y="25.50" font-family="'Liberation Serif', serif" font-style="italic" font-size="7.8" stroke-width="0.2">f</text>
<text x="287.00" y="28.40" font-size="5.4" stroke-width="0.2" fill="#000" stroke="#000">ov</text>
<text x="314.3" y="25.50" font-size="6.8" text-anchor="end">=0.008</text>
<text x="276.30" y="32.50" font-size="7" text-anchor="end">1.6M</text>
<text x="276.10" y="34.90" font-size="5" font-family="'DejaVu Sans', sans-serif" stroke="none" fill="#444">☉</text>
<text x="283.80" y="32.50" font-family="'Liberation Serif', serif" font-style="italic" font-size="7.8" stroke-width="0.2">f</text>
<text x="287.00" y="35.40" font-size="5.4" stroke-width="0.2" fill="#000" stroke="#000">ov</text>
<text x="314.3" y="32.50" font-size="6.8" text-anchor="end">=0.008</text>
<text x="273.70" y="39.50" font-size="7" text-anchor="end">1.8M</text>
<text x="273.50" y="41.90" font-size="5" font-family="'DejaVu Sans', sans-serif" stroke="none" fill="#444">☉</text>
<text x="279.70" y="39.50" font-family="'Liberation Serif', serif" font-style="italic" font-size="7.8" stroke-width="0.2">f</text>
<text x="282.90" y="42.40" font-size="5.4" stroke-width="0.2" fill="#000" stroke="#000">ov</text>
<text x="314.3" y="39.50" font-size="6.8" text-anchor="end">=0.0075</text>
</g>
</svg>
</body></html>
